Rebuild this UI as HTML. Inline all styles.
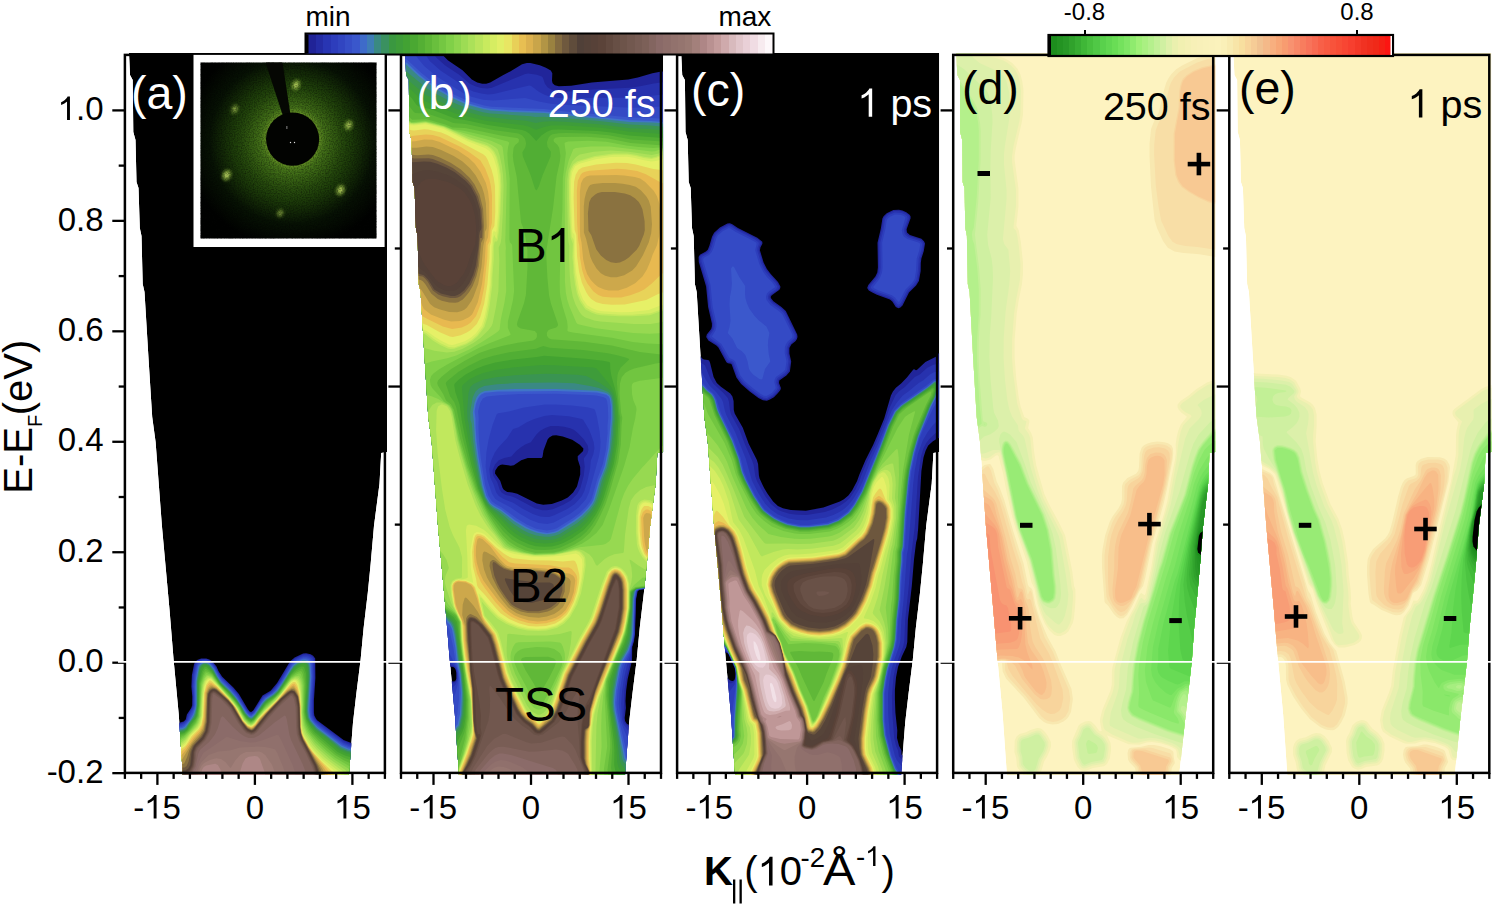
<!DOCTYPE html><html><head><meta charset='utf-8'><style>html,body{margin:0;padding:0;background:#fff;overflow:hidden}svg{display:block}text{font-family:'Liberation Sans',sans-serif}</style></head><body>
<svg width='1493' height='907' viewBox='0 0 1493 907'>
<rect width='1493' height='907' fill='#fff'/>
<clipPath id='clip0'><path d='M129.0,53.0 130.0,75.0 132.7,80.0 133.3,132.0 135.5,140.0 136.5,182.0 138.5,188.0 139.8,228.0 141.5,236.0 142.7,284.0 144.5,292.0 148.6,360.0 152.2,417.0 155.6,442.0 161.9,525.7 169.5,609.6 173.6,659.8 178.7,714.0 182.9,775.0 348.9,775.0 353.0,722.6 356.4,693.3 360.6,659.7 363.6,628.3 367.8,592.7 370.7,563.4 374.0,525.7 379.5,483.8 381.2,453.0 387.0,452.0 387.0,53.0Z'/></clipPath>
<g clip-path='url(#clip0)'><path d='M129.0,53.0 130.0,75.0 132.7,80.0 133.3,132.0 135.5,140.0 136.5,182.0 138.5,188.0 139.8,228.0 141.5,236.0 142.7,284.0 144.5,292.0 148.6,360.0 152.2,417.0 155.6,442.0 161.9,525.7 169.5,609.6 173.6,659.8 178.7,714.0 182.9,775.0 348.9,775.0 353.0,722.6 356.4,693.3 360.6,659.7 363.6,628.3 367.8,592.7 370.7,563.4 374.0,525.7 379.5,483.8 381.2,453.0 387.0,452.0 387.0,53.0Z' fill='#000'/>
<path fill='#21259a' fill-rule='evenodd' d='M303.1,653.6 306.1,653.2 310.6,654.2 313.1,655.7 315.2,658.6 315.4,678.1 313.9,700.6 313.9,712.6 314.4,715.7 315.9,718.6 317.1,720.2 323.5,725.1 343.6,739.9 350.6,742.8 356.6,743.1 363.1,744.3 367.6,746.7 371.2,751.6 380.2,767.1 383.3,773.1 383.9,775.1 122.7,775.1 122.7,762.8 123.7,762.0 127.6,750.6 136.5,732.1 139.2,727.1 143.7,722.2 145.7,721.1 153.7,719.6 174.7,722.4 180.2,722.5 183.7,721.4 185.7,719.6 186.9,714.6 191.2,708.1 192.2,705.2 192.3,696.6 191.4,686.6 191.9,675.1 194.1,664.1 195.1,662.1 197.2,660.1 201.2,658.5 206.2,658.4 209.2,659.4 212.2,661.3 216.5,666.6 218.7,671.4 222.2,676.7 233.4,687.6 238.9,694.1 247.7,709.1 249.6,711.4 251.1,712.1 253.2,710.6 262.5,695.6 270.6,690.8 277.1,683.1 290.0,661.6 294.6,657.6Z'/>
<path fill='#2732ae' fill-rule='evenodd' d='M303.1,654.6 306.6,654.3 310.6,655.4 313.1,657.2 314.3,659.6 314.7,677.6 313.1,700.1 313.1,710.6 313.3,714.6 314.9,718.6 316.6,720.8 322.7,725.6 343.1,740.7 350.1,743.7 356.6,744.1 362.6,745.3 367.1,747.7 370.6,752.3 379.5,767.1 382.8,773.1 383.3,775.1 122.7,775.1 122.7,764.1 123.7,763.4 128.0,751.1 134.7,737.2 139.7,728.0 143.7,723.6 146.2,722.2 153.2,720.8 174.7,723.5 180.7,723.4 184.2,722.0 186.6,719.6 187.6,715.1 191.7,708.6 192.8,705.6 192.9,696.1 192.1,686.6 192.7,675.1 195.0,664.1 195.8,662.6 197.9,660.6 201.6,659.1 206.2,659.1 210.1,660.6 212.2,662.2 216.1,667.1 218.1,671.6 221.7,677.1 232.9,688.1 238.4,694.6 247.2,709.5 249.4,712.1 251.2,712.8 253.9,710.6 263.1,696.2 270.6,691.7 274.1,688.2 280.1,680.1 287.9,666.1 290.6,662.2 295.1,658.3Z'/>
<path fill='#2d3ebc' fill-rule='evenodd' d='M304.1,655.6 307.6,655.8 310.6,656.9 312.5,658.6 313.2,660.6 313.8,677.2 312.3,700.1 312.2,710.7 312.5,715.1 314.2,719.1 316.1,721.6 322.1,726.6 343.6,742.4 350.1,745.0 362.1,746.5 366.3,748.6 372.6,757.0 381.1,771.1 382.8,775.1 122.7,775.1 122.7,764.9 123.8,764.2 128.6,751.2 135.5,737.1 140.5,728.6 144.2,725.0 146.6,723.6 153.2,722.3 174.7,724.7 180.7,724.5 184.2,723.0 187.2,720.1 188.5,715.6 192.3,709.1 193.5,705.6 193.6,696.1 192.9,686.6 193.5,675.6 195.7,665.1 196.7,663.2 198.9,661.1 202.2,659.9 206.2,659.8 209.7,661.2 212.1,663.1 215.6,667.6 217.7,672.1 221.3,677.6 232.4,688.6 237.7,695.0 246.7,709.9 249.2,712.8 251.2,713.6 252.7,713.0 254.3,711.1 260.1,701.5 263.6,696.8 271.1,692.3 274.8,688.6 280.6,680.7 288.5,666.6 291.1,663.0 294.2,660.1 298.1,657.7Z'/>
<path fill='#344ac5' fill-rule='evenodd' d='M303.1,657.0 306.6,656.9 310.1,658.1 311.6,660.0 312.4,662.6 312.9,677.1 311.3,700.1 311.2,710.2 311.6,715.6 313.4,719.6 315.6,722.4 321.6,727.5 343.1,743.6 349.6,746.2 362.1,748.0 365.6,749.8 369.1,753.4 371.9,757.1 381.6,773.0 382.3,775.1 122.7,775.1 122.7,765.5 123.7,765.2 124.2,764.3 129.0,751.6 134.2,741.1 139.2,732.5 142.5,728.1 146.7,725.2 153.2,723.9 174.7,726.1 181.2,725.7 184.7,723.8 188.0,720.2 189.5,716.1 193.3,709.1 194.1,706.1 194.3,696.1 193.7,686.7 194.4,675.6 196.5,665.6 197.6,663.6 199.7,661.8 202.6,660.6 206.2,660.6 209.7,662.0 211.6,663.6 215.1,668.1 220.8,678.1 231.7,689.1 236.8,695.1 246.3,710.6 248.7,713.4 251.1,714.5 252.7,713.9 254.7,711.7 260.6,702.1 264.1,697.6 271.6,692.9 275.4,689.1 281.1,681.3 289.1,667.3 291.8,663.6 296.1,660.0Z'/>
<path fill='#3b58cc' fill-rule='evenodd' d='M303.6,658.1 306.6,658.2 309.2,659.1 310.6,661.0 311.5,664.1 312.1,676.6 310.3,700.1 310.1,710.1 310.6,715.7 312.3,719.6 315.0,723.1 320.6,728.1 342.5,744.6 348.4,747.1 360.1,748.9 365.1,751.1 370.6,756.7 381.1,773.0 381.9,775.1 122.7,775.1 122.7,766.1 124.2,765.1 129.6,751.6 134.7,741.6 139.4,733.6 143.2,729.2 147.2,726.6 153.2,725.4 174.7,727.4 181.7,726.9 184.7,725.1 188.9,720.1 192.9,712.2 194.8,706.1 194.6,686.6 195.3,676.1 197.3,666.1 198.4,664.1 200.2,662.6 202.7,661.5 206.2,661.4 209.2,662.6 211.1,664.1 214.6,668.6 220.7,679.1 231.2,689.7 236.7,696.3 247.4,713.1 249.7,715.1 251.2,715.5 254.6,712.8 261.2,702.7 264.9,698.1 272.1,693.5 276.1,689.6 281.5,682.1 292.2,664.6 297.0,660.6Z'/>
<path fill='#4075c8' fill-rule='evenodd' d='M302.1,659.6 305.1,659.3 308.1,660.1 309.6,662.0 310.5,664.6 311.2,676.6 309.1,710.1 309.9,716.7 311.5,720.1 314.2,723.6 317.6,727.0 341.7,745.6 348.6,748.5 361.6,750.7 366.1,753.4 370.1,757.3 380.6,773.1 381.4,775.2 122.7,775.1 122.7,766.8 124.3,765.7 129.9,752.1 135.2,742.0 139.8,734.6 143.2,730.7 148.2,727.9 152.7,727.0 174.7,728.7 182.2,728.0 184.7,726.6 189.6,720.6 193.0,714.6 195.1,708.6 195.7,704.6 195.4,686.6 195.9,678.6 198.0,667.1 198.9,665.1 200.7,663.4 203.2,662.2 206.2,662.2 208.6,663.1 210.5,664.6 214.1,669.1 217.7,676.1 221.7,681.7 230.7,690.4 236.3,697.1 246.7,713.3 249.2,715.8 251.2,716.6 254.8,713.6 261.8,703.1 265.6,698.6 272.7,694.1 276.6,690.3 282.1,682.7 290.3,668.6 293.0,665.1 297.1,661.7Z'/>
<path fill='#3a8984' fill-rule='evenodd' d='M302.6,660.6 305.1,660.5 307.6,661.5 309.1,663.7 309.8,667.1 310.2,676.6 308.1,710.1 309.0,717.1 310.6,720.5 317.1,728.0 341.1,746.8 348.1,749.7 361.5,752.2 367.6,755.9 369.5,757.6 379.1,771.7 380.9,775.1 122.7,775.1 122.7,767.6 123.7,767.3 124.7,765.7 130.5,752.1 135.7,742.5 138.2,738.3 143.2,732.1 148.7,729.3 152.2,728.6 163.2,728.9 174.7,730.0 182.7,729.2 185.7,727.2 190.9,720.1 193.9,715.1 195.8,709.1 196.4,704.6 196.4,681.6 198.9,667.6 199.7,665.6 201.7,663.9 203.7,663.0 206.1,662.9 208.1,663.6 210.0,665.1 213.6,669.6 217.2,676.6 221.1,682.3 230.2,691.0 236.5,698.6 246.0,713.6 249.1,716.9 251.2,717.7 252.7,716.9 255.3,714.1 262.3,703.6 265.8,699.6 273.3,694.6 277.4,690.6 293.6,665.8 298.1,662.3Z'/>
<path fill='#3a9452' fill-rule='evenodd' d='M301.6,662.0 304.1,661.7 306.6,662.4 308.3,664.6 308.9,667.7 309.4,676.1 307.1,710.1 308.1,717.5 309.6,720.7 316.6,729.0 327.6,737.2 340.6,748.0 347.6,750.9 361.1,753.5 367.6,757.0 379.1,772.6 380.3,775.1 122.7,775.1 122.7,768.6 123.7,768.1 124.7,766.5 131.1,752.1 136.0,743.1 138.7,738.8 143.7,733.0 148.7,730.9 152.2,730.1 162.7,730.3 174.2,731.3 180.7,730.8 184.6,729.6 186.7,727.5 188.9,723.6 194.2,716.9 195.7,713.1 197.0,705.1 197.1,681.6 199.2,669.6 200.3,666.6 202.1,664.6 204.2,663.7 206.2,663.7 209.5,665.6 213.2,670.2 216.8,677.1 220.7,682.9 229.7,691.6 236.1,699.1 241.3,706.7 245.2,713.6 248.7,717.6 251.2,718.7 252.7,718.1 255.7,714.6 263.1,703.7 266.1,700.5 273.9,695.1 277.9,691.2 283.1,683.6 289.3,673.1 294.1,666.6 298.1,663.5Z'/>
<path fill='#3e9c3a' fill-rule='evenodd' d='M303.6,662.8 306.1,663.7 307.3,665.1 308.0,668.1 308.5,676.1 306.3,710.6 307.4,717.7 309.1,721.4 316.1,730.0 327.1,738.2 339.6,748.9 347.1,752.1 361.1,755.0 367.6,758.1 378.6,773.2 379.5,775.1 122.7,775.1 122.7,769.6 123.2,769.6 124.7,767.3 133.2,749.2 139.2,739.3 144.2,733.8 152.7,731.5 177.2,732.5 183.7,731.2 186.7,729.0 189.4,724.1 194.7,717.6 196.3,713.6 197.6,705.1 197.8,682.1 200.0,670.1 201.4,666.6 203.0,665.1 206.2,664.5 208.9,666.1 213.1,671.3 216.2,677.2 220.1,683.1 229.4,692.2 235.8,699.6 241.0,707.1 243.7,712.4 247.7,717.6 251.2,719.6 253.1,718.6 265.1,702.5 267.6,700.0 274.3,695.6 278.3,691.6 289.8,673.6 294.6,667.3 298.6,664.4Z'/>
<path fill='#43a331' fill-rule='evenodd' d='M301.1,664.6 303.6,664.3 305.6,665.2 307.4,672.6 307.4,686.7 306.1,699.1 305.7,711.2 306.9,718.6 309.7,723.6 315.6,731.1 329.1,741.6 339.1,750.3 346.1,753.5 360.1,756.9 366.0,759.7 376.3,773.7 376.7,775.2 122.7,775.1 122.7,770.6 123.7,770.1 133.7,749.3 139.7,739.9 144.2,735.1 152.7,732.7 177.7,733.6 183.7,732.2 187.1,729.6 190.2,724.4 195.3,718.1 196.6,715.1 198.1,705.2 198.4,682.6 200.9,670.6 202.2,667.5 203.7,666.1 205.1,665.4 207.2,665.9 211.5,670.1 219.7,683.3 229.1,692.6 235.2,699.7 240.5,707.1 243.7,713.3 247.3,718.1 251.1,720.3 253.7,718.8 265.1,703.4 268.1,700.5 274.6,696.1 279.0,691.6 290.3,674.1 293.6,669.9 297.1,666.7Z'/>
<path fill='#51ae34' fill-rule='evenodd' d='M301.1,666.6 303.1,666.4 304.1,667.0 306.1,673.6 306.5,686.6 305.5,698.6 305.1,712.1 306.5,719.6 311.3,728.1 315.1,732.6 338.1,752.2 345.6,755.8 357.1,759.1 363.4,762.1 368.7,769.6 371.4,775.1 122.7,775.1 122.7,771.3 124.1,770.1 127.7,762.1 134.2,749.6 140.3,740.6 144.7,736.4 146.6,735.5 153.1,734.2 161.7,734.3 173.2,735.3 177.2,735.1 184.2,732.9 187.7,730.1 190.7,725.2 195.8,718.6 197.2,715.6 198.6,705.6 199.1,682.6 201.9,671.6 204.2,667.6 205.6,667.0 206.7,667.3 211.7,671.7 219.4,683.6 228.7,692.9 236.5,702.1 240.3,707.6 243.2,713.4 247.0,718.6 251.2,721.0 253.7,719.6 265.3,704.1 268.4,701.1 274.6,696.7 279.1,692.1 290.6,674.9 294.1,671.0 297.6,668.2Z'/>
<path fill='#60b838' fill-rule='evenodd' d='M301.6,668.6 303.1,669.7 304.4,673.6 305.4,683.2 304.5,711.6 304.9,715.6 306.5,722.1 310.3,729.1 313.6,733.4 318.6,738.1 336.6,753.7 344.6,757.9 355.1,761.7 361.1,765.0 365.3,771.7 366.6,775.1 122.7,775.1 122.6,771.8 124.2,770.9 128.2,762.1 134.9,749.6 141.2,741.2 145.2,737.7 147.7,736.7 153.7,735.8 173.2,737.0 177.2,736.8 184.2,734.0 188.2,730.6 194.9,721.6 197.7,716.1 199.1,705.6 199.8,683.1 203.1,672.1 205.2,669.1 206.2,669.1 209.2,670.9 212.7,674.0 219.2,683.9 228.2,693.1 236.1,702.5 239.7,707.6 243.1,714.2 246.7,719.1 249.2,720.9 251.2,721.6 254.2,719.7 266.1,704.2 275.1,697.0 279.3,692.6 291.6,675.0 296.6,670.7Z'/>
<path fill='#71c540' fill-rule='evenodd' d='M300.1,671.1 301.6,671.6 302.8,674.1 304.4,683.6 303.8,712.1 304.6,718.6 305.9,723.1 309.3,730.2 312.7,734.6 318.6,740.7 335.1,755.1 344.1,760.4 354.1,764.8 358.5,767.6 360.5,770.6 362.2,775.2 122.7,775.1 122.7,772.4 123.7,772.1 124.4,771.1 128.4,762.6 135.7,749.7 141.7,742.2 145.7,739.1 148.2,738.1 154.2,737.3 173.1,738.6 177.7,738.4 184.7,734.9 189.2,730.6 195.7,722.2 198.4,716.1 199.7,705.1 200.5,683.6 202.9,676.1 204.7,672.2 205.7,671.2 208.7,672.1 212.2,674.6 218.8,684.1 234.5,701.1 239.2,707.6 241.9,713.1 246.0,719.1 248.2,721.1 250.6,722.3 253.7,720.9 266.2,705.1 275.1,697.7 279.1,693.5 291.6,676.3 296.1,672.8Z'/>
<path fill='#82d149' fill-rule='evenodd' d='M206.7,673.0 210.2,674.3 212.2,675.8 218.3,684.1 234.2,701.4 239.0,708.1 241.7,713.6 245.6,719.6 248.7,722.1 250.6,723.0 252.2,722.6 254.1,721.1 264.1,708.4 279.1,694.2 291.1,677.8 296.1,674.4 298.6,673.5 300.3,673.6 301.1,674.8 302.5,679.1 303.5,685.6 303.1,712.1 303.9,719.1 305.6,725.5 308.1,730.9 311.1,735.2 316.4,741.1 327.1,751.2 335.1,757.7 353.6,768.6 356.7,771.6 357.8,775.1 122.7,775.1 122.7,772.9 123.7,772.7 124.5,771.6 128.7,763.1 136.2,750.2 140.2,745.2 143.7,742.0 147.7,739.8 153.7,738.9 173.2,740.3 178.2,739.9 183.7,737.0 189.8,731.1 196.2,723.1 198.9,717.1 200.3,705.1 201.2,684.1 203.6,677.1 205.6,673.6Z'/>
<path fill='#97d951' fill-rule='evenodd' d='M206.7,674.9 210.2,675.4 212.1,676.8 217.8,684.1 233.7,701.7 238.4,708.1 244.9,719.6 248.2,722.6 250.7,723.7 252.1,723.3 254.2,721.8 264.1,709.3 279.4,694.6 291.1,678.8 295.1,676.2 299.1,675.8 301.3,679.6 302.5,685.6 302.9,705.1 302.4,712.6 303.2,719.7 304.6,726.1 307.1,731.9 315.1,742.5 325.6,752.6 334.2,759.6 348.3,768.6 352.2,772.6 353.3,775.1 122.7,775.1 122.7,773.6 123.7,773.3 124.7,772.1 129.2,763.3 136.7,750.6 140.7,746.0 143.7,743.4 148.7,741.0 153.7,740.4 173.2,741.9 179.2,741.3 184.7,737.7 192.9,728.6 197.1,723.3 199.7,716.6 201.9,685.1 204.0,678.6Z'/>
<path fill='#ace159' fill-rule='evenodd' d='M208.2,676.1 211.7,677.3 225.1,693.0 230.2,698.1 237.9,708.2 244.2,719.6 248.2,723.3 250.7,724.4 252.1,724.0 254.1,722.5 264.6,709.7 276.6,698.4 281.2,693.2 291.1,679.7 295.1,677.3 298.3,677.6 300.3,680.6 301.5,685.6 302.2,704.7 301.8,713.6 303.4,725.6 306.2,733.1 313.6,743.6 318.1,748.4 330.1,759.2 345.4,770.1 347.8,773.1 348.4,775.1 123.4,775.1 128.2,766.0 137.2,751.1 143.2,745.0 148.7,742.5 153.2,742.0 173.2,743.6 179.7,742.9 182.2,741.5 185.1,739.0 195.9,726.6 198.3,723.1 200.6,715.6 201.8,691.6 202.9,684.1 205.4,678.1 206.7,676.6Z'/>
<path fill='#c1e85d' fill-rule='evenodd' d='M207.7,677.5 211.2,677.7 214.2,680.9 233.4,702.6 237.7,708.7 244.0,720.1 247.7,723.7 250.7,725.1 252.2,724.7 254.2,723.1 264.6,710.5 275.7,700.1 281.7,693.2 288.6,683.3 291.5,680.1 295.1,678.4 297.6,679.1 299.4,681.6 300.5,686.1 301.2,693.1 301.6,705.6 301.3,713.1 302.2,724.6 303.3,729.6 305.1,734.2 312.1,744.6 316.5,749.6 324.6,757.5 342.4,771.1 344.0,773.2 344.5,775.1 124.2,775.2 127.7,767.7 137.7,751.6 139.7,749.2 143.7,745.9 149.1,743.9 153.7,743.5 172.7,745.2 178.7,744.8 182.5,743.1 186.1,739.6 189.6,734.6 197.2,726.6 199.8,721.6 201.2,715.6 202.4,692.1 203.3,685.6 204.8,681.1Z'/>
<path fill='#d5ed62' fill-rule='evenodd' d='M208.1,678.5 211.1,678.6 220.1,688.1 234.5,704.6 237.3,708.6 243.7,720.4 247.7,724.4 250.7,725.7 252.4,725.1 254.7,723.3 257.6,719.0 264.7,711.1 276.1,700.3 291.6,680.9 294.6,679.5 296.6,680.1 298.1,681.6 298.9,683.6 300.6,693.1 301.7,726.1 302.6,731.1 304.1,735.1 310.6,745.6 314.7,750.7 323.1,759.0 339.7,772.1 341.0,773.6 341.3,775.1 124.7,775.1 128.2,767.7 138.2,752.1 139.7,750.1 143.7,747.0 149.2,745.3 153.7,745.1 175.2,746.9 180.7,745.9 182.9,744.6 185.2,742.6 190.2,735.1 197.6,727.6 200.0,723.6 201.8,716.1 202.5,698.6 204.0,686.1 205.5,681.6Z'/>
<path fill='#e6f067' fill-rule='evenodd' d='M209.7,679.1 211.2,679.5 213.7,681.9 229.6,699.1 236.9,708.6 243.1,720.3 247.7,724.9 250.7,726.3 252.7,725.6 254.7,723.9 258.0,719.1 265.1,711.3 276.4,700.6 290.6,682.8 293.6,680.6 295.1,680.5 296.1,681.1 298.1,684.5 300.0,693.1 300.9,706.1 300.6,713.6 301.3,726.6 302.3,732.1 303.6,735.8 309.6,746.3 313.6,751.6 322.1,760.4 337.9,773.7 338.5,775.2 125.2,775.1 128.2,768.5 138.7,752.8 140.4,750.6 144.2,748.0 149.7,746.6 153.2,746.5 171.7,748.5 175.7,748.5 180.7,747.5 183.2,746.1 185.7,743.8 190.8,735.6 198.2,728.4 200.7,724.2 202.4,716.1 203.0,698.7 204.6,686.6 206.6,681.5 208.2,679.7Z'/>
<path fill='#e8d359' fill-rule='evenodd' d='M209.2,680.6 210.7,680.6 213.2,682.5 229.2,699.1 236.5,708.6 243.0,720.7 247.7,725.5 250.7,726.8 252.7,726.2 255.5,723.6 258.1,719.6 265.4,711.6 276.8,700.6 290.5,684.1 293.1,682.0 295.3,682.1 297.3,685.1 299.5,693.6 300.7,706.6 300.4,713.6 301.1,727.1 302.0,732.6 303.6,737.0 309.1,746.6 313.1,752.2 321.2,761.1 333.2,772.6 334.6,775.1 125.8,775.2 128.7,768.7 135.7,758.6 140.7,752.2 144.2,749.8 147.2,748.9 152.2,748.5 170.7,750.8 175.2,750.8 181.1,749.1 184.1,747.1 186.2,745.0 191.8,736.1 198.8,729.1 201.4,724.6 203.0,716.6 204.2,692.4 206.2,684.8Z'/>
<path fill='#e8b950' fill-rule='evenodd' d='M209.7,682.5 211.6,682.9 217.2,687.1 228.7,699.1 235.5,707.6 242.7,720.6 247.6,726.0 251.2,727.4 253.1,726.5 255.6,724.1 259.1,719.1 276.8,701.1 289.6,686.5 292.6,684.1 294.6,683.8 297.1,687.6 299.2,694.6 300.5,706.6 300.2,713.6 300.8,727.1 301.7,732.6 303.1,736.7 308.6,746.7 312.4,752.1 326.6,768.6 330.5,773.6 331.1,775.1 126.5,775.1 126.8,773.6 129.2,769.1 136.2,759.6 141.7,753.8 144.7,751.9 147.2,751.2 152.2,750.9 176.2,754.0 181.2,751.7 185.1,748.3 193.2,736.8 200.0,729.6 202.0,725.7 203.7,716.6 204.8,692.6 206.7,686.6 208.2,683.9Z'/>
<path fill='#cda84b' fill-rule='evenodd' d='M210.2,684.4 211.7,684.6 216.6,687.5 228.7,699.5 235.2,707.6 242.7,721.1 247.7,726.5 251.1,728.0 252.7,727.6 255.8,724.7 259.3,719.6 278.1,700.1 286.6,690.5 291.6,686.4 293.1,685.6 294.1,685.8 297.1,690.3 299.0,696.1 300.2,706.6 300.6,727.1 301.5,732.6 302.6,736.2 308.6,747.4 324.6,769.1 327.5,773.6 327.8,775.2 127.2,775.1 127.7,773.1 129.7,769.6 136.7,760.7 142.7,755.4 145.7,753.8 152.2,753.4 177.2,757.3 179.2,756.9 182.1,754.6 186.2,749.6 193.9,738.2 200.2,731.5 202.3,727.6 203.2,725.1 204.4,717.6 205.5,693.1 207.7,687.3Z'/>
<path fill='#ad9144' fill-rule='evenodd' d='M210.2,686.4 212.2,686.3 216.2,687.9 228.4,699.6 234.8,707.6 242.6,721.5 247.7,727.1 251.2,728.7 253.2,727.9 256.1,724.9 259.5,720.1 266.1,712.7 287.1,690.9 291.6,687.8 293.1,687.4 294.1,687.8 296.6,691.0 298.8,697.1 300.0,706.6 300.4,727.1 301.2,732.6 302.5,736.6 308.1,747.3 322.5,769.1 325.0,775.1 128.0,775.1 128.5,773.1 130.4,770.1 137.7,761.2 143.2,757.3 146.2,755.9 152.2,755.8 177.7,760.5 180.7,760.6 182.1,759.6 191.7,743.6 195.2,738.9 200.2,733.6 203.2,728.6 205.0,720.7 206.4,693.1 208.2,688.8Z'/>
<path fill='#8a7240' fill-rule='evenodd' d='M211.7,687.6 214.7,688.0 216.7,689.1 228.1,699.8 233.1,705.6 242.5,721.6 247.7,727.7 251.2,729.4 253.7,728.3 266.1,713.3 287.1,691.8 291.6,689.1 293.1,689.0 294.6,689.8 297.4,694.1 298.7,698.1 299.9,707.1 300.2,727.2 301.2,733.6 303.5,739.6 320.6,769.1 322.5,775.1 128.8,775.1 129.3,773.1 132.4,768.6 138.2,762.2 140.7,760.5 146.2,758.2 152.2,758.3 178.7,763.8 182.7,764.1 184.2,763.4 187.3,756.6 189.2,750.6 192.1,745.1 200.6,735.3 203.8,730.2 205.8,721.1 207.1,693.6 209.1,689.2Z'/>
<path fill='#6d573e' fill-rule='evenodd' d='M212.7,688.6 214.7,688.8 216.7,689.8 228.2,700.2 232.8,705.6 242.1,721.6 247.2,727.8 249.2,729.4 251.2,730.1 252.7,729.7 254.0,728.6 269.6,710.1 280.6,698.6 287.6,692.2 291.6,690.0 294.6,690.9 297.8,696.1 299.3,704.2 300.0,727.1 301.0,733.6 303.2,739.6 317.3,765.2 319.3,770.1 320.2,775.2 129.5,775.2 130.1,773.1 132.9,769.1 138.5,763.1 140.7,761.8 145.2,760.3 152.2,760.8 180.2,767.4 184.7,767.5 186.6,766.1 188.6,761.6 190.7,751.1 192.9,746.1 201.3,736.6 204.6,731.0 206.5,721.6 207.2,698.6 207.8,693.6 209.7,690.1Z'/>
<path fill='#564439' fill-rule='evenodd' d='M212.1,689.5 214.2,689.3 216.2,690.1 228.1,700.7 232.6,706.0 242.1,722.1 247.1,728.4 251.2,730.6 252.7,730.3 254.2,729.2 266.1,714.5 281.1,698.6 290.1,691.1 292.1,690.7 294.6,691.8 297.6,696.6 299.0,704.1 299.8,727.1 300.7,733.6 302.8,739.7 316.4,765.2 318.3,770.7 318.6,775.1 130.1,775.1 130.5,773.7 133.7,769.2 138.7,764.0 140.7,762.8 145.2,761.5 157.2,763.9 180.2,770.1 185.2,770.5 188.2,768.6 190.2,764.8 191.5,752.2 193.4,747.1 194.9,744.7 202.2,737.1 205.5,731.1 207.1,722.1 207.8,698.6 208.3,694.1 210.2,690.7Z'/>
<path fill='#544138' fill-rule='evenodd' d='M212.2,690.1 214.1,689.8 216.2,690.7 227.7,700.7 232.3,706.1 240.7,720.6 245.9,727.7 248.2,729.9 251.2,731.2 252.7,730.9 254.4,729.6 266.6,714.6 281.6,698.7 290.1,691.7 292.1,691.3 294.2,692.1 297.2,696.6 298.6,703.8 299.2,707.6 299.6,727.2 300.4,733.6 302.4,739.6 315.9,765.6 317.5,770.6 317.8,775.1 130.8,775.2 131.2,773.6 134.0,769.7 139.2,764.4 140.7,763.5 145.2,762.3 159.2,765.3 179.7,771.0 185.2,771.5 189.0,769.2 191.0,765.1 192.1,757.6 192.3,752.1 194.1,747.1 195.4,745.1 202.7,737.6 206.1,731.1 207.7,722.1 208.3,698.6 208.8,694.6 210.2,691.7Z'/>
<path fill='#594238' fill-rule='evenodd' d='M212.7,690.6 214.7,690.5 216.2,691.3 223.6,697.3 227.7,701.3 232.2,706.6 240.6,721.1 245.7,728.1 248.2,730.4 251.2,731.7 252.6,731.4 254.7,730.1 266.8,715.1 281.6,699.3 290.1,692.4 292.1,691.9 293.9,692.6 297.0,697.6 298.7,706.6 299.3,727.1 300.0,733.6 302.0,739.6 308.6,751.9 315.3,765.7 316.9,770.6 317.1,775.1 131.5,775.1 131.8,773.6 134.3,770.2 139.2,765.1 141.2,763.9 145.2,762.9 160.7,766.3 179.7,771.7 185.2,772.2 189.4,769.6 191.7,765.2 192.9,752.1 194.7,747.3 196.1,745.1 200.7,741.1 203.2,738.0 206.6,731.6 208.2,722.1 208.8,698.6 209.3,694.6 210.7,691.9Z'/>
<path fill='#61493f' fill-rule='evenodd' d='M212.7,691.1 214.2,691.0 215.7,691.6 223.3,697.6 227.3,701.6 231.7,706.7 240.0,721.1 245.4,728.6 247.7,730.7 251.2,732.2 253.2,731.8 255.2,730.4 267.1,715.5 282.0,699.7 290.1,693.0 291.6,692.5 293.6,693.1 296.5,697.6 298.3,706.7 298.9,727.1 299.7,734.1 301.5,739.6 308.1,752.0 314.7,765.6 316.3,770.6 316.5,775.1 132.1,775.1 132.5,773.6 134.7,770.6 139.7,765.5 141.2,764.5 145.2,763.5 160.7,766.9 178.7,772.0 184.2,772.9 186.7,772.3 189.7,770.1 192.1,765.6 193.2,758.1 193.5,752.1 195.1,747.6 196.4,745.6 201.2,741.4 203.7,738.3 207.2,731.6 208.8,722.1 209.4,698.1 210.2,693.6 211.2,692.1Z'/>
<path fill='#695147' fill-rule='evenodd' d='M213.2,691.6 215.2,692.0 219.4,695.1 227.0,702.2 231.3,707.1 239.7,721.6 245.1,729.1 247.6,731.4 251.2,732.8 253.1,732.4 255.7,730.7 267.6,715.8 282.3,700.1 290.1,693.6 291.6,693.1 293.3,693.6 296.1,698.1 297.8,707.1 298.4,727.1 299.2,734.1 300.9,739.6 314.1,765.6 315.8,771.2 315.9,775.1 132.8,775.1 133.2,773.6 135.2,770.9 140.2,765.8 145.2,764.1 152.7,765.5 171.2,770.8 184.2,773.7 187.2,772.6 190.2,770.5 192.7,765.6 193.8,758.1 194.0,752.6 195.7,747.8 204.1,738.6 207.7,731.6 209.4,722.1 210.0,698.1 210.8,693.6Z'/>
<path fill='#71574e' fill-rule='evenodd' d='M213.7,692.1 219.2,695.7 226.7,702.6 231.0,707.6 239.4,722.1 244.7,729.5 247.2,731.7 251.2,733.4 253.7,732.8 256.0,731.1 268.1,716.1 282.6,700.6 290.1,694.3 291.6,693.7 293.0,694.1 295.5,698.1 297.3,707.1 297.8,727.1 298.6,734.1 300.5,740.1 307.1,752.4 313.6,766.0 315.3,771.1 315.3,775.1 185.3,775.1 185.7,774.1 190.8,770.6 193.0,766.6 193.9,762.6 194.6,752.1 196.4,747.6 204.4,739.2 208.2,732.1 209.9,722.1 210.5,698.1 211.5,693.6ZM145.7,764.7 152.6,766.1 171.2,771.4 182.2,773.7 183.1,774.1 183.5,775.1 133.5,775.1 133.8,773.6 136.6,770.1 140.7,766.1Z'/>
<path fill='#795d55' fill-rule='evenodd' d='M213.2,692.9 214.7,693.1 218.7,696.1 226.2,703.0 230.2,707.6 238.9,722.6 244.2,729.9 246.7,732.2 251.2,734.0 253.7,733.4 256.4,731.7 268.5,716.6 283.1,701.0 290.1,695.1 291.6,694.4 292.6,694.8 295.0,698.6 296.6,707.1 297.2,727.2 297.9,734.1 299.8,740.1 306.6,752.8 313.0,766.1 314.6,771.1 314.7,775.1 186.5,775.1 186.9,774.1 191.2,771.1 193.6,766.6 195.0,758.1 195.2,752.6 196.8,748.1 204.8,739.6 208.9,732.1 210.6,722.6 211.1,698.6 211.8,694.6ZM144.2,765.6 147.7,765.7 160.1,768.6 170.7,771.9 181.7,774.3 182.2,775.1 134.2,775.1 134.6,773.6 136.1,771.6 140.5,767.1Z'/>
<path fill='#82645e' fill-rule='evenodd' d='M213.7,694.1 221.2,699.6 229.2,708.1 238.1,723.1 243.6,730.6 246.1,733.0 251.2,735.0 253.7,734.4 256.7,732.6 269.1,717.5 278.6,707.0 290.6,696.1 292.1,696.0 293.9,699.1 295.6,707.6 296.2,727.7 296.9,734.6 298.9,740.6 305.6,753.1 312.1,766.8 313.6,771.6 313.7,775.2 188.0,775.1 188.0,774.6 192.1,771.1 194.3,766.6 195.8,758.1 196.0,752.7 197.7,748.4 205.6,740.2 209.9,732.1 211.6,722.6 212.3,698.6 212.9,695.1ZM144.2,766.6 147.2,766.7 159.9,769.6 175.7,774.2 177.1,774.6 177.1,775.1 135.5,775.1 137.1,772.1 141.0,768.1Z'/>
<path fill='#8b6b69' fill-rule='evenodd' d='M284.6,715.6 285.6,716.1 286.7,719.1 289.5,735.1 291.1,740.1 302.6,764.1 304.7,769.6 305.7,775.1 190.8,775.1 195.5,766.7 198.1,754.2 199.1,751.6 200.9,749.1 209.2,742.1 214.9,734.6 217.7,728.6 220.8,718.1 222.2,716.2 223.7,717.0 232.4,726.6 240.2,733.6 244.2,736.2 248.7,737.9 251.2,738.1 254.2,737.8 258.9,735.6 275.2,722.1Z'/>
<path fill='#90706c' fill-rule='evenodd' d='M276.6,735.1 278.6,735.2 281.4,740.6 292.4,764.6 295.0,772.1 295.4,775.1 193.8,775.2 199.1,761.1 203.2,753.1 226.5,737.1 228.2,737.2 239.7,741.0 250.2,742.6 255.2,742.2 261.5,740.6Z'/>
<path fill='#967670' fill-rule='evenodd' d='M257.1,746.6 265.1,746.9 272.1,748.4 275.1,749.6 277.3,753.1 282.9,766.6 284.5,771.6 285.1,775.1 196.0,775.1 199.2,766.2 201.2,762.5 208.7,754.9 218.2,751.5 229.7,750.6 240.1,747.6Z'/>
<path fill='#9f7d77' fill-rule='evenodd' d='M259.1,751.6 261.9,752.6 265.4,755.2 271.9,764.6 274.5,771.6 275.0,775.2 197.9,775.1 199.7,769.4 201.7,765.6 204.2,763.1 209.7,760.1 216.2,758.2 221.1,759.1 225.6,762.2 229.7,767.3 230.7,767.9 235.4,760.2 240.1,755.1 243.2,753.2 246.0,752.1Z'/>
<path fill='#ae8786' fill-rule='evenodd' d='M254.7,756.1 257.6,756.6 260.0,759.1 264.6,772.1 265.2,775.1 239.1,775.1 242.6,763.5 245.5,758.6 248.7,756.7ZM215.2,763.8 217.8,765.1 220.2,768.9 222.6,775.1 200.5,775.1 202.2,769.6 203.8,767.1 206.2,765.6Z'/>
</g>
<clipPath id='clip1'><path d='M405.1,53.0 406.1,75.0 408.8,80.0 409.4,132.0 411.6,140.0 412.6,182.0 414.6,188.0 415.9,228.0 417.6,236.0 418.8,284.0 420.6,292.0 424.7,360.0 428.3,417.0 431.7,442.0 438.0,525.7 445.6,609.6 449.7,659.8 454.8,714.0 459.0,775.0 625.0,775.0 629.1,722.6 632.5,693.3 636.7,659.7 639.7,628.3 643.9,592.7 646.8,563.4 650.1,525.7 655.6,483.8 657.3,453.0 663.1,452.0 663.1,53.0Z'/></clipPath>
<g clip-path='url(#clip1)'><path d='M405.1,53.0 406.1,75.0 408.8,80.0 409.4,132.0 411.6,140.0 412.6,182.0 414.6,188.0 415.9,228.0 417.6,236.0 418.8,284.0 420.6,292.0 424.7,360.0 428.3,417.0 431.7,442.0 438.0,525.7 445.6,609.6 449.7,659.8 454.8,714.0 459.0,775.0 625.0,775.0 629.1,722.6 632.5,693.3 636.7,659.7 639.7,628.3 643.9,592.7 646.8,563.4 650.1,525.7 655.6,483.8 657.3,453.0 663.1,452.0 663.1,53.0Z' fill='#000'/>
<path fill='#21259a' fill-rule='evenodd' d='M441.2,52.6 441.7,54.1 447.8,60.2 462.5,70.2 471.8,79.4 477.2,82.4 482.2,83.7 486.2,83.7 490.2,82.5 502.9,75.2 510.2,71.5 522.1,64.2 526.8,63.1 530.4,63.1 539.8,65.3 545.9,67.7 550.8,70.4 552.3,73.2 552.0,80.7 552.6,83.2 554.8,85.3 558.8,86.3 571.2,85.8 591.8,82.5 628.2,79.4 637.8,77.4 652.4,73.2 660.2,71.7 663.2,71.6 663.2,604.9 661.8,604.1 655.8,593.9 653.5,592.1 645.8,589.0 639.8,589.8 637.7,591.1 636.1,599.1 635.0,634.1 634.0,641.1 632.2,647.1 632.0,660.6 627.7,679.1 626.1,691.1 625.5,701.1 625.9,708.1 624.7,718.1 625.1,721.1 626.8,723.7 638.2,731.4 644.2,734.4 647.2,735.3 652.2,736.1 657.2,734.3 659.2,732.7 662.2,727.3 663.2,726.8 663.2,775.1 398.8,775.1 398.8,52.6ZM552.6,435.6 549.2,437.5 547.6,439.6 543.5,450.6 542.6,456.6 541.8,457.9 527.8,457.9 521.2,460.3 513.8,465.2 510.8,465.7 502.2,464.6 500.2,464.9 498.0,466.6 495.3,470.6 495.0,473.6 500.2,480.7 502.6,488.1 503.8,489.7 507.2,492.0 512.2,492.4 517.2,493.8 536.8,503.5 543.2,504.8 551.8,504.1 561.8,500.5 567.8,497.4 573.1,492.6 577.0,486.6 580.2,474.6 580.2,467.1 577.8,459.5 577.7,456.2 583.1,451.1 583.4,448.6 579.8,444.7 572.2,439.8 562.8,436.4 556.2,435.3ZM449.6,667.1 448.2,668.4 447.5,671.1 448.4,678.6 449.2,680.3 450.8,681.3 454.2,681.5 455.8,680.3 456.3,678.6 456.3,673.1 455.7,670.1 454.8,668.3 453.2,667.1 451.2,666.7Z'/>
<path fill='#2732ae' fill-rule='evenodd' d='M434.2,52.7 434.7,55.2 436.2,57.6 445.2,65.6 459.2,74.8 469.7,83.7 475.8,86.6 481.2,88.1 487.2,88.4 491.9,87.7 525.2,74.1 528.2,73.4 536.8,74.8 541.8,76.4 542.9,77.7 544.9,83.7 547.5,87.2 551.8,90.1 557.2,91.5 572.8,91.5 593.2,89.4 630.2,87.8 640.2,86.3 653.8,83.4 663.2,82.3 663.2,604.5 662.2,604.1 655.8,593.6 654.0,592.1 645.8,588.8 639.3,589.7 637.3,591.1 635.8,599.1 634.7,634.1 633.6,641.1 631.8,647.2 630.9,659.6 626.3,678.2 624.5,690.6 623.5,717.2 623.9,721.1 625.8,724.6 636.2,734.4 644.2,740.3 646.8,741.1 652.8,741.0 663.2,737.4 663.2,775.1 398.8,775.1 398.8,52.6ZM550.7,426.1 545.2,428.0 540.2,430.8 536.4,434.6 530.8,442.3 525.2,444.6 521.2,447.0 516.2,451.1 511.3,456.4 504.2,458.0 498.7,460.3 495.0,464.6 492.6,470.6 493.1,475.6 497.2,482.1 499.6,489.6 501.8,492.7 505.8,495.1 511.2,496.2 515.2,497.8 534.8,508.2 542.2,510.2 546.8,510.3 552.8,509.2 563.2,504.8 570.8,500.5 577.2,494.1 580.4,488.1 583.8,475.6 584.7,466.6 583.8,458.6 587.4,453.6 588.4,450.1 587.8,445.6 584.0,439.6 577.8,433.0 573.8,429.8 570.2,428.3 564.2,426.8 557.8,426.0ZM447.5,665.6 445.4,667.1 444.4,670.1 445.2,680.3 446.3,682.1 447.8,683.1 450.8,683.6 453.7,683.0 455.8,681.7 456.9,679.1 456.8,672.6 456.0,669.1 454.8,667.3 452.8,665.8 450.2,665.3Z'/>
<path fill='#2d3ebc' fill-rule='evenodd' d='M425.1,52.6 426.1,55.6 429.7,61.1 440.8,70.8 454.8,79.9 465.8,87.9 473.2,91.5 481.3,93.6 487.8,94.4 493.8,94.0 529.2,85.4 531.2,86.0 538.8,91.7 544.5,94.7 551.8,97.2 559.2,98.1 574.2,98.5 592.8,97.7 632.8,97.7 663.2,94.5 663.2,604.1 662.2,603.6 655.8,593.1 653.5,591.6 645.8,588.6 638.8,589.6 636.9,591.1 635.4,599.1 634.4,620.7 634.4,633.1 633.8,638.1 631.5,646.6 630.8,653.8 626.8,666.1 624.2,677.6 622.1,691.1 621.2,703.6 622.0,719.1 623.4,724.1 633.8,739.3 640.2,747.2 642.8,748.9 645.8,749.7 660.2,744.7 663.2,744.1 663.2,775.1 398.8,775.1 398.8,52.6ZM552.0,415.1 544.2,416.1 534.2,419.0 526.8,422.3 518.2,427.4 513.0,429.1 506.8,438.6 498.8,447.1 494.8,452.5 491.0,461.1 489.2,469.6 490.3,477.6 493.6,484.6 496.2,492.6 498.8,496.0 504.2,499.2 513.2,502.8 522.2,508.4 532.9,514.1 540.2,516.5 545.8,517.1 549.2,516.9 554.2,515.3 566.8,509.3 574.8,504.0 581.6,496.6 584.4,491.1 587.6,480.1 590.1,468.6 590.8,460.6 593.3,454.6 594.4,448.6 593.8,442.6 591.2,435.0 589.0,429.6 583.0,419.6 580.8,418.7 568.8,416.3ZM443.4,659.1 441.8,661.6 440.6,665.6 440.1,671.1 440.5,679.1 442.6,687.6 444.8,691.2 446.2,692.1 451.2,688.9 455.8,684.3 457.6,679.6 457.4,674.1 456.4,668.6 453.8,664.9 447.2,660.2 444.8,659.0Z'/>
<path fill='#344ac5' fill-rule='evenodd' d='M414.3,52.6 414.7,54.1 418.3,59.1 424.4,66.2 437.1,76.7 462.8,92.8 471.4,96.7 483.2,99.7 493.3,100.6 525.2,97.9 538.8,101.4 550.8,103.7 561.8,104.8 632.8,107.8 663.2,106.6 663.2,603.7 662.2,603.3 656.0,593.1 652.8,591.1 647.2,588.6 645.2,588.4 638.8,589.3 636.5,591.1 635.1,599.1 634.1,620.1 634.0,633.1 633.4,638.1 630.1,652.6 624.9,664.6 623.2,670.6 619.7,691.1 618.7,703.6 621.0,722.2 628.8,741.4 634.3,752.7 645.8,759.7 648.8,760.8 650.2,759.9 653.1,755.6 655.8,753.1 659.2,751.2 663.2,750.3 663.2,775.1 398.8,775.1 398.8,52.6ZM545.1,404.6 523.8,407.6 506.2,412.1 498.2,413.3 496.8,414.0 492.7,424.6 488.6,439.6 486.4,452.6 485.6,466.6 487.3,479.6 492.1,494.1 495.2,498.8 498.4,501.1 510.8,507.5 519.8,513.8 530.2,519.8 538.8,522.9 547.2,524.0 553.8,522.6 570.2,513.7 578.6,507.6 586.1,499.1 589.0,492.6 598.8,457.1 600.2,449.1 600.5,441.6 599.6,431.6 597.0,417.1 595.2,410.6 594.2,408.9 587.2,407.3 571.8,405.4 554.8,404.4ZM442.3,643.1 439.1,650.6 436.9,660.1 436.1,669.1 436.2,679.6 437.2,688.6 439.0,696.6 442.7,707.1 444.8,711.7 445.8,712.7 447.2,711.1 455.2,693.7 457.6,685.1 458.3,678.1 457.7,671.6 456.6,667.6 447.2,648.9 443.8,643.6Z'/>
<path fill='#3b58cc' fill-rule='evenodd' d='M403.8,58.2 407.8,60.3 420.8,72.4 428.5,78.7 440.8,87.2 452.8,94.1 468.3,101.1 484.2,105.6 491.2,106.7 543.8,109.1 574.8,112.5 600.2,114.4 630.8,117.6 651.8,118.0 663.2,118.8 663.2,603.3 662.2,602.9 655.8,592.6 652.2,590.6 647.2,588.5 644.8,588.2 638.2,589.3 636.1,591.1 634.6,599.1 633.6,633.1 633.0,638.1 629.3,652.1 623.2,663.5 621.5,669.1 617.6,690.7 616.5,703.6 617.1,710.1 619.0,720.1 627.8,756.9 642.8,767.6 650.8,771.8 655.2,769.0 658.2,762.4 659.7,757.6 661.2,756.4 663.2,756.0 663.2,775.1 398.8,775.1 398.8,57.1ZM519.2,394.1 499.2,395.2 486.8,396.5 482.8,398.6 480.2,403.0 478.1,411.6 478.7,417.6 478.4,427.1 479.1,441.1 480.7,457.6 485.2,485.3 488.3,495.6 491.8,501.3 495.4,504.1 502.2,507.8 516.9,518.6 526.8,524.6 536.2,528.7 546.8,530.6 553.0,529.6 556.8,528.3 565.1,523.1 573.2,518.1 579.8,513.1 586.2,506.7 589.8,502.1 591.8,498.4 597.1,479.6 602.7,464.6 605.8,450.3 607.6,433.1 607.5,425.6 608.2,418.1 607.9,407.1 607.1,401.1 606.0,398.6 603.8,397.3 596.4,395.6 589.2,395.0 555.8,393.7ZM437.2,618.1 436.2,620.1 434.3,632.1 432.7,649.1 432.5,688.1 433.5,708.1 435.6,724.6 437.2,730.5 438.2,731.6 439.2,731.9 444.2,730.1 453.5,724.6 454.9,723.1 457.4,714.1 459.0,699.1 459.1,678.6 458.1,670.7 455.2,660.6 453.3,647.6 449.3,629.6 447.7,626.6 440.9,619.6 438.2,617.9Z'/>
<path fill='#4075c8' fill-rule='evenodd' d='M403.2,60.9 407.2,63.1 419.2,74.2 427.2,80.7 439.8,89.2 451.0,95.7 467.3,103.0 483.7,107.7 490.8,108.8 512.2,110.3 543.8,111.4 630.2,120.3 651.2,120.9 663.2,122.1 663.2,602.9 662.2,602.4 655.8,592.4 647.8,588.5 644.8,588.0 638.8,588.9 636.8,589.6 635.6,591.1 634.1,598.6 633.0,633.1 632.2,639.0 628.8,650.8 622.2,662.2 620.2,668.1 616.1,690.6 615.0,702.6 615.8,710.8 625.7,758.1 626.8,759.4 640.4,769.1 647.2,773.4 648.1,775.1 398.8,775.1 398.8,60.0ZM498.2,391.5 484.8,392.8 481.2,394.5 479.8,395.9 477.8,398.9 475.9,404.1 474.6,411.6 475.5,418.6 475.6,427.6 476.6,441.6 478.7,457.6 483.2,484.1 486.3,495.6 489.2,501.1 491.2,503.5 494.8,506.0 501.2,509.4 515.2,520.2 525.8,526.6 530.8,529.0 539.2,531.7 547.2,532.9 554.2,531.7 558.0,530.2 574.0,520.1 581.2,514.7 587.8,508.1 591.6,503.1 593.4,499.6 599.0,480.1 601.9,473.6 604.6,465.7 608.3,448.1 610.9,418.1 610.9,406.6 609.8,398.8 608.7,396.6 606.2,394.8 596.8,392.5 556.8,390.9ZM436.2,614.1 434.5,615.6 433.2,619.6 431.1,639.1 430.6,649.6 430.6,698.6 431.6,716.1 433.2,728.6 435.2,733.6 436.8,734.8 438.8,735.4 441.8,734.6 446.0,732.6 455.2,727.0 457.5,724.6 459.9,714.1 460.9,692.6 459.5,674.1 456.6,660.6 455.3,647.6 451.9,629.1 449.8,624.7 446.4,621.6 442.8,617.2 438.8,614.3ZM662.2,758.5 663.2,758.4 663.2,775.1 652.9,775.1 653.3,773.6 656.4,771.6 657.6,770.1 660.5,763.1 661.3,759.6Z'/>
<path fill='#3a8984' fill-rule='evenodd' d='M402.8,62.6 406.4,64.7 418.2,75.7 426.8,82.5 439.2,90.9 449.8,96.9 466.2,104.4 483.8,109.3 490.7,110.5 511.8,112.0 543.8,113.1 630.2,121.9 651.2,122.5 659.8,123.1 663.2,123.8 663.2,602.6 662.2,602.1 655.8,592.1 647.8,588.3 644.2,587.9 638.2,588.8 636.2,589.6 635.0,591.1 633.4,598.6 632.2,632.6 631.5,638.1 630.4,643.1 627.8,650.1 621.2,661.5 618.9,668.1 614.8,690.7 613.8,702.2 614.5,710.7 624.2,758.6 625.8,760.7 644.1,773.6 645.2,775.1 398.8,775.1 398.8,61.8ZM515.2,389.1 497.8,389.7 484.8,391.0 480.8,392.8 478.8,394.3 476.5,397.6 474.6,402.6 472.8,412.6 473.9,421.6 475.1,441.6 477.2,457.6 482.3,486.1 485.6,497.1 489.5,503.6 493.8,507.0 500.4,510.6 514.8,521.7 525.8,528.4 536.8,532.8 546.2,534.4 554.2,533.3 558.2,531.8 566.8,526.6 575.2,521.3 582.2,515.8 588.8,509.1 592.7,504.1 594.5,500.6 600.3,480.6 605.8,466.6 609.7,448.1 612.3,418.6 612.3,406.6 611.1,398.6 609.8,395.7 607.2,393.6 603.8,392.3 596.8,390.8 556.8,389.1ZM435.8,612.6 433.7,614.1 432.1,618.1 430.2,631.6 429.1,649.1 429.1,698.6 430.1,716.2 431.8,729.1 434.2,734.9 436.8,736.6 438.8,737.1 442.8,736.0 446.8,734.1 456.2,728.0 458.8,725.2 461.2,714.1 462.1,692.6 460.5,674.1 457.8,660.6 456.5,647.6 454.6,635.1 452.9,628.1 450.8,623.7 443.6,616.1 438.8,612.8ZM662.8,763.3 663.2,763.3 663.2,775.1 655.5,775.1 656.0,774.1 658.9,771.6Z'/>
<path fill='#3a9452' fill-rule='evenodd' d='M401.2,67.8 404.2,69.5 427.4,88.7 437.2,94.5 448.8,100.6 457.8,104.6 465.8,107.6 482.8,112.2 490.2,113.4 530.8,116.3 535.2,117.1 542.8,116.7 563.8,117.9 599.2,121.0 629.8,124.6 650.2,125.4 663.2,126.7 663.2,602.2 662.2,601.7 656.1,592.1 647.8,588.1 644.2,587.7 637.8,588.7 635.6,589.6 634.1,591.6 632.7,598.1 631.1,632.6 630.3,638.2 629.3,642.6 626.8,649.2 620.1,661.1 617.7,668.1 613.5,690.1 612.7,701.6 613.3,710.6 617.1,729.1 622.3,759.6 623.8,762.2 635.8,773.1 636.8,775.1 398.8,775.1 398.8,67.3ZM514.8,383.1 496.8,384.3 484.2,386.0 478.8,388.4 475.5,391.6 472.7,397.6 470.3,411.6 470.4,419.7 471.7,423.6 473.3,442.1 475.1,454.6 480.8,484.6 484.6,497.1 488.2,503.6 492.2,507.5 499.5,512.1 513.2,523.7 523.2,530.2 528.8,532.9 536.2,535.5 544.8,536.8 549.8,536.8 555.2,535.6 559.8,533.9 576.8,523.3 583.8,517.4 589.8,510.9 594.0,505.1 595.8,501.6 598.1,495.1 601.9,481.1 607.3,467.1 610.7,451.1 612.7,434.1 612.8,426.1 613.7,419.1 612.9,401.1 611.4,395.6 608.2,392.1 598.8,388.0 591.2,386.2 574.2,383.2 554.2,382.4ZM435.1,611.1 432.7,612.3 431.5,614.6 430.2,619.1 428.7,631.1 427.7,648.6 427.5,699.6 428.5,716.7 430.1,730.1 432.8,736.8 436.7,739.6 439.2,740.3 442.8,739.4 447.8,736.5 457.2,729.2 459.8,726.1 462.2,714.6 463.1,699.7 463.0,692.6 461.3,674.1 458.7,660.2 455.6,634.6 453.7,626.6 451.7,622.6 443.8,614.7 438.2,611.1Z'/>
<path fill='#3e9c3a' fill-rule='evenodd' d='M408.8,80.7 425.8,94.9 456.2,109.0 482.2,116.0 503.2,118.8 525.8,120.8 535.8,122.9 542.2,121.8 551.8,121.3 563.8,121.7 598.2,124.3 629.8,128.3 649.8,129.1 663.2,130.4 663.2,601.8 662.2,601.3 656.2,592.1 647.8,587.9 644.2,587.5 637.0,588.6 635.0,589.6 633.5,591.6 632.4,594.1 632.0,597.6 631.9,607.1 630.0,632.1 629.2,637.1 625.4,648.6 618.0,663.1 613.7,679.6 611.7,693.6 611.6,706.1 617.3,740.1 619.5,759.6 621.4,764.6 628.3,773.1 629.1,775.1 398.8,775.1 398.8,74.7ZM514.2,375.3 495.8,377.2 482.8,379.8 473.6,384.1 470.3,387.1 468.5,393.1 467.1,411.1 467.5,419.1 468.8,424.6 470.1,436.1 473.8,458.7 479.7,485.1 483.8,497.6 487.7,504.6 491.8,508.9 498.2,513.9 511.2,526.1 521.2,533.1 527.3,536.1 535.8,539.0 543.8,540.1 550.2,540.0 555.8,538.9 561.2,536.8 578.4,526.1 586.2,518.8 592.1,511.6 596.8,504.1 599.9,496.1 604.0,481.6 608.9,468.1 611.0,459.6 613.0,448.1 614.4,434.6 614.5,426.6 615.2,419.6 614.8,405.6 613.1,395.6 611.8,392.8 609.2,389.5 599.2,382.4 586.2,376.1 577.2,374.8 558.8,373.9 545.2,373.7ZM433.5,609.1 431.2,610.4 429.8,613.3 428.4,618.6 427.0,630.6 425.8,656.1 425.5,698.6 425.9,708.6 427.5,729.1 429.8,737.4 431.2,739.8 435.8,744.0 438.2,745.4 440.8,746.0 445.2,743.4 450.2,739.2 458.2,731.1 461.1,726.7 463.4,715.1 464.1,700.1 463.8,692.6 462.1,673.6 459.6,659.6 456.6,634.6 454.5,624.6 451.8,620.3 441.8,611.5 437.2,609.1Z'/>
<path fill='#43a331' fill-rule='evenodd' d='M404.8,85.2 410.8,89.4 421.8,100.1 455.2,113.6 484.2,120.4 502.8,123.0 523.2,125.2 529.2,126.8 535.8,129.7 543.3,127.2 550.8,125.6 565.2,125.6 597.8,127.5 611.8,129.1 629.2,131.8 663.2,134.1 663.2,601.4 662.2,600.9 656.2,591.8 647.2,587.5 643.2,587.4 636.0,588.6 633.6,590.6 631.7,593.6 631.2,607.6 628.0,636.1 624.2,647.6 616.5,663.7 611.6,681.1 610.3,693.6 610.5,706.6 615.5,740.6 616.6,750.1 617.1,762.1 618.8,768.0 622.3,773.7 622.6,775.1 398.8,775.1 398.8,82.7ZM541.8,365.1 512.2,367.6 496.2,369.8 483.2,372.9 476.2,375.7 469.2,379.6 463.2,384.6 462.2,386.1 461.9,387.6 464.7,420.1 471.1,455.1 478.6,485.6 484.0,500.1 487.1,505.6 490.8,509.9 500.9,519.6 509.2,528.6 515.2,533.4 521.8,537.4 530.2,541.1 536.2,542.7 544.2,543.4 551.8,543.1 559.8,540.9 569.8,535.8 577.2,530.9 581.1,528.1 587.2,522.0 593.5,513.6 597.5,507.1 601.8,496.6 606.0,482.1 610.9,468.1 612.6,461.1 615.3,443.6 616.9,419.1 615.7,400.1 613.8,392.3 612.2,388.6 609.2,384.1 596.8,368.7 593.1,367.6 576.2,366.4 554.8,365.2ZM431.5,606.6 430.1,607.6 428.7,609.8 426.7,617.1 424.7,637.1 423.5,688.2 424.3,717.6 425.2,730.1 427.7,740.1 433.8,749.1 438.2,753.2 440.2,754.3 442.8,752.9 451.2,744.0 459.8,732.8 462.2,728.1 464.5,715.6 465.1,699.6 462.9,673.6 460.5,659.2 457.0,629.6 455.6,623.1 452.6,618.6 439.2,608.1 435.8,606.7Z'/>
<path fill='#51ae34' fill-rule='evenodd' d='M403.8,91.5 408.4,94.7 411.8,98.2 416.2,104.6 418.2,106.3 431.8,109.6 454.8,118.4 466.2,120.2 487.8,125.0 522.2,129.9 525.8,131.3 529.2,133.6 536.2,141.0 541.7,135.2 546.9,131.7 551.8,129.8 558.8,129.4 597.8,130.9 611.2,132.4 629.2,135.5 663.2,137.9 663.2,601.0 662.2,600.4 656.2,591.5 647.2,587.3 642.8,587.2 635.8,588.4 632.4,591.1 631.1,593.1 630.6,608.1 627.3,633.6 624.3,643.6 615.4,663.1 610.0,680.1 609.2,687.1 608.8,694.7 609.3,706.1 613.7,740.6 614.4,749.7 614.2,764.5 615.0,769.6 616.9,775.2 398.8,775.1 398.8,89.8ZM536.7,357.1 511.3,359.8 495.2,362.6 483.8,365.7 476.2,368.8 465.6,374.6 458.3,380.1 454.8,383.6 454.2,385.1 455.3,392.1 459.6,404.6 461.8,420.6 465.0,437.1 471.4,465.1 478.3,488.7 482.8,499.6 485.8,505.4 490.2,511.7 503.2,526.7 508.2,532.1 513.8,536.6 519.8,540.3 528.8,544.3 535.8,546.2 544.2,546.7 551.8,546.4 557.8,545.0 563.8,542.7 572.2,538.2 583.8,530.1 589.6,523.6 595.8,514.5 600.3,506.1 603.3,498.6 613.8,464.1 617.1,444.1 618.6,418.6 617.0,399.1 615.2,389.6 611.3,375.6 610.3,369.1 610.1,363.1 609.4,362.1 603.2,360.7 585.8,358.8 544.2,355.8ZM430.1,603.6 427.1,607.6 425.7,612.1 424.1,622.1 422.9,636.6 421.4,688.1 421.5,701.2 422.6,727.6 424.4,739.6 427.2,747.6 432.2,757.1 437.2,763.9 439.2,765.6 441.8,764.0 448.3,756.6 455.2,745.6 462.2,732.6 464.1,727.1 465.6,717.1 466.1,699.6 463.6,673.6 457.0,622.1 453.8,617.3 439.2,606.1 433.2,603.6Z'/>
<path fill='#60b838' fill-rule='evenodd' d='M402.8,97.4 405.7,99.7 409.3,106.2 413.6,111.7 415.2,112.9 424.8,113.5 430.8,114.8 446.8,120.2 453.2,122.9 465.8,124.1 494.8,130.2 518.2,133.5 522.0,135.2 525.0,138.7 526.1,143.2 525.4,147.2 522.4,152.2 522.8,156.2 530.5,174.7 534.8,188.2 536.2,190.4 537.2,189.5 538.9,186.2 542.6,175.2 550.6,156.6 550.9,151.7 547.5,146.7 546.9,142.2 548.8,137.2 550.7,135.2 552.5,134.2 558.8,133.3 566.2,133.0 589.8,133.6 608.8,135.3 631.2,139.4 663.2,141.6 663.2,600.4 662.2,599.9 656.8,591.5 647.2,587.0 643.2,586.9 635.8,588.0 631.4,591.1 630.5,592.6 630.1,608.6 626.2,633.6 623.1,643.1 614.6,662.1 608.0,681.6 607.4,693.6 607.7,701.1 611.9,740.7 612.3,748.6 611.1,768.1 612.3,775.1 445.3,775.1 447.1,770.1 454.7,757.6 464.2,733.1 465.5,727.6 466.8,717.1 467.1,699.6 460.0,641.1 458.4,621.6 455.1,616.1 445.7,609.6 439.8,604.3 434.8,601.4 430.2,600.1 427.8,601.5 424.7,607.1 422.2,621.6 420.2,655.1 419.4,701.1 420.4,729.7 421.7,740.6 423.5,749.6 425.8,757.0 432.0,772.2 432.7,775.1 398.8,775.1 398.8,96.3ZM535.8,348.7 509.2,352.3 493.2,355.7 481.8,359.3 468.2,365.9 458.2,371.9 447.8,380.5 446.3,382.1 445.7,383.6 450.2,396.6 454.2,402.1 456.2,406.9 462.6,438.1 470.3,467.6 477.3,489.1 485.8,507.5 489.2,512.9 503.2,531.3 511.8,539.5 517.5,543.1 527.2,547.6 535.2,549.7 544.2,550.1 552.2,549.6 559.8,547.8 572.2,542.1 580.8,536.7 586.2,532.1 592.0,525.1 597.5,516.1 602.3,506.6 605.9,497.1 614.7,468.1 616.7,459.1 618.9,444.6 620.3,417.6 619.5,414.1 616.9,383.1 617.5,375.1 618.4,372.1 620.8,367.6 629.2,359.6 628.4,358.6 625.6,357.6 616.2,354.9 607.8,353.2 583.2,350.1 549.8,347.8 543.2,346.0Z'/>
<path fill='#71c540' fill-rule='evenodd' d='M401.7,103.7 403.8,109.0 409.8,117.7 412.2,119.7 426.8,119.3 445.2,124.4 452.2,127.4 465.2,128.1 500.8,135.6 516.8,137.9 518.2,138.5 519.0,139.7 518.6,142.2 515.2,144.9 513.6,147.7 512.8,155.2 513.4,161.2 516.7,176.7 521.0,222.2 523.0,227.2 524.8,233.7 527.4,249.7 527.5,267.1 525.9,295.1 523.9,303.6 517.5,321.6 516.9,324.6 517.8,326.7 520.8,328.4 534.8,330.9 536.9,333.6 536.9,337.1 535.7,339.1 533.2,340.5 517.8,342.7 502.8,345.7 490.8,348.9 479.2,353.1 464.8,360.7 451.2,369.0 441.8,376.5 438.0,380.6 437.2,383.1 437.9,385.6 443.4,394.6 446.1,400.6 451.0,404.6 454.0,410.1 460.2,438.7 467.8,465.2 476.2,489.6 481.2,500.6 487.8,513.4 497.3,528.0 502.9,535.6 509.0,541.6 516.6,546.6 525.4,550.6 529.1,551.6 535.8,552.9 553.2,552.4 561.0,550.7 574.6,544.6 582.5,539.6 589.7,533.1 595.4,525.1 599.9,516.6 605.4,504.6 609.8,491.6 618.2,462.1 620.8,444.6 621.5,425.6 622.3,417.6 621.2,413.6 619.5,393.6 620.0,383.6 621.6,377.6 625.2,372.9 629.2,370.4 634.2,368.5 655.7,363.5 663.2,362.4 663.2,599.6 662.2,599.1 656.8,590.9 647.2,586.5 643.8,586.4 635.8,587.6 631.2,590.5 630.2,591.7 629.8,608.2 627.8,622.1 625.6,633.1 622.6,642.1 613.8,662.4 606.7,681.6 606.1,696.1 610.2,741.1 610.3,747.6 607.5,769.6 608.2,775.1 453.6,775.1 454.5,771.1 459.8,759.1 465.2,738.2 468.0,717.1 468.0,699.6 460.5,641.1 459.5,622.2 456.2,615.6 454.8,614.0 446.2,608.4 440.8,602.9 436.8,599.8 430.2,596.9 427.8,597.6 425.6,599.1 422.0,607.6 419.7,626.6 418.2,654.6 417.3,687.1 418.0,730.6 420.7,757.6 424.4,775.1 398.8,775.1 398.8,102.2ZM525.8,657.1 522.2,658.1 521.1,659.6 521.5,661.6 525.5,670.2 533.4,683.1 537.8,691.4 539.2,692.8 540.2,692.1 544.4,686.1 549.3,677.6 554.3,667.6 556.0,662.6 555.5,660.1 553.8,658.5 548.2,656.8ZM559.8,137.1 586.2,136.8 596.8,137.4 608.2,138.6 630.8,143.1 663.3,145.6 663.2,354.8 639.8,351.9 611.8,345.6 598.8,343.7 584.2,341.7 551.2,339.2 548.8,338.2 547.1,336.1 546.8,333.1 548.1,330.6 549.8,329.5 556.2,327.4 557.7,326.1 558.1,324.6 551.1,304.1 549.1,295.6 547.4,277.6 546.1,252.2 553.1,207.7 556.6,176.2 559.9,161.2 560.4,155.7 559.2,147.7 557.4,144.7 553.9,141.7 553.5,139.7 555.2,137.8Z'/>
<path fill='#82d149' fill-rule='evenodd' d='M400.2,105.5 401.8,109.7 407.8,118.9 409.3,120.7 411.7,122.2 424.8,120.8 429.2,121.5 445.2,125.9 452.3,129.2 463.8,130.7 487.8,136.3 507.8,141.4 509.3,142.7 508.0,147.2 507.4,153.2 507.8,162.2 509.7,178.7 509.4,239.6 509.9,242.2 511.8,244.3 512.2,245.7 514.1,291.1 512.9,300.6 507.9,321.6 507.9,328.1 510.5,334.1 510.4,335.1 488.8,343.5 479.2,347.7 448.1,364.1 438.8,369.6 433.4,373.6 431.2,376.1 429.9,380.1 430.6,385.1 432.1,388.1 440.2,396.7 444.0,401.6 449.8,405.3 452.5,409.6 459.2,440.4 466.8,466.4 475.4,490.6 483.2,507.6 489.7,519.6 499.8,534.8 507.8,543.8 513.8,547.6 525.2,552.2 534.8,553.9 553.8,553.3 565.4,550.6 581.8,543.8 588.5,539.6 596.4,533.1 602.6,525.1 609.1,509.1 624.0,466.6 629.6,447.1 632.9,428.1 635.2,418.6 636.5,409.6 636.2,407.1 633.4,400.6 632.1,394.6 631.7,386.6 632.2,384.1 633.8,382.6 639.8,380.7 663.2,377.8 663.2,593.4 661.8,592.8 657.8,588.9 647.3,585.2 635.2,587.0 630.8,590.1 629.8,591.6 629.4,608.6 627.5,622.2 625.1,633.1 622.0,642.1 613.7,661.1 606.8,678.9 605.7,683.1 604.7,697.1 607.2,746.6 603.9,769.6 604.3,775.1 455.9,775.1 456.6,771.6 461.3,759.6 466.6,738.6 469.1,717.6 468.9,699.6 461.9,650.1 460.9,640.6 460.0,622.1 456.8,615.3 454.7,612.8 447.2,607.1 441.8,600.6 437.2,596.2 431.8,592.5 429.2,591.8 423.8,593.3 421.2,594.6 419.7,596.6 416.4,603.6 414.8,609.6 411.3,632.6 409.6,662.6 408.9,667.1 408.5,680.1 407.8,684.6 406.9,710.1 408.1,732.6 411.6,760.1 414.5,775.1 398.8,775.1 398.8,104.5ZM536.4,647.1 524.2,648.4 520.8,649.5 517.8,651.3 515.6,653.6 514.3,656.1 513.8,659.1 514.8,663.7 518.3,672.1 526.4,687.1 532.4,700.1 535.8,704.0 538.8,705.0 541.2,704.1 543.8,701.5 550.6,689.6 560.1,669.6 561.8,665.4 562.6,661.1 561.9,657.1 560.2,653.6 558.2,651.7 554.2,649.1 548.2,647.5ZM588.2,140.8 606.2,141.8 626.2,145.5 638.8,147.0 653.2,148.1 659.8,147.5 663.2,147.9 663.2,344.2 647.2,343.6 632.8,341.9 611.8,337.8 572.8,332.4 568.2,331.5 567.4,330.6 567.7,327.1 567.1,321.1 562.7,306.6 560.6,297.6 559.9,292.6 559.7,282.6 560.6,243.7 562.4,209.7 562.8,178.2 565.9,153.2 564.5,143.2 565.2,142.4 568.2,141.6Z'/>
<path fill='#97d951' fill-rule='evenodd' d='M399.2,105.8 401.2,110.1 407.2,119.3 411.2,122.7 413.8,122.8 425.2,121.5 432.8,122.9 444.8,126.4 453.2,130.1 491.1,140.7 501.2,145.2 502.6,147.2 506.1,174.2 506.7,183.7 505.3,241.2 505.9,248.2 505.6,251.2 506.2,291.1 504.5,302.6 500.8,319.6 499.6,329.6 498.5,331.1 495.2,333.6 482.7,341.6 469.2,349.4 456.2,355.4 447.2,358.3 431.8,361.6 422.2,364.4 418.0,368.1 413.2,373.6 408.8,380.1 407.5,383.6 409.9,386.6 415.2,390.4 421.2,393.3 432.2,396.4 438.2,398.9 448.5,405.1 450.9,408.1 452.9,413.1 458.1,439.6 462.8,456.7 466.6,469.6 474.2,491.5 485.1,515.1 493.1,528.1 500.2,537.7 506.4,545.1 510.3,547.6 520.8,551.7 534.2,554.4 554.2,553.8 562.2,552.3 579.2,547.2 602.8,544.8 605.8,543.8 609.5,541.1 610.9,539.1 621.3,501.1 624.2,493.2 628.2,485.6 633.2,478.3 641.8,468.0 661.2,446.7 663.2,445.7 663.2,580.2 642.8,577.5 634.3,584.7 629.6,591.1 629.1,608.6 627.1,622.1 624.8,632.6 621.6,642.1 606.2,679.1 603.3,694.1 601.6,713.6 601.2,728.1 601.6,746.6 599.6,769.1 599.8,775.2 456.5,775.1 457.1,772.1 463.3,755.1 467.2,741.2 470.2,724.6 470.0,701.1 462.8,654.7 461.2,640.6 460.3,621.6 456.8,614.5 448.5,604.6 439.8,590.1 434.2,583.0 430.8,579.5 425.2,575.4 419.2,572.6 407.2,568.7 398.8,567.5 398.8,105.8ZM518.8,642.2 516.5,642.7 515.2,643.5 513.0,647.1 511.1,652.1 510.5,656.6 510.7,660.1 512.0,665.1 515.2,674.0 529.5,702.6 533.8,707.7 536.8,709.2 539.2,709.7 542.8,707.8 546.4,703.1 556.0,683.1 564.3,663.1 565.0,658.1 564.7,653.1 562.8,646.5 561.2,643.6 559.8,642.4 550.2,641.4ZM590.8,146.6 610.2,146.5 651.8,151.5 655.2,151.2 659.8,149.4 663.2,149.1 663.2,333.1 649.8,333.8 633.2,332.9 595.8,328.3 579.2,324.6 577.2,323.8 576.3,322.6 569.4,306.6 567.2,299.6 565.8,292.6 564.9,281.1 564.8,194.2 565.1,178.7 565.7,173.2 568.6,160.7 573.3,149.2 575.8,148.1Z'/>
<path fill='#ace159' fill-rule='evenodd' d='M399.2,108.0 407.3,120.1 410.8,123.0 413.8,123.3 425.8,122.0 443.8,126.6 469.2,137.2 487.2,142.7 491.8,144.9 496.2,148.0 497.8,149.7 499.6,155.2 501.9,166.1 503.0,174.7 503.6,186.2 502.8,213.7 501.4,238.2 500.7,242.7 498.7,247.7 499.3,260.1 498.4,291.1 496.0,307.1 492.6,323.6 491.6,326.1 488.2,330.6 480.4,338.1 473.4,343.1 462.2,348.9 454.2,351.8 446.8,352.6 434.3,350.7 422.8,347.6 421.2,347.6 412.8,355.0 406.2,359.4 401.8,361.9 398.8,362.7 398.8,108.0ZM610.8,150.6 628.8,151.7 651.8,155.0 658.8,153.4 661.6,150.7 663.2,150.2 663.2,321.7 650.8,324.0 633.8,324.0 600.2,321.4 594.2,320.4 584.8,317.3 581.8,315.1 579.2,311.6 575.5,304.6 572.8,297.1 570.7,286.1 569.7,274.1 569.1,257.6 569.3,245.7 568.4,241.7 567.9,232.7 567.2,199.2 567.3,179.7 568.6,169.7 572.2,161.5 576.2,157.1 579.8,154.6 593.8,151.7ZM436.8,402.6 441.8,402.6 447.2,405.1 449.2,406.9 451.2,410.2 453.1,417.1 457.1,439.6 461.6,456.6 469.6,483.1 477.1,502.6 482.9,515.1 491.4,528.6 505.1,546.6 509.9,549.1 521.2,552.6 535.2,554.9 554.2,554.3 562.2,552.9 574.8,549.4 579.8,549.6 583.1,550.6 589.5,554.6 592.5,558.1 596.0,565.1 597.2,565.7 604.7,559.1 608.8,556.5 614.2,554.3 622.8,553.0 623.8,552.3 625.1,534.1 628.7,508.6 630.9,500.6 634.8,494.7 640.2,489.9 646.2,487.0 654.2,485.3 663.2,485.2 663.2,568.7 655.7,571.2 648.8,570.7 643.8,568.8 637.6,565.1 630.8,560.0 629.8,559.7 629.5,560.1 631.5,567.6 632.2,576.1 631.3,582.6 629.1,591.6 628.9,608.1 625.3,629.2 621.4,641.6 605.6,679.6 600.7,697.6 597.6,713.1 596.4,726.1 595.4,775.1 457.0,775.1 457.5,772.2 463.8,755.1 468.8,739.3 470.8,730.8 471.5,725.1 470.7,701.1 466.2,676.1 463.1,654.6 461.6,640.6 460.7,622.1 451.0,603.1 445.1,584.1 444.8,580.6 445.4,576.1 448.9,568.1 446.6,560.1 442.6,553.6 431.3,541.6 422.2,530.1 421.3,528.1 420.5,524.1 419.7,516.1 419.0,470.6 421.2,431.1 422.2,427.1 429.3,409.6 432.3,405.1ZM570.6,631.1 559.8,634.0 546.8,635.4 526.8,635.6 509.2,633.7 507.8,634.0 507.3,634.6 506.6,648.1 506.8,656.1 508.6,664.6 511.8,674.6 527.0,705.6 531.2,711.0 537.8,714.7 539.8,714.8 543.2,713.0 545.8,710.3 548.2,706.4 551.4,699.6 561.5,673.2 566.2,663.1 568.6,655.6 570.8,643.6 571.7,632.6 571.6,631.6Z'/>
<path fill='#c1e85d' fill-rule='evenodd' d='M399.2,109.1 407.1,120.7 410.8,123.5 413.8,123.8 425.8,122.5 443.8,127.0 468.3,138.7 476.2,141.7 484.2,144.0 488.2,145.8 491.2,148.0 494.6,151.7 497.2,157.2 499.5,166.2 500.9,175.2 501.4,186.2 500.4,213.2 499.0,231.2 497.8,240.1 496.8,241.6 494.8,241.6 493.8,245.7 493.8,259.1 492.4,276.6 492.3,285.1 489.7,305.6 487.5,317.6 484.5,327.1 477.9,336.1 472.2,341.0 466.2,344.5 454.2,348.7 450.8,348.9 447.8,348.4 440.2,345.0 432.8,340.4 424.8,334.1 421.2,332.9 417.5,334.6 405.8,345.0 401.2,347.4 398.8,348.0 398.8,109.1ZM662.8,151.6 663.2,151.6 663.2,311.1 660.2,311.6 649.8,315.2 632.2,316.3 619.2,316.2 601.2,315.2 596.8,314.5 591.8,312.8 585.2,309.2 580.0,301.6 577.0,294.1 575.0,284.6 573.4,273.1 573.3,266.1 572.4,257.6 572.8,243.7 570.6,237.6 569.2,215.2 568.8,179.2 569.4,173.2 570.5,169.2 573.2,164.2 577.2,161.3 594.8,155.9 612.8,153.5 627.2,153.6 635.8,154.7 643.8,156.8 651.8,157.8 656.1,156.7 660.7,154.7ZM441.2,404.6 442.8,404.6 447.1,406.6 450.2,411.2 451.8,417.6 455.4,440.6 459.5,456.6 467.5,484.1 475.5,505.1 480.5,515.6 486.1,524.6 490.1,530.1 494.3,534.6 503.5,547.2 506.2,549.0 511.2,550.7 520.8,553.1 534.2,555.3 554.2,554.7 576.2,550.2 578.8,550.8 581.0,552.1 584.2,555.6 585.3,558.1 585.7,565.6 584.0,578.1 581.0,593.6 577.1,604.6 570.2,617.1 564.2,623.4 557.2,627.8 546.8,630.5 538.8,631.1 527.2,630.5 517.8,628.5 506.2,624.0 497.2,618.4 490.4,611.6 481.7,601.6 484.8,615.8 491.1,623.1 497.5,631.6 498.5,633.6 501.1,642.1 508.2,671.9 512.2,682.2 526.2,709.6 529.7,713.6 538.2,720.0 539.8,720.0 545.8,715.3 550.2,707.4 562.4,673.1 579.4,638.1 588.8,621.6 591.2,616.0 601.5,584.7 606.7,571.6 609.8,568.2 611.8,566.8 614.8,566.0 617.2,566.2 620.2,567.4 622.2,568.9 625.1,572.1 627.5,576.1 629.3,584.1 628.7,592.6 628.6,607.6 624.8,630.2 621.0,641.6 605.4,679.1 603.2,687.1 599.2,697.6 595.8,708.9 594.2,715.4 592.8,725.1 591.8,742.1 592.2,775.1 457.4,775.1 457.9,772.1 465.4,752.1 471.5,731.6 472.1,726.1 471.2,702.1 465.8,671.7 463.5,654.6 461.9,640.6 460.9,621.6 453.5,606.6 451.8,599.6 450.5,590.1 450.5,584.6 452.2,581.1 455.8,578.8 461.2,577.9 461.9,577.1 462.1,557.6 459.4,547.6 452.7,534.6 449.7,527.1 445.3,510.1 441.9,488.6 437.6,453.1 436.1,429.7 436.7,410.6 438.2,406.2ZM644.2,499.5 650.2,500.3 653.7,502.1 656.1,505.1 657.1,509.6 658.9,533.1 658.1,553.6 656.0,562.1 654.2,564.3 652.2,565.1 650.2,564.8 647.8,563.3 642.5,557.6 639.6,552.6 637.6,547.6 636.9,544.1 635.9,532.1 636.0,516.1 636.6,510.1 637.4,505.6 638.6,503.1 640.8,501.0Z'/>
<path fill='#d5ed62' fill-rule='evenodd' d='M399.2,110.2 406.3,120.7 410.2,123.9 413.8,124.4 425.8,123.0 443.9,127.7 468.2,139.8 487.2,146.6 490.1,148.7 493.3,152.2 496.0,157.6 498.4,166.7 499.7,175.2 500.3,186.2 499.3,212.7 497.8,231.2 496.8,238.3 496.2,238.8 495.8,238.3 494.2,234.9 493.2,238.2 490.9,285.1 488.3,305.1 485.9,317.6 483.1,326.6 477.1,335.1 471.8,339.8 466.2,343.2 454.2,347.4 448.6,347.1 441.0,343.6 433.8,339.1 426.2,332.9 421.2,331.0 416.2,333.3 404.4,343.6 398.8,346.0 398.8,110.2ZM613.8,154.7 627.8,154.8 635.8,155.9 643.8,158.1 651.2,159.1 656.8,157.7 663.2,154.9 663.2,309.2 659.8,309.9 650.8,313.2 632.3,314.7 620.2,314.7 601.2,313.6 596.8,312.8 592.0,311.1 585.9,307.6 580.9,300.1 578.2,293.1 576.3,284.1 574.7,272.6 573.6,256.6 573.9,241.7 573.4,239.2 571.8,236.7 570.7,223.6 569.7,198.7 569.7,180.7 570.9,171.2 574.0,165.2 578.8,162.0 594.8,157.3ZM643.2,501.5 645.2,501.2 648.2,501.6 652.2,503.2 654.6,506.1 655.6,510.6 657.4,533.1 656.7,553.1 655.1,560.6 653.8,562.7 652.2,563.6 648.8,562.3 643.5,556.6 641.1,552.1 638.5,544.1 637.4,532.6 637.5,515.6 639.2,505.2 640.8,503.1ZM469.2,524.6 476.2,525.7 483.8,529.8 488.2,533.5 497.5,543.1 503.0,548.1 509.2,551.0 524.8,554.5 533.2,555.8 539.2,555.9 554.2,555.3 575.8,551.1 579.8,552.6 583.8,557.7 584.3,565.1 582.4,578.2 579.4,593.1 575.4,604.2 571.5,612.1 568.8,616.4 562.8,622.6 556.2,626.6 546.2,629.2 537.8,629.8 527.8,629.2 517.8,626.9 507.2,622.7 498.2,617.1 491.2,610.2 481.8,598.3 480.8,597.4 480.0,597.6 480.2,601.1 483.8,616.0 497.0,633.6 500.0,642.6 507.3,672.1 511.4,682.6 525.4,710.1 529.2,714.6 538.8,721.7 539.8,721.6 546.8,715.7 550.8,708.6 563.2,673.1 580.4,639.1 589.8,622.6 592.3,617.1 603.0,584.6 608.0,572.1 611.8,568.4 614.8,567.4 616.8,567.5 619.8,568.6 621.8,570.1 624.0,572.6 626.5,576.6 628.5,584.1 628.3,607.6 626.2,621.4 624.2,630.7 620.8,641.3 605.0,679.1 602.6,687.1 598.6,697.1 593.3,715.1 591.2,731.6 590.7,741.6 591.3,775.1 457.8,775.1 458.2,772.5 465.8,752.6 470.6,738.1 472.0,732.6 472.5,726.7 471.4,700.6 466.2,671.6 463.8,654.3 462.2,640.6 461.3,622.1 453.9,606.1 451.9,595.6 451.3,585.6 452.6,582.1 455.8,579.9 458.2,579.2 461.8,579.4 466.1,578.6 467.8,577.6 467.3,555.6 465.9,530.6 466.7,526.1 467.8,524.9Z'/>
<path fill='#e6f067' fill-rule='evenodd' d='M399.2,113.5 406.1,122.2 410.2,125.2 414.2,125.6 425.2,124.3 432.6,125.7 443.2,128.7 467.8,141.3 485.5,148.2 489.0,150.7 491.8,154.0 494.0,158.7 496.8,168.0 498.0,175.7 498.8,185.7 498.0,212.7 496.4,231.2 495.8,231.9 493.8,231.0 492.8,233.2 491.4,246.6 491.4,258.6 489.8,276.1 489.7,284.6 487.0,304.6 484.6,316.1 481.6,325.6 475.7,333.6 470.8,337.8 464.8,341.2 453.8,344.7 451.8,344.9 448.8,344.4 441.6,341.1 435.0,337.1 426.8,330.9 421.2,328.8 415.2,330.7 402.8,339.3 398.8,340.6 398.8,113.5ZM610.8,157.1 627.2,156.8 634.8,157.9 642.8,160.0 651.2,161.4 655.8,160.9 663.2,158.9 663.2,305.1 659.2,305.9 648.8,310.0 631.2,311.9 621.2,312.2 602.2,311.2 597.2,310.3 591.8,308.1 587.2,305.3 582.8,298.9 579.2,289.6 576.0,272.1 574.8,256.6 574.7,236.2 574.4,234.7 572.5,232.1 571.9,223.7 570.9,189.2 571.1,179.2 572.2,172.2 575.2,166.3 579.5,163.7 595.7,159.2ZM645.2,502.6 650.2,503.6 652.8,505.5 653.8,507.6 655.7,516.6 656.7,534.1 655.9,552.6 654.2,559.7 653.1,561.6 651.8,562.3 649.8,561.6 647.8,560.0 643.8,555.3 640.2,547.2 639.5,543.6 638.4,532.1 638.4,515.6 639.2,510.2 640.8,505.3 642.8,503.3ZM476.8,532.1 481.2,532.8 484.2,534.0 497.8,546.2 505.2,551.0 514.2,553.9 532.8,556.8 545.8,556.9 563.2,555.5 575.8,553.5 578.8,554.9 581.9,559.1 582.5,564.6 581.3,578.1 578.4,592.6 574.3,604.1 570.3,612.1 567.6,616.1 562.2,621.6 557.6,624.6 554.0,626.1 545.2,628.2 536.8,628.7 528.8,628.1 519.2,626.1 509.2,622.2 498.2,615.2 487.2,603.5 479.2,593.8 478.5,593.6 479.5,600.6 483.1,615.6 484.8,618.6 496.2,633.9 499.3,643.1 506.7,672.6 510.8,683.2 524.8,710.7 528.8,715.2 538.8,722.6 540.2,722.3 547.2,716.4 551.6,708.6 563.8,673.5 581.2,639.2 590.8,622.6 593.2,617.2 603.7,585.1 608.6,572.6 612.2,569.0 614.8,568.3 617.2,568.5 619.8,569.5 621.8,571.2 625.9,577.1 627.6,583.1 628.1,588.6 627.9,607.6 625.8,621.6 623.8,631.0 620.2,641.4 611.5,661.6 598.0,696.6 592.6,714.6 590.4,731.6 589.9,742.1 589.9,758.2 590.8,775.1 458.2,775.1 458.8,772.4 466.4,752.6 471.4,737.6 472.5,733.1 472.8,726.6 471.7,700.6 464.2,654.6 462.7,640.6 461.6,622.1 454.4,606.1 452.4,595.6 451.8,585.6 453.4,582.1 455.8,580.5 458.2,579.7 466.2,580.2 473.2,583.1 470.7,567.6 470.4,550.6 473.0,536.1 474.2,533.5Z'/>
<path fill='#e8d359' fill-rule='evenodd' d='M408.2,129.1 411.2,130.3 414.2,130.6 424.2,129.3 428.2,129.5 441.2,132.5 447.2,135.1 483.2,154.2 485.8,156.6 487.8,160.0 491.6,169.7 493.6,177.2 495.0,186.2 495.3,212.1 494.4,226.1 491.9,230.6 491.1,241.7 489.8,246.2 489.5,258.6 487.4,284.1 484.2,303.6 480.3,317.1 476.8,324.0 470.8,330.0 466.8,332.6 460.8,335.2 452.8,336.9 449.8,336.6 439.8,332.3 426.8,324.9 419.8,322.5 409.2,322.1 398.8,323.6 398.8,122.7ZM615.8,162.7 626.8,163.0 635.8,164.4 653.2,169.0 663.2,170.2 663.2,292.3 658.2,293.9 646.2,300.1 624.8,304.6 611.8,304.7 602.8,304.0 596.2,302.3 591.2,299.0 588.6,296.1 586.1,292.1 581.8,282.6 579.0,271.6 577.1,256.6 576.3,234.7 574.6,229.7 573.6,197.7 574.1,181.7 575.7,174.7 578.7,169.7 582.2,167.6 596.2,164.6ZM644.2,506.1 648.2,506.0 651.2,507.6 653.2,510.8 655.1,517.1 656.1,534.1 655.2,550.6 653.8,556.8 652.4,559.1 651.2,559.8 647.8,558.2 644.3,554.1 641.6,547.1 640.8,543.1 639.7,531.1 639.6,516.6 641.2,510.3 642.8,507.4ZM477.2,534.1 480.8,534.5 484.2,536.1 496.2,547.6 503.8,553.5 507.8,556.1 512.8,558.2 531.8,560.2 550.8,560.6 562.8,561.4 573.2,560.5 575.0,561.1 576.8,564.5 579.2,574.0 579.5,578.1 578.8,584.1 577.1,592.6 573.8,602.3 569.4,611.1 566.8,614.8 561.0,620.1 555.2,623.4 545.8,626.0 536.2,626.6 528.8,625.9 518.8,623.3 509.2,619.1 500.6,613.2 495.3,607.6 485.2,595.3 478.2,587.8 477.1,585.6 476.1,579.1 472.9,566.6 472.1,552.6 472.8,545.6 474.4,537.6 475.6,535.1ZM614.8,569.1 617.8,569.5 620.6,571.1 623.8,575.0 625.8,579.0 626.9,583.6 627.4,589.1 627.2,608.4 625.2,621.6 622.6,633.1 597.4,696.1 592.3,712.1 589.6,731.6 589.1,742.1 589.1,758.6 590.5,772.2 590.3,775.1 458.8,775.1 459.3,772.6 467.0,753.1 472.0,738.1 473.0,734.1 473.1,727.1 471.9,700.1 470.6,689.1 467.2,671.8 464.8,654.4 463.2,640.6 462.5,626.1 461.7,621.1 455.7,608.6 454.4,604.1 452.2,589.6 452.3,585.6 453.3,583.1 455.6,581.1 458.2,580.2 465.8,580.9 471.8,583.8 475.0,587.1 478.3,597.1 483.0,616.6 485.8,621.1 494.9,633.1 495.8,635.0 498.7,644.1 506.0,673.1 510.1,683.6 524.2,711.1 528.2,715.8 534.2,720.0 537.8,723.2 539.2,723.7 540.8,723.0 543.2,720.4 547.8,717.0 552.0,709.6 555.3,701.1 564.7,673.1 582.0,639.6 591.7,622.6 594.1,617.1 604.2,586.0 608.5,574.6 611.4,570.6Z'/>
<path fill='#e8b950' fill-rule='evenodd' d='M401.8,129.9 407.2,134.2 411.2,136.0 425.8,134.4 432.8,135.0 439.8,136.9 460.8,147.1 469.3,152.2 480.3,160.2 485.2,168.6 489.4,179.6 490.9,186.2 492.0,195.2 491.9,222.7 490.4,230.2 489.7,241.2 487.7,245.1 487.3,258.1 484.1,288.1 480.9,303.6 476.1,316.1 470.8,322.6 467.2,325.0 461.8,327.4 452.2,329.1 442.8,326.4 427.5,319.1 419.3,314.6 410.2,307.3 398.8,309.3 398.8,128.9ZM617.2,168.8 625.2,169.2 637.2,171.1 645.9,174.2 661.2,182.7 663.2,183.3 663.2,273.2 661.8,273.8 651.8,283.6 644.2,289.4 639.2,291.9 630.2,295.2 621.2,297.4 611.8,297.6 602.8,296.8 598.2,295.1 593.2,291.3 587.4,283.6 584.8,278.4 582.1,270.1 579.8,256.6 579.4,246.6 578.2,240.2 577.1,222.7 576.8,190.7 577.8,180.7 580.8,174.6 582.2,173.0 584.2,172.0 589.2,170.8ZM645.8,509.4 648.2,509.5 651.8,511.8 653.8,515.4 654.5,518.1 655.3,536.2 654.5,549.1 652.8,555.1 651.8,556.5 650.2,557.2 647.2,555.7 644.9,552.1 643.0,545.6 641.9,537.6 641.1,517.2 642.9,512.1ZM477.8,536.1 480.8,536.2 483.8,537.7 491.8,545.2 502.5,557.1 509.2,562.2 515.2,563.5 550.2,565.2 561.2,567.5 568.8,567.4 571.8,568.9 575.2,573.0 576.6,575.6 577.3,579.1 577.1,583.6 575.4,592.6 572.8,600.7 568.0,610.1 565.8,613.1 559.8,618.3 554.2,621.1 546.2,623.3 536.2,624.0 528.2,623.1 518.8,620.3 511.2,616.8 504.0,611.6 495.3,602.1 484.4,587.6 480.8,581.9 477.1,573.6 474.4,562.1 473.9,552.1 474.2,546.1 475.5,539.1 476.4,537.1ZM614.8,570.1 617.8,570.5 620.3,572.1 623.7,576.6 625.1,580.1 626.5,589.6 626.4,608.6 624.3,622.1 621.8,633.2 596.4,696.1 591.8,711.1 590.4,725.1 588.6,731.6 588.1,742.1 588.1,758.7 588.7,766.1 590.1,771.7 589.9,775.1 459.6,775.1 460.2,772.1 467.4,754.6 469.6,747.2 471.7,742.1 473.7,734.1 471.2,690.1 465.6,654.6 464.0,640.6 463.4,626.6 462.1,621.1 456.2,608.6 454.8,603.6 452.8,589.6 452.8,585.6 453.8,583.3 455.8,581.6 458.2,580.8 465.8,581.5 471.8,584.6 474.2,587.6 477.8,597.6 482.4,616.6 485.2,621.9 494.8,635.1 497.7,644.1 505.2,673.6 509.1,683.6 523.5,711.7 527.9,716.6 533.8,720.7 537.8,724.5 539.2,724.9 540.9,724.1 543.8,721.1 548.5,717.6 553.0,709.6 556.1,701.6 565.3,674.1 582.7,640.1 593.4,621.1 597.8,609.7 605.2,586.1 609.5,574.6 611.8,571.6Z'/>
<path fill='#cda84b' fill-rule='evenodd' d='M406.2,139.4 410.2,141.5 415.2,141.3 424.2,139.5 432.2,139.7 439.8,141.9 458.1,150.7 468.8,157.9 474.8,163.7 480.5,171.7 485.9,183.1 488.1,191.7 489.2,201.7 489.2,224.2 488.0,237.2 485.8,242.7 484.6,263.1 482.0,284.1 477.9,302.1 473.1,312.6 471.8,314.7 468.8,317.3 463.2,320.0 459.8,320.9 451.2,321.4 444.2,319.8 430.8,314.6 423.8,309.1 418.8,297.9 417.2,295.6 415.8,294.6 413.2,294.3 403.2,297.0 398.8,297.1 398.8,134.0ZM616.2,174.9 624.2,175.4 634.8,176.9 640.2,178.6 645.2,182.0 653.7,190.7 657.0,196.2 659.4,203.7 660.2,210.7 660.2,226.2 659.2,235.7 657.0,245.2 652.6,254.7 650.9,260.1 646.9,269.6 642.5,276.6 635.2,283.2 626.8,287.7 618.2,290.4 608.8,290.5 604.2,289.6 598.2,286.9 594.8,284.3 590.8,280.1 587.2,274.2 585.2,268.5 583.2,259.6 581.5,242.6 580.2,236.2 579.9,228.7 579.9,191.7 581.0,183.2 583.2,178.7 586.2,176.5 589.8,175.6ZM646.2,513.0 649.8,513.4 651.8,515.3 653.2,518.6 653.8,524.6 653.9,537.6 653.0,548.6 651.8,552.9 650.8,554.3 649.8,554.6 647.8,553.2 646.2,550.1 644.7,542.6 644.1,536.6 643.2,518.1 644.5,514.6ZM479.2,538.1 482.3,539.1 490.0,546.1 499.9,559.2 505.1,564.6 507.3,566.1 512.8,567.5 533.8,567.7 546.8,568.7 554.2,570.4 559.8,573.1 569.2,573.6 572.9,575.6 574.5,577.6 575.3,580.6 573.8,591.9 570.8,600.9 565.7,610.1 561.7,614.1 555.8,617.7 546.2,620.8 537.8,621.5 528.8,620.5 519.2,617.6 514.2,615.2 507.6,610.6 498.2,600.4 486.9,585.6 483.2,580.2 479.8,572.9 476.8,562.7 475.8,555.6 476.0,547.1 476.8,542.0 477.6,539.1ZM614.8,571.1 617.8,571.5 620.0,573.1 622.9,577.1 624.3,580.6 625.6,589.6 625.5,608.6 623.5,621.6 620.9,632.6 595.8,695.5 591.2,710.6 590.1,725.1 587.7,731.6 587.1,742.1 587.1,758.6 587.8,765.1 589.8,771.6 589.5,775.1 460.5,775.1 461.1,772.1 468.7,753.6 470.4,747.6 473.5,739.7 474.3,735.6 473.0,721.1 471.6,689.6 466.5,654.1 465.0,640.6 464.4,626.6 462.4,620.6 458.8,612.9 455.8,604.4 453.7,589.6 453.8,585.7 454.7,583.6 457.0,582.1 458.8,581.7 465.8,582.6 470.7,585.1 473.2,588.2 477.2,599.1 482.0,617.2 484.3,622.1 493.0,633.6 493.9,635.6 496.9,644.7 504.3,674.1 508.2,684.1 522.6,712.1 527.2,717.3 533.4,721.6 537.2,725.6 538.8,726.4 541.2,725.1 544.2,721.9 549.2,718.2 553.8,710.1 557.2,701.6 566.3,674.1 583.5,640.6 594.2,621.7 598.7,610.1 606.1,586.6 610.1,575.6 612.0,572.6Z'/>
<path fill='#ad9144' fill-rule='evenodd' d='M408.8,146.8 412.2,147.7 416.8,147.8 426.2,146.6 432.8,147.1 441.2,150.0 453.8,155.9 462.2,161.3 469.8,167.9 475.6,175.2 481.8,186.7 484.1,193.7 485.9,203.2 486.7,225.7 486.5,228.7 485.0,231.7 484.7,238.7 483.2,246.2 481.5,267.1 478.2,284.0 473.4,297.1 471.4,301.1 466.9,307.6 464.7,309.6 461.8,311.1 457.2,312.2 449.2,312.0 439.2,309.2 434.2,307.2 430.1,304.1 421.8,290.4 419.8,288.3 417.8,287.1 412.2,286.5 403.2,287.9 398.8,288.0 398.8,142.2ZM602.8,183.1 614.8,183.0 622.8,183.7 629.8,185.0 635.8,186.8 640.8,190.3 646.2,196.2 648.8,200.6 650.7,206.7 652.0,224.2 651.2,233.2 648.8,242.2 642.8,255.6 636.2,266.2 632.2,270.4 624.2,275.2 616.8,277.3 610.8,277.3 605.2,275.8 600.8,273.2 596.5,268.6 592.6,262.1 590.4,257.1 586.1,238.7 583.9,232.6 583.8,206.2 584.6,198.7 586.2,192.2 588.7,186.7 590.2,184.9 593.2,184.1ZM484.2,551.4 486.2,552.0 493.8,556.3 502.8,565.1 506.8,567.7 512.8,569.1 533.8,569.2 546.8,570.4 553.8,572.0 559.8,575.2 564.2,576.3 568.5,578.1 569.9,579.6 570.7,581.6 569.7,591.6 567.1,599.6 562.8,607.2 559.4,610.6 554.2,613.9 546.8,616.5 538.8,617.8 529.2,617.1 521.2,615.0 516.2,612.9 510.2,609.1 508.2,607.5 500.4,598.1 490.7,584.1 487.0,577.6 484.0,569.6 482.3,560.6 482.6,554.6 483.2,552.4ZM614.8,572.0 617.2,572.3 619.7,574.1 622.4,578.1 623.6,581.6 624.6,589.6 624.5,608.6 622.5,621.6 620.0,632.6 600.2,681.2 594.8,696.2 591.2,708.6 590.2,714.0 589.9,724.6 589.0,727.6 586.8,731.1 586.1,742.1 586.2,759.1 587.0,764.6 589.4,771.2 589.1,775.1 461.3,775.1 461.9,771.6 469.6,754.1 475.0,737.1 473.2,721.1 471.9,689.1 465.9,640.6 465.3,626.1 462.2,615.1 462.7,604.6 464.7,597.9 465.8,597.5 467.2,598.5 473.2,605.2 477.8,611.8 483.5,622.6 492.8,635.1 495.9,644.6 504.3,677.1 507.5,684.7 511.4,691.6 519.8,709.2 523.0,714.1 526.2,717.6 533.2,722.6 537.2,727.0 538.8,727.8 542.1,725.6 544.8,722.6 549.8,719.0 554.8,710.3 558.0,702.1 567.1,674.6 584.3,641.1 595.1,622.1 599.5,610.6 607.0,586.6 610.9,576.1 612.8,573.2Z'/>
<path fill='#8a7240' fill-rule='evenodd' d='M401.8,149.6 409.8,153.7 413.8,154.9 417.2,155.2 428.2,154.4 432.8,155.1 439.8,157.5 450.6,162.7 460.6,169.2 469.6,177.7 474.5,184.2 479.6,194.7 483.1,208.7 484.0,225.6 483.4,238.2 481.1,242.7 478.9,266.1 476.4,276.6 472.7,286.1 469.2,292.0 466.2,295.8 462.8,299.4 458.2,302.3 455.3,302.8 449.2,302.5 441.8,300.7 437.8,299.0 431.2,293.5 425.2,284.0 422.8,281.2 420.8,280.0 413.8,278.8 404.8,279.1 398.8,278.6 398.8,149.0ZM601.8,192.1 614.8,192.0 624.8,193.4 630.2,195.3 634.9,198.2 638.8,202.0 640.7,205.2 642.5,209.6 644.6,221.1 644.8,230.2 643.9,234.2 639.3,245.7 636.7,249.7 628.8,257.4 624.8,260.3 619.8,262.6 615.8,263.0 610.8,262.2 606.2,259.9 600.8,255.5 596.2,249.3 591.3,235.2 588.5,230.7 587.9,213.2 589.2,202.2 591.2,198.1 595.2,194.4 597.8,192.9ZM492.2,560.1 493.7,560.0 495.8,560.9 500.2,565.1 504.2,567.8 511.2,570.0 540.8,570.8 549.2,571.9 555.2,573.8 561.7,578.1 563.4,580.1 564.9,583.2 564.7,591.6 561.6,600.1 557.6,605.6 552.2,609.5 547.8,611.4 539.2,613.3 527.8,613.1 520.8,611.4 514.2,608.3 510.2,605.5 503.5,597.1 498.0,588.7 492.4,577.6 489.5,566.1 490.0,562.1ZM614.8,573.0 616.8,573.1 619.0,574.6 621.7,578.6 622.8,582.1 623.8,590.1 623.7,608.6 621.7,621.6 619.4,631.6 616.4,640.1 599.7,680.6 595.2,693.1 590.1,712.1 589.4,725.6 588.6,727.6 586.6,729.6 585.9,731.1 585.3,742.2 585.3,758.6 586.2,764.1 589.1,771.2 588.8,775.1 461.9,775.1 462.3,772.1 470.3,754.6 475.6,738.1 474.2,730.1 473.4,721.1 472.2,689.1 469.8,671.1 469.4,663.6 466.8,640.6 465.9,622.1 466.1,618.6 467.2,616.3 469.2,614.4 470.7,614.0 476.8,617.0 481.2,621.4 491.8,635.1 495.1,644.6 503.8,678.0 506.8,685.1 514.0,698.7 518.2,708.2 521.2,713.3 525.8,718.3 532.8,723.4 537.2,728.3 539.2,728.8 550.8,719.2 555.8,710.2 567.8,675.1 585.0,641.6 595.8,622.6 600.2,611.0 607.7,587.1 611.6,576.6 613.0,574.1Z'/>
<path fill='#6d573e' fill-rule='evenodd' d='M401.8,152.7 410.2,157.4 414.2,158.6 428.8,158.3 432.8,159.1 442.8,162.9 452.8,168.1 461.2,174.2 467.8,180.2 472.0,185.2 478.0,196.6 481.5,209.7 482.6,226.2 482.1,237.2 481.8,238.1 480.2,238.1 479.9,239.7 477.4,266.1 474.8,275.6 470.9,284.6 465.2,292.1 460.8,295.9 457.8,297.4 455.2,298.1 450.2,298.0 442.8,296.3 438.2,294.5 432.8,290.6 427.8,281.8 424.8,278.3 422.6,276.6 414.8,275.1 405.8,275.0 398.8,273.6 398.8,151.9ZM493.2,562.1 495.2,562.4 499.4,566.1 503.8,568.8 511.2,571.1 533.2,571.3 540.8,571.8 547.6,572.6 554.6,574.6 560.2,578.6 561.5,580.6 562.3,583.1 562.4,590.6 559.8,598.4 556.0,603.6 550.8,607.5 546.8,609.2 538.2,611.2 528.2,611.2 521.3,609.6 515.7,607.1 511.7,604.6 506.8,598.6 500.2,588.7 497.2,582.9 494.3,575.6 493.1,569.7 492.5,564.1ZM614.2,574.1 616.2,573.7 618.2,575.0 620.8,578.6 622.1,582.1 623.0,590.1 622.9,608.6 620.9,621.6 618.6,631.6 595.2,691.6 590.3,709.1 589.6,713.6 589.2,725.1 588.2,727.6 585.8,729.5 585.1,731.1 584.5,742.1 584.6,758.6 585.7,764.1 588.8,770.7 589.0,772.6 588.5,775.1 462.3,775.1 462.7,772.2 466.2,765.6 471.1,754.6 476.3,738.6 474.7,731.6 473.6,721.1 472.5,689.1 470.1,670.6 469.9,663.1 467.5,640.1 466.9,623.1 467.4,619.6 468.2,618.1 469.8,617.0 471.2,616.8 474.8,617.7 477.2,619.3 482.8,624.4 490.9,635.1 494.3,644.6 503.0,678.1 506.2,685.6 513.2,698.9 517.9,709.1 521.7,715.1 525.6,719.1 532.5,724.1 537.2,729.3 539.2,729.7 551.2,719.8 556.4,710.6 568.6,675.1 585.8,641.9 595.4,625.1 598.1,619.1 608.7,586.6 612.4,576.6Z'/>
<path fill='#564439' fill-rule='evenodd' d='M408.8,161.3 413.2,162.2 423.8,161.4 430.2,161.7 437.4,163.7 446.8,167.7 454.9,172.2 465.8,180.9 470.8,186.6 476.2,196.8 480.1,210.1 481.4,226.7 481.2,229.1 479.7,231.7 479.0,235.7 478.6,245.7 475.8,265.6 473.2,274.7 469.2,283.6 464.2,290.2 460.2,293.6 457.5,295.1 454.8,296.0 451.2,296.1 440.8,293.6 434.2,289.4 428.1,279.6 423.8,275.3 419.8,273.9 406.8,271.8 398.8,269.6 398.8,157.9ZM615.3,574.6 616.8,574.9 618.5,576.6 620.4,579.6 621.5,583.1 622.2,590.1 622.1,608.6 620.1,621.6 617.8,631.6 595.1,690.6 590.0,708.6 589.3,713.1 588.8,725.6 587.8,727.6 585.2,728.9 584.4,730.6 583.7,742.1 583.8,758.1 585.2,764.1 588.4,770.6 588.7,772.6 588.1,775.1 462.8,775.1 463.1,772.1 466.9,765.6 471.5,755.6 477.0,738.6 475.0,731.6 473.8,720.6 472.9,689.6 470.5,670.7 467.8,631.6 467.8,623.1 468.8,619.1 470.2,618.0 471.8,617.9 474.8,618.8 477.2,620.4 482.2,625.0 490.3,635.6 493.5,644.6 502.4,678.6 505.5,686.1 512.2,698.6 517.5,710.1 521.1,715.6 525.2,719.9 531.9,724.6 536.8,730.0 538.2,730.6 539.8,730.4 551.8,720.4 557.0,711.1 560.1,703.1 569.0,676.1 586.2,642.6 597.2,623.1 601.8,611.1 609.2,587.4 612.8,577.6 613.9,575.6ZM505.2,578.3 536.2,582.4 549.8,582.6 552.2,583.6 553.4,584.6 553.9,586.6 553.8,589.6 551.8,594.7 549.2,597.5 545.7,599.6 532.2,602.8 523.2,602.2 516.8,599.5 512.8,594.8 509.8,590.4 506.3,583.6 504.8,579.6Z'/>
<path fill='#544138' fill-rule='evenodd' d='M427.8,170.1 437.8,171.8 448.8,175.6 454.2,178.5 462.8,184.4 467.2,188.8 472.6,197.2 475.3,203.7 478.0,214.2 479.1,226.2 478.0,231.2 477.2,244.2 471.1,268.1 468.0,275.6 463.4,283.1 458.8,288.1 455.8,290.1 453.2,291.0 449.8,291.1 444.8,290.4 437.8,286.9 434.8,284.0 425.8,272.8 409.2,260.1 400.8,251.8 398.8,250.9 398.8,179.1 416.8,172.4 423.2,170.6ZM615.2,576.1 617.2,576.6 619.7,580.1 620.6,583.6 621.2,589.1 621.2,607.6 619.0,622.1 616.9,631.6 598.2,680.6 593.0,696.1 589.0,712.1 588.2,725.9 587.2,727.5 584.2,728.4 583.4,731.1 582.8,742.1 582.8,757.6 584.7,764.1 588.1,770.6 588.3,772.6 587.8,775.2 463.2,775.1 463.8,771.8 471.8,757.5 477.9,739.1 475.4,731.6 474.2,721.1 473.2,689.1 470.9,670.1 468.8,631.6 468.8,623.1 469.8,619.8 471.2,619.1 473.8,619.5 478.8,622.8 481.6,625.6 489.8,636.6 492.5,644.6 501.6,679.1 504.8,686.6 508.0,692.1 518.6,713.6 524.8,720.6 531.7,725.6 536.2,730.8 537.8,731.5 539.8,731.4 552.7,720.6 557.7,711.6 561.1,703.2 570.0,676.1 587.3,642.6 596.8,626.1 599.7,619.6 610.1,587.6 613.9,577.6Z'/>
<path fill='#594238' fill-rule='evenodd' d='M427.8,179.1 435.8,179.1 447.3,181.7 452.0,183.7 460.8,189.0 464.7,192.7 469.2,199.2 471.8,204.6 474.9,215.1 476.2,226.7 475.8,240.7 474.8,245.5 471.3,253.7 467.1,266.6 463.8,273.7 456.8,282.7 453.2,285.1 450.8,286.0 447.8,286.3 444.9,285.6 438.2,281.8 435.2,279.1 424.8,265.1 421.8,259.6 419.9,254.7 416.7,244.2 413.6,231.2 413.2,224.7 411.9,216.2 413.4,204.2 416.1,190.7 418.2,185.6 421.2,181.9 424.8,179.8ZM615.2,577.5 616.9,577.6 619.0,580.6 620.3,589.6 620.3,607.6 618.1,622.1 616.0,631.6 597.6,680.6 592.4,696.1 588.5,712.1 587.8,725.6 587.2,726.7 586.2,727.1 583.8,725.7 582.5,731.1 581.9,742.1 582.0,757.6 584.1,764.1 587.8,771.1 587.3,775.1 463.7,775.1 464.2,771.9 469.9,763.1 472.4,758.1 479.0,738.1 476.2,733.1 474.6,720.6 473.7,689.2 471.5,670.6 470.6,658.1 469.7,630.1 469.7,623.1 470.6,620.6 471.8,620.1 473.8,620.4 478.8,623.9 489.1,637.1 491.7,644.6 500.8,679.3 503.8,686.6 507.5,693.1 517.8,714.0 524.1,721.1 531.2,726.4 535.8,731.6 537.8,732.4 539.8,732.3 541.8,731.2 553.2,721.2 558.2,712.6 561.8,703.6 571.0,676.1 588.0,643.1 597.8,626.1 600.4,620.1 611.0,587.6Z'/>
<path fill='#61493f' fill-rule='evenodd' d='M615.8,578.4 617.2,579.2 618.5,581.6 619.6,591.1 619.5,608.1 615.9,629.1 597.1,680.1 589.8,702.3 588.8,704.5 587.2,704.9 586.2,707.0 584.2,714.1 582.3,724.6 581.2,741.6 581.3,757.6 583.0,763.1 586.9,770.7 587.1,772.1 586.5,775.1 464.4,775.1 465.2,771.6 470.7,763.1 473.9,756.1 479.4,740.1 480.3,735.6 479.8,734.2 478.2,734.3 477.8,733.9 476.6,728.6 474.6,689.1 472.2,670.6 471.3,658.6 470.4,631.1 470.4,623.6 470.9,621.6 471.8,620.9 473.5,621.1 478.6,624.6 488.3,637.1 490.9,644.6 498.2,673.6 500.1,679.6 503.3,687.1 506.8,693.2 517.0,714.1 523.6,721.6 530.8,726.9 535.2,732.1 537.8,733.1 540.2,732.9 544.8,729.7 553.8,721.6 559.0,712.6 562.6,703.6 571.5,676.6 588.8,643.2 598.3,626.6 601.0,620.6 611.6,588.1Z'/>
<path fill='#695147' fill-rule='evenodd' d='M616.2,579.7 617.2,580.7 618.2,584.1 618.8,590.1 618.8,607.1 615.2,628.6 589.9,697.2 585.6,705.1 583.6,712.1 581.5,724.1 580.4,741.6 580.6,757.1 582.2,763.1 585.6,770.6 584.9,775.1 465.8,775.1 467.1,770.6 471.5,763.1 474.9,755.6 480.1,740.1 481.6,733.6 480.5,727.6 480.9,715.6 479.6,703.6 474.1,672.6 472.5,658.6 471.2,631.1 471.2,623.6 471.7,622.1 473.8,622.2 478.5,625.6 487.8,637.9 490.2,645.3 497.5,674.1 499.4,680.1 502.6,687.6 505.8,693.0 516.4,714.6 523.2,722.3 530.2,727.5 534.8,732.7 537.2,733.8 540.2,733.7 542.2,732.7 554.4,722.1 559.9,712.6 563.4,703.6 572.2,677.0 589.2,644.0 598.9,627.1 601.9,620.6 612.3,588.6Z'/>
<path fill='#71574e' fill-rule='evenodd' d='M489.8,685.3 491.2,686.5 499.2,697.1 510.5,714.1 514.7,719.1 522.2,725.7 528.2,729.5 533.8,734.4 538.2,735.6 542.8,734.5 558.2,722.7 565.1,713.2 573.8,697.2 580.2,686.8 579.6,695.6 577.8,709.1 577.7,723.1 578.9,737.1 579.9,757.6 584.5,770.6 583.7,775.1 467.9,775.2 469.2,770.1 476.0,756.2 488.3,721.1 489.7,712.1 490.1,700.6 489.2,689.1Z'/>
<path fill='#795d55' fill-rule='evenodd' d='M502.8,734.1 504.8,733.8 506.8,734.3 525.8,741.9 531.2,743.4 541.2,742.7 557.2,737.6 562.2,736.6 564.8,737.1 572.2,744.4 575.4,749.7 583.2,769.6 583.6,771.6 582.7,775.1 471.3,775.1 471.4,772.1 473.1,768.1 487.2,745.9 494.2,738.7Z'/>
<path fill='#82645e' fill-rule='evenodd' d='M498.2,747.1 503.2,746.8 507.8,747.4 529.2,751.8 536.8,751.6 556.2,749.5 562.2,750.6 565.8,752.2 568.2,754.1 575.2,765.2 577.6,770.1 577.2,775.1 474.9,775.1 474.8,772.1 475.8,769.6 488.1,754.1 491.8,750.4 495.2,748.1Z'/>
<path fill='#8b6b69' fill-rule='evenodd' d='M499.2,753.6 502.8,753.4 511.2,755.0 552.8,768.1 556.1,770.1 558.0,775.1 479.0,775.1 479.1,772.6 480.4,770.2 489.8,759.6 494.8,755.4Z'/>
<path fill='#90706c' fill-rule='evenodd' d='M500.8,760.1 504.7,760.5 510.2,761.9 521.8,766.9 526.6,770.6 528.5,773.1 529.1,775.1 483.0,775.1 483.3,773.1 484.2,771.6 491.2,764.4 495.2,761.7Z'/>
<path fill='#967670' fill-rule='evenodd' d='M498.2,766.6 503.7,767.1 508.8,768.7 516.2,772.8 517.2,773.8 517.6,775.1 487.4,775.1 487.9,773.6 490.9,770.1 494.8,767.5Z'/>
</g>
<clipPath id='clip2'><path d='M681.2,53.0 682.2,75.0 684.9,80.0 685.5,132.0 687.7,140.0 688.7,182.0 690.7,188.0 692.0,228.0 693.7,236.0 694.9,284.0 696.7,292.0 700.8,360.0 704.4,417.0 707.8,442.0 714.1,525.7 721.7,609.6 725.8,659.8 730.9,714.0 735.1,775.0 901.1,775.0 905.2,722.6 908.6,693.3 912.8,659.7 915.8,628.3 920.0,592.7 922.9,563.4 926.2,525.7 931.7,483.8 933.4,453.0 939.2,452.0 939.2,53.0Z'/></clipPath>
<g clip-path='url(#clip2)'><path d='M681.2,53.0 682.2,75.0 684.9,80.0 685.5,132.0 687.7,140.0 688.7,182.0 690.7,188.0 692.0,228.0 693.7,236.0 694.9,284.0 696.7,292.0 700.8,360.0 704.4,417.0 707.8,442.0 714.1,525.7 721.7,609.6 725.8,659.8 730.9,714.0 735.1,775.0 901.1,775.0 905.2,722.6 908.6,693.3 912.8,659.7 915.8,628.3 920.0,592.7 922.9,563.4 926.2,525.7 931.7,483.8 933.4,453.0 939.2,452.0 939.2,53.0Z' fill='#000'/>
<path fill='#21259a' fill-rule='evenodd' d='M893.4,210.0 898.9,209.8 902.4,210.4 906.3,212.2 909.6,214.7 910.5,216.2 910.6,218.2 906.6,229.2 907.0,232.6 909.9,235.0 921.4,238.7 924.0,241.2 925.0,243.6 923.8,251.1 921.4,258.6 920.8,263.1 920.7,271.1 918.9,281.1 916.1,285.6 909.0,292.6 902.5,305.6 900.4,307.5 898.4,308.3 895.8,307.1 892.3,301.6 889.9,299.5 876.9,294.8 872.3,292.6 868.8,290.6 867.2,288.1 868.3,285.1 875.4,276.6 877.3,272.6 877.9,267.6 877.5,242.7 880.8,228.7 882.4,218.5 883.6,216.2 886.7,213.2ZM727.4,223.6 729.9,223.3 732.3,224.2 737.9,227.9 757.3,237.7 762.3,241.7 762.4,243.7 760.5,247.2 759.9,250.2 763.6,262.6 766.9,269.1 770.7,274.1 778.0,282.1 780.4,286.6 780.3,288.1 779.4,289.8 771.8,295.2 770.8,296.6 770.8,298.1 773.4,301.3 781.4,307.0 785.8,311.1 797.2,334.6 797.5,337.1 796.8,339.3 795.4,341.3 791.3,344.6 789.4,348.1 789.4,353.6 791.2,361.6 789.9,371.4 786.4,375.4 779.3,380.6 779.0,383.1 780.9,388.1 780.4,389.9 778.0,393.1 773.9,397.2 769.9,399.6 766.9,400.8 762.9,400.2 758.4,398.1 749.7,391.6 741.1,384.1 736.4,377.6 731.7,364.6 730.9,363.8 727.9,363.2 726.4,362.2 718.4,347.6 716.4,345.6 708.4,340.4 706.2,337.1 706.8,334.6 711.2,329.1 711.9,326.6 711.9,323.6 708.1,307.1 706.1,286.6 698.8,262.1 698.6,257.1 699.9,254.8 705.9,251.6 707.8,249.7 709.4,245.7 712.0,236.7 714.1,232.7 719.9,227.6ZM677.4,326.5 679.2,327.1 684.4,331.1 698.1,353.6 702.2,358.6 703.9,359.6 707.9,359.9 709.1,360.6 710.0,362.6 713.6,377.1 716.8,383.1 720.9,386.8 730.3,393.6 732.4,396.5 733.6,401.1 733.8,410.1 734.7,413.6 742.8,427.8 748.6,443.6 756.9,459.9 758.1,464.1 758.9,475.6 759.6,478.6 764.1,488.1 767.4,493.6 773.1,501.6 777.9,505.9 782.9,508.3 790.8,510.1 805.9,510.7 823.4,507.6 839.9,501.4 843.9,499.2 848.4,495.6 852.1,490.6 857.1,481.1 859.4,474.4 865.4,460.2 873.1,445.1 877.2,435.6 884.2,418.6 890.9,395.6 892.9,391.6 895.9,387.8 901.1,383.6 906.9,377.6 913.3,369.5 914.3,369.3 915.9,370.2 916.9,369.9 925.4,362.1 935.9,356.8 938.3,353.5 939.4,352.9 939.4,437.9 937.9,438.3 932.9,441.2 928.2,445.6 925.6,450.7 923.5,457.6 921.4,471.1 918.2,528.1 917.2,538.6 916.1,542.6 914.0,559.6 911.8,586.1 907.9,620.1 907.3,642.1 906.3,647.1 901.8,656.6 898.0,667.1 896.0,677.6 894.9,690.1 894.9,699.2 895.4,712.6 897.3,730.6 897.0,738.1 899.0,745.7 901.4,750.4 901.4,754.6 903.4,756.0 912.9,757.8 932.8,760.5 939.4,760.6 939.4,775.1 674.9,775.1 674.9,327.5ZM726.2,652.6 724.9,653.6 724.0,657.6 724.5,666.6 725.6,674.1 727.0,677.1 729.0,679.6 730.9,680.8 732.9,681.0 734.4,680.0 735.4,677.1 735.5,672.6 734.9,668.6 728.9,654.8 727.4,652.9Z'/>
<path fill='#2732ae' fill-rule='evenodd' d='M893.9,211.1 898.9,211.0 901.9,211.5 905.7,213.1 908.4,215.1 909.4,216.7 909.4,218.1 905.4,229.2 905.9,233.2 908.9,235.9 920.6,239.7 922.9,241.7 923.8,244.2 922.8,250.7 920.2,258.6 919.5,271.1 917.8,280.6 915.4,284.7 908.0,292.1 901.4,305.1 898.4,306.7 896.8,306.1 893.0,300.6 890.4,298.4 876.0,293.1 870.2,290.1 868.7,288.1 869.5,285.6 876.2,277.6 878.4,273.1 879.1,267.6 878.7,242.6 882.2,227.7 883.4,219.2 884.4,217.2 887.4,214.1ZM728.4,224.6 731.4,225.0 737.4,228.9 755.9,238.2 758.9,240.2 760.8,242.2 760.9,243.6 759.2,247.1 758.8,250.2 762.6,263.1 766.1,270.1 776.9,282.6 779.0,286.6 778.9,288.1 777.9,289.7 770.2,295.1 769.5,296.6 769.7,298.6 772.9,302.4 780.9,308.1 784.9,311.8 788.3,318.1 789.9,322.6 794.9,331.8 796.1,335.1 796.3,337.1 795.6,339.1 790.4,343.9 788.3,347.6 788.2,353.6 790.0,361.6 788.6,371.1 785.9,374.2 779.4,378.7 778.2,380.1 777.8,383.1 779.6,388.1 777.3,392.1 773.2,396.1 766.9,399.6 763.4,399.1 758.9,397.0 750.4,390.7 742.2,383.6 737.4,377.1 732.5,363.6 731.4,362.6 727.4,361.4 719.1,346.6 716.9,344.5 709.3,339.6 707.6,337.1 708.0,335.1 711.0,331.6 712.5,329.1 713.0,323.6 709.2,307.1 707.1,285.6 699.9,261.6 699.7,257.6 700.8,255.6 706.9,252.3 708.8,250.2 710.5,246.2 713.0,237.2 715.3,233.2 721.2,228.2ZM677.9,337.6 682.9,342.1 687.4,346.9 699.7,362.1 704.9,365.2 710.3,378.6 713.2,383.6 723.4,393.1 727.8,398.1 728.9,401.6 730.0,410.6 731.1,414.6 739.1,429.1 745.0,444.6 752.4,461.2 753.6,465.1 755.4,476.6 756.9,481.1 765.4,496.6 770.9,504.1 777.9,509.7 781.9,511.5 789.4,513.7 796.9,514.7 806.9,514.9 824.8,512.0 832.4,509.4 840.3,505.5 845.4,502.1 849.9,497.9 855.4,489.8 859.3,481.6 861.3,475.5 867.6,460.6 874.9,445.6 882.1,428.1 886.0,418.6 889.5,408.1 895.4,395.6 898.8,391.5 904.9,386.9 914.8,377.1 919.8,374.6 927.3,367.8 932.9,364.9 939.4,363.2 939.3,431.4 937.3,431.9 935.4,433.3 929.4,438.9 926.4,442.8 923.3,448.7 921.0,456.6 918.0,477.1 914.8,526.6 911.2,555.1 908.9,585.1 905.2,619.6 904.3,641.1 903.2,646.6 897.4,661.2 895.2,668.6 893.5,677.1 891.9,695.7 892.3,713.6 894.2,738.1 896.1,746.1 898.0,750.6 898.9,756.3 900.4,758.1 902.4,759.5 922.5,768.6 931.5,773.6 932.7,775.2 674.9,775.1 674.9,337.0ZM724.4,651.6 722.8,652.6 721.5,654.6 719.7,659.6 718.4,667.6 718.8,675.6 721.6,679.6 724.8,682.1 727.4,683.2 731.4,683.2 733.9,682.0 735.4,679.3 735.8,674.6 734.9,668.1 728.4,653.5 726.4,651.7Z'/>
<path fill='#2d3ebc' fill-rule='evenodd' d='M894.9,212.6 901.4,213.0 904.4,214.2 907.1,216.2 907.7,218.7 903.8,229.7 904.7,234.2 906.4,236.1 908.4,237.4 919.9,241.0 921.6,242.7 922.2,244.7 921.2,250.7 918.7,258.6 917.9,271.1 916.4,280.0 913.8,284.0 907.1,290.6 900.9,303.0 898.9,304.7 897.3,304.0 893.9,299.2 891.4,297.2 887.8,295.6 877.4,292.1 871.9,289.3 870.7,287.6 871.5,285.6 877.9,278.0 880.0,273.1 880.7,267.6 880.3,242.7 883.7,228.2 884.9,219.7 886.0,217.7 888.6,215.1ZM728.9,226.1 730.9,226.5 736.3,230.1 755.3,239.7 758.5,242.2 758.9,243.7 757.5,247.7 757.3,250.7 761.1,263.6 764.6,270.6 768.4,275.6 775.7,283.6 777.3,286.6 776.4,288.9 769.0,294.1 767.9,296.6 768.2,299.1 771.9,303.6 779.6,309.1 783.9,313.1 794.5,335.1 794.6,337.1 794.0,338.6 789.0,343.1 786.8,347.6 786.6,353.1 788.4,361.1 787.2,370.1 784.9,373.0 778.1,377.6 776.9,379.1 776.2,382.6 777.8,387.6 776.8,390.1 772.9,394.5 766.9,398.0 763.9,397.7 759.6,395.6 751.4,389.5 743.4,382.6 738.9,376.5 733.7,362.6 732.1,361.1 728.9,360.3 727.9,359.4 719.9,345.1 710.7,338.6 709.5,337.1 709.7,335.6 713.9,329.8 714.6,326.6 714.6,323.6 710.9,307.6 708.7,285.6 701.5,261.6 701.3,258.1 702.4,256.6 707.9,253.5 710.1,251.1 711.8,247.1 714.5,237.7 716.4,234.3 722.4,229.3ZM681.4,351.6 690.9,359.7 700.9,370.6 706.2,380.6 709.9,386.1 715.9,391.7 721.3,398.6 723.0,402.1 724.8,410.6 726.3,415.1 735.1,432.1 745.7,458.6 752.0,480.7 758.0,492.6 765.4,504.1 770.8,509.6 777.9,514.4 788.4,518.4 797.4,519.9 807.4,520.2 825.9,517.6 833.4,515.0 839.4,511.9 844.4,508.7 848.4,505.1 853.2,499.1 858.6,490.1 862.3,482.2 870.9,460.1 877.1,446.6 891.7,410.6 896.9,402.5 902.8,395.6 908.4,391.6 918.7,383.1 923.4,380.2 929.9,374.4 933.9,372.2 939.4,371.4 939.4,419.8 937.3,420.7 932.6,425.6 927.4,432.6 922.9,440.2 918.0,453.6 914.9,469.6 913.2,483.6 909.6,532.1 908.1,548.6 906.9,554.6 903.6,600.1 901.3,621.1 900.4,640.6 899.3,646.1 893.9,661.1 891.6,669.1 889.5,680.6 888.0,694.1 888.2,714.6 889.8,734.1 892.8,748.1 895.1,756.6 896.9,760.2 901.1,765.6 908.4,772.1 909.8,775.1 674.9,775.1 674.9,349.3ZM712.2,648.1 711.2,650.1 710.3,656.6 710.2,678.1 711.6,686.6 713.5,694.1 716.4,701.8 717.9,703.6 719.4,702.7 728.4,693.0 734.4,684.8 735.8,679.6 735.9,671.9 734.9,667.2 731.4,658.9 728.4,653.2 725.4,649.6 723.9,648.7 718.9,648.0 714.3,647.7Z'/>
<path fill='#344ac5' fill-rule='evenodd' d='M894.9,214.6 900.4,214.7 903.9,216.1 905.5,217.6 901.8,230.2 902.6,234.2 903.8,236.4 907.4,239.0 918.4,242.4 919.9,243.6 920.2,244.6 919.3,250.2 916.7,258.6 916.0,271.1 914.7,279.1 912.3,282.8 905.5,289.6 899.8,300.8 898.9,301.9 897.9,301.3 894.9,297.4 891.9,295.3 878.7,290.6 873.9,288.2 873.2,287.1 879.7,278.6 882.0,272.6 882.6,267.6 882.2,242.6 885.5,228.6 886.6,220.7 887.4,219.0 889.9,216.7ZM728.9,228.1 730.4,228.5 735.4,231.8 754.0,241.2 756.4,242.8 756.6,244.2 755.2,250.2 759.5,264.6 763.3,272.1 766.9,276.9 772.4,282.6 775.1,286.6 774.7,287.6 768.9,291.6 767.0,293.6 765.9,297.1 766.5,300.1 770.4,304.9 778.4,310.7 782.2,314.1 792.5,335.1 792.3,337.6 787.7,341.6 785.8,344.6 784.9,347.2 784.7,353.1 786.5,361.2 785.3,369.6 783.3,371.8 775.9,377.1 774.7,379.6 774.3,382.1 775.6,387.1 775.5,388.6 771.9,392.9 766.4,396.1 763.9,395.7 760.7,394.1 752.7,388.1 744.5,381.1 740.4,375.4 735.3,361.6 733.4,359.7 729.4,358.1 721.4,344.0 711.8,336.6 715.5,330.6 716.4,327.1 716.5,323.6 712.7,307.1 710.5,285.1 703.4,261.3 703.2,259.1 704.2,257.6 709.4,254.8 711.7,252.1 713.6,247.7 716.3,238.2 717.7,235.6 723.0,231.1ZM677.4,358.6 680.4,358.8 687.9,363.2 696.1,373.1 704.4,384.8 708.1,389.1 712.9,393.1 714.7,395.6 716.7,399.6 720.9,413.1 733.6,439.1 740.7,458.1 743.8,471.0 747.4,479.7 755.4,495.2 762.9,506.7 764.9,509.2 769.7,513.1 774.7,516.6 780.7,519.6 787.9,522.6 800.9,524.9 808.4,524.9 827.3,522.6 837.5,518.6 847.4,511.6 853.3,503.9 860.9,490.8 878.3,448.1 887.0,425.1 894.1,410.6 901.8,402.8 926.4,385.6 932.9,380.0 935.9,378.8 939.4,379.8 939.4,399.6 937.9,400.7 933.4,407.8 922.4,431.2 919.3,439.2 915.4,452.8 911.4,471.6 907.0,513.1 904.8,547.6 903.4,553.1 903.3,561.6 901.9,576.4 900.7,599.6 899.7,611.6 898.3,620.2 897.2,639.6 895.7,647.6 888.9,669.6 886.9,679.4 884.8,693.5 884.9,719.1 886.4,734.7 891.9,755.9 896.4,767.3 900.1,773.1 900.6,775.1 674.9,775.1 674.9,359.6ZM709.6,639.7 706.9,641.3 705.4,643.8 704.5,647.1 702.1,671.6 702.4,690.3 703.6,712.1 705.8,727.1 708.4,737.1 710.3,739.9 712.9,740.8 721.9,738.6 727.9,735.7 729.0,734.6 734.7,693.6 735.9,684.1 736.2,674.6 734.8,666.6 729.9,655.5 725.4,648.0 716.9,642.1 712.6,640.1Z'/>
<path fill='#3b58cc' fill-rule='evenodd' d='M732.4,266.5 733.4,266.5 734.0,267.1 739.4,277.2 745.2,286.1 745.0,293.6 745.4,298.1 747.0,303.6 749.2,308.6 754.4,315.8 758.9,320.4 766.4,326.6 769.4,333.1 768.2,340.1 767.9,345.6 768.8,354.6 770.3,361.6 765.0,369.1 762.4,378.7 761.4,379.6 759.4,378.9 753.1,374.6 750.1,371.1 748.9,368.6 747.6,361.6 745.3,355.1 741.9,351.2 737.1,348.1 732.4,338.6 727.7,333.1 729.4,327.6 730.5,321.1 729.5,304.6 730.0,296.6 731.4,289.6 731.9,283.6 731.0,268.6ZM677.9,360.1 680.4,360.3 687.4,364.3 694.6,373.1 703.4,385.2 707.8,390.1 712.1,393.6 714.1,396.6 715.6,399.6 718.1,409.1 719.9,413.5 732.6,439.6 739.7,458.6 742.9,471.7 746.4,480.0 754.4,495.5 762.3,507.6 764.3,510.1 769.5,514.1 774.5,517.6 780.4,520.6 787.6,523.6 800.4,526.0 808.4,526.0 827.9,523.7 838.1,519.7 848.3,512.1 854.4,504.0 861.4,491.7 879.4,447.6 887.8,425.1 894.7,411.1 900.9,404.9 927.3,386.6 933.9,381.0 936.4,380.4 937.5,381.1 938.9,383.5 939.3,383.5 939.4,388.7 938.9,388.7 936.2,397.6 931.4,407.0 918.9,437.5 914.4,453.1 910.5,471.1 909.0,482.1 906.0,512.6 903.8,547.6 902.5,552.6 902.4,561.1 900.9,576.1 899.8,599.6 897.5,620.2 896.3,639.2 894.6,648.1 888.4,668.1 886.0,679.2 884.0,693.1 883.9,719.6 885.5,735.1 891.2,756.6 895.7,768.6 898.6,773.1 899.1,775.1 674.9,775.1 674.8,361.8ZM709.3,638.1 706.2,639.6 703.9,643.5 702.1,654.6 700.5,671.6 700.6,713.1 701.6,728.1 703.3,738.3 706.8,744.1 711.9,746.2 717.5,745.1 723.4,743.1 731.9,738.6 733.4,737.0 733.7,718.1 736.4,685.1 736.4,675.1 736.0,671.1 734.9,666.3 731.4,658.2 725.9,647.9 718.9,642.1 715.6,640.1 712.3,638.6Z'/>
<path fill='#4075c8' fill-rule='evenodd' d='M678.4,360.6 680.4,361.0 686.9,364.6 693.9,373.1 702.9,385.4 707.4,390.5 711.8,394.1 713.5,396.6 715.2,400.1 717.5,409.1 719.3,413.6 732.2,440.1 739.1,458.6 742.4,471.9 745.8,480.1 753.9,495.7 761.9,508.0 763.9,510.4 769.2,514.6 774.3,518.1 780.2,521.1 787.3,524.1 800.4,526.6 808.9,526.6 827.9,524.3 838.4,520.2 848.6,512.6 854.4,505.0 861.9,491.8 879.7,448.1 888.3,425.1 895.0,411.6 901.4,405.3 927.4,387.3 933.9,381.7 935.9,381.0 937.4,382.2 938.5,386.1 937.1,392.6 935.5,397.6 930.9,406.7 918.4,437.3 913.9,453.0 910.0,471.1 908.4,482.1 905.4,512.6 903.3,547.1 901.9,552.6 901.8,561.1 900.4,576.1 899.3,599.6 896.9,620.1 895.8,639.1 894.2,647.6 887.6,669.1 885.5,679.1 883.4,693.1 883.4,720.1 884.9,735.1 890.6,756.6 895.1,768.6 898.2,773.6 898.5,775.1 674.9,775.1 674.9,362.5ZM708.9,637.6 705.8,639.1 703.4,643.2 701.5,654.6 699.9,671.6 699.9,713.1 701.0,728.1 702.9,738.8 706.4,744.7 711.9,746.9 717.4,745.8 723.8,743.6 732.3,739.1 734.0,737.1 734.3,718.2 736.3,694.1 736.7,680.6 736.3,672.1 735.3,667.4 731.4,657.9 725.9,647.4 719.1,641.6 715.9,639.6 711.1,637.6Z'/>
<path fill='#3a8984' fill-rule='evenodd' d='M678.9,361.1 684.3,363.5 686.8,365.1 702.4,385.6 706.9,390.7 711.4,394.3 713.0,396.6 714.7,400.1 717.1,409.6 718.8,413.6 731.7,440.1 738.6,458.6 741.9,472.1 745.3,480.1 753.4,495.8 761.4,508.1 763.4,510.6 768.9,514.9 773.8,518.4 780.4,521.7 787.3,524.6 800.4,527.0 808.8,527.0 827.8,524.8 838.4,520.7 848.8,513.1 854.9,505.1 862.2,492.1 880.1,448.1 888.5,425.6 895.6,411.6 901.3,405.8 927.7,387.6 934.2,382.1 935.9,381.6 937.0,382.6 937.7,384.6 937.8,387.1 935.4,396.6 930.3,406.6 917.9,437.2 913.3,453.1 909.6,470.6 908.0,482.1 905.0,512.6 902.9,547.1 901.5,552.1 901.4,561.1 900.0,575.6 898.9,599.6 896.5,620.1 895.4,638.6 893.8,647.1 887.1,669.1 885.0,679.1 883.0,693.1 882.9,720.1 884.5,735.6 890.1,756.6 894.6,768.6 897.6,773.6 898.0,775.1 674.9,775.1 674.9,363.0ZM708.9,637.1 705.6,638.6 703.1,642.6 702.0,646.1 701.0,654.1 699.4,671.6 699.5,713.1 700.6,728.6 702.5,739.1 706.2,745.1 711.9,747.4 717.4,746.4 723.9,744.2 732.4,739.6 734.4,737.5 734.8,718.1 737.1,684.6 736.5,672.1 735.6,667.6 731.8,658.6 726.3,647.6 718.4,640.6 712.9,637.7 710.4,637.0Z'/>
<path fill='#3a9452' fill-rule='evenodd' d='M678.9,361.6 683.7,363.6 686.4,365.4 702.3,386.1 706.7,391.1 711.0,394.7 712.7,397.1 714.4,400.6 716.7,409.6 718.3,413.6 731.4,440.5 738.1,458.6 741.4,472.1 745.0,480.6 753.0,496.1 760.9,508.1 763.3,511.1 768.4,515.1 773.9,519.0 779.9,522.0 786.8,525.0 800.4,527.5 808.9,527.5 827.9,525.3 838.8,521.0 849.4,513.2 855.0,505.6 862.7,492.1 880.6,448.1 889.0,425.6 895.8,412.1 901.7,406.1 927.9,388.1 934.4,382.8 935.9,382.4 936.5,383.1 937.2,387.1 934.9,396.6 930.0,406.1 917.6,436.6 913.0,452.6 909.1,470.6 907.6,481.6 904.5,512.6 902.4,547.1 901.0,552.1 900.9,561.1 899.5,575.6 898.4,599.1 896.0,620.1 894.9,638.6 893.4,647.2 886.6,669.1 884.6,678.6 882.5,693.1 882.5,720.1 884.1,735.6 889.6,756.6 894.1,768.6 897.1,773.6 897.4,775.1 674.9,775.1 674.9,363.6ZM708.9,636.6 704.9,638.8 702.5,642.6 701.6,646.2 699.0,671.1 699.0,713.1 700.1,728.6 702.1,739.6 705.9,745.5 709.9,747.5 711.9,747.9 717.4,746.8 724.4,744.5 732.9,739.9 734.8,737.6 735.3,718.1 737.5,685.1 736.5,671.6 735.7,667.6 731.9,658.4 726.3,647.3 718.9,640.3 713.4,637.4 710.3,636.5Z'/>
<path fill='#3e9c3a' fill-rule='evenodd' d='M678.4,362.4 680.4,362.6 685.9,365.6 692.9,374.2 701.6,386.1 706.4,391.5 710.8,395.1 712.4,397.5 713.8,400.6 716.1,409.6 718.0,414.1 730.9,440.6 737.7,459.1 741.1,472.6 744.5,480.7 752.7,496.6 760.6,508.6 762.8,511.5 768.4,515.8 773.4,519.3 780.4,522.8 786.9,525.5 800.4,528.0 808.9,528.0 827.9,525.9 838.9,521.6 849.7,513.6 855.7,505.6 863.0,492.6 881.0,448.6 889.4,426.1 896.4,412.2 903.9,405.2 921.3,393.4 933.9,384.1 935.4,383.6 936.0,384.1 936.6,386.1 936.3,389.2 934.3,396.6 929.5,406.1 919.8,429.1 916.9,437.1 912.6,452.1 908.6,470.6 907.0,481.6 904.0,512.6 901.9,547.1 900.5,552.1 900.4,561.1 899.0,575.6 897.9,599.2 895.5,620.1 894.4,638.6 892.9,647.1 886.1,669.1 882.0,692.6 882.0,720.1 883.5,735.6 889.3,757.1 893.8,769.1 896.4,773.6 896.8,775.1 674.9,775.1 674.8,364.2 676.4,363.8ZM705.8,637.3 704.4,638.6 702.0,642.6 701.1,646.2 698.5,671.1 698.5,713.2 699.6,728.6 701.6,739.6 705.4,745.8 708.4,747.4 711.9,748.4 717.4,747.4 724.4,745.0 733.4,740.2 735.2,738.1 735.7,735.6 735.3,730.1 735.8,718.1 737.7,694.6 737.9,686.1 736.7,671.6 735.8,667.6 731.9,658.1 726.5,647.1 719.4,640.0 713.4,636.9 710.4,636.0Z'/>
<path fill='#43a331' fill-rule='evenodd' d='M678.9,363.2 680.4,363.4 685.4,366.1 692.4,374.6 701.1,386.6 705.9,392.0 710.3,395.6 711.9,398.0 713.3,401.1 715.6,410.1 717.2,414.1 730.3,441.1 737.0,459.1 740.5,473.1 743.7,480.6 752.0,496.7 755.8,503.1 760.1,509.1 762.4,511.9 767.8,516.3 772.9,519.7 779.9,523.3 787.3,526.3 800.4,528.7 808.9,528.7 828.3,526.4 839.3,522.0 850.1,514.1 856.1,506.1 863.7,492.7 881.7,448.6 890.1,426.1 896.9,412.7 902.4,407.1 930.9,387.2 933.9,385.7 934.8,385.9 935.4,386.6 935.4,390.6 933.6,396.6 928.7,406.1 919.2,428.6 916.2,437.1 911.7,453.1 908.0,470.2 906.4,481.6 903.3,512.6 901.2,546.6 899.8,552.1 899.7,561.1 898.3,576.1 897.2,599.1 894.8,620.1 893.7,638.6 892.3,646.6 885.6,668.7 883.5,678.6 881.4,692.6 881.3,719.6 882.9,735.6 887.1,752.6 893.0,769.2 895.9,775.1 674.9,775.1 674.9,364.9ZM708.1,635.6 705.4,636.8 703.8,638.1 701.5,642.2 700.4,646.1 697.8,671.6 697.8,713.1 698.9,728.6 701.0,740.2 704.9,746.3 707.9,748.0 711.9,749.0 717.9,747.9 724.8,745.5 733.9,740.7 735.9,738.1 736.4,735.1 736.0,730.1 736.4,718.6 738.4,694.1 738.4,686.6 736.0,667.6 732.0,658.1 726.4,646.6 721.9,641.3 717.9,638.4 711.4,635.5Z'/>
<path fill='#51ae34' fill-rule='evenodd' d='M678.4,364.5 680.9,364.6 684.9,366.9 700.4,387.1 704.9,392.2 709.5,396.1 710.9,398.2 712.4,401.1 714.7,410.1 716.5,414.6 729.4,441.1 736.3,459.6 739.6,473.1 743.0,481.1 751.5,497.6 759.4,509.6 761.9,512.7 767.4,517.0 772.3,520.5 779.4,524.0 786.4,526.9 800.4,529.5 808.9,529.5 828.9,527.1 840.0,522.6 850.9,514.7 856.8,506.7 864.4,493.1 882.4,449.1 890.9,426.5 897.4,413.5 903.1,407.6 930.9,388.4 932.9,387.5 934.4,388.4 934.5,390.6 932.9,396.2 928.0,405.6 915.6,436.1 911.1,452.1 907.2,470.1 905.5,482.1 902.5,512.6 900.3,546.6 898.9,552.1 898.8,561.1 897.4,576.1 896.3,599.1 894.0,620.1 892.7,639.1 891.4,646.6 884.7,668.6 882.6,678.6 880.5,693.1 880.4,719.6 881.9,735.2 886.4,753.1 894.8,775.1 674.9,775.1 674.9,365.8ZM708.5,634.6 704.9,636.1 703.4,637.3 700.8,641.7 699.5,646.1 696.9,671.6 696.9,713.1 698.0,728.6 700.3,740.6 704.5,747.1 709.4,749.5 711.8,749.9 717.9,748.8 725.4,746.3 734.4,741.4 736.6,738.6 737.3,735.6 736.9,730.1 737.3,718.7 739.3,690.2 736.1,667.6 726.9,647.1 722.4,640.7 720.4,638.9 713.9,635.4 710.9,634.5Z'/>
<path fill='#60b838' fill-rule='evenodd' d='M678.9,365.5 680.9,365.7 684.2,367.6 699.9,388.0 704.4,393.1 708.9,396.9 710.4,399.1 715.7,415.1 728.6,441.6 735.4,460.0 738.8,473.6 742.2,481.6 750.7,498.1 758.5,510.1 761.4,513.5 766.4,517.5 771.9,521.3 778.9,524.9 785.9,527.8 800.4,530.5 808.4,530.6 828.9,528.1 840.4,523.6 851.4,515.6 857.7,507.1 865.2,493.6 883.2,449.6 891.8,426.6 898.1,414.1 902.9,409.1 910.4,403.8 931.4,389.4 932.3,389.0 933.3,389.6 933.3,391.1 931.8,396.1 927.2,405.1 917.5,428.1 914.6,436.1 909.9,452.6 906.1,470.6 904.5,482.1 901.5,512.6 899.3,546.2 897.9,552.1 897.8,561.1 896.4,576.1 895.3,599.1 893.0,620.1 891.8,639.1 890.6,646.1 883.8,668.9 879.5,693.1 879.4,719.6 880.9,735.2 885.5,753.6 893.7,775.1 674.9,775.1 674.9,366.8ZM708.5,633.6 704.4,635.2 702.6,636.6 699.7,641.6 698.5,646.1 695.9,671.6 695.9,713.1 697.0,728.6 699.5,741.1 703.9,747.9 708.9,750.3 711.9,750.9 718.4,749.7 725.4,747.3 734.9,742.3 737.4,739.4 738.3,735.6 737.8,730.1 738.3,718.1 740.1,691.6 736.1,667.1 726.8,646.8 722.9,640.2 720.9,638.2 714.4,634.6 710.9,633.6Z'/>
<path fill='#71c540' fill-rule='evenodd' d='M680.4,366.8 683.4,368.6 698.8,388.6 703.7,394.1 707.9,397.6 709.4,399.8 714.6,415.6 727.4,441.7 734.4,460.5 737.6,473.6 741.2,482.1 749.7,498.6 757.5,510.6 760.4,514.2 765.8,518.5 771.4,522.4 778.4,525.9 785.4,528.8 800.4,531.7 808.9,531.7 829.4,529.2 836.9,526.5 841.4,524.3 852.3,516.1 858.6,507.6 865.9,494.4 871.4,480.1 884.2,450.1 892.9,427.3 899.2,414.6 906.2,408.1 928.7,392.6 930.9,391.5 931.5,391.6 930.7,395.6 926.1,404.6 916.6,427.1 913.5,435.6 908.6,453.1 905.0,470.6 903.4,482.1 900.5,512.6 898.3,546.1 896.9,551.6 896.8,561.1 895.3,576.1 894.2,599.1 891.9,620.1 890.8,639.1 889.7,646.1 883.4,668.2 878.6,693.2 878.4,720.1 879.9,735.6 884.5,754.1 892.4,775.1 674.9,775.1 674.9,368.0ZM708.1,632.6 703.8,634.3 701.9,635.8 698.7,641.1 697.4,645.6 694.7,671.1 694.7,713.1 695.8,728.6 697.5,738.6 698.6,742.1 701.5,747.2 703.4,749.1 708.4,751.4 711.8,752.1 718.4,750.9 725.9,748.4 735.9,743.0 738.2,740.1 739.4,735.6 738.9,729.6 740.9,693.1 740.4,688.6 738.6,682.6 736.2,667.2 727.0,646.6 723.4,640.0 720.9,637.3 713.9,633.4 710.4,632.4ZM790.8,651.7 790.2,652.1 790.2,653.1 798.6,668.6 801.9,676.6 812.9,700.0 813.7,701.1 814.4,701.1 823.5,682.6 826.6,673.6 832.7,658.7 833.3,655.6 833.1,653.6 831.9,652.4 828.9,651.9 819.4,651.4 813.9,651.8 799.4,650.9Z'/>
<path fill='#82d149' fill-rule='evenodd' d='M678.4,377.9 679.8,379.0 692.6,393.1 704.0,403.6 708.0,414.1 724.6,443.1 731.9,460.6 735.7,474.1 739.7,483.6 751.2,506.1 756.7,514.1 763.9,520.8 771.8,526.5 783.4,531.1 794.8,533.5 800.4,534.0 809.3,533.9 829.9,531.4 837.9,528.4 842.4,526.0 847.9,522.3 852.9,518.0 858.0,511.1 863.1,502.1 866.7,494.6 871.9,480.6 879.9,463.4 897.6,428.1 904.9,417.1 907.9,414.8 912.9,411.9 914.4,411.3 915.2,411.6 909.0,434.6 903.0,470.6 900.9,492.1 897.0,545.6 895.5,551.6 895.2,561.1 893.6,575.6 892.1,598.6 891.0,605.6 889.3,642.6 882.9,668.2 877.6,693.6 877.2,720.1 878.5,736.2 882.8,754.1 890.4,775.1 674.9,775.1 674.9,377.7ZM774.8,622.6 777.9,634.4 781.7,643.1 784.4,652.2 793.6,670.6 800.9,689.7 808.1,706.1 812.4,719.8 812.9,720.7 813.9,721.0 816.8,716.0 823.5,697.6 829.4,685.0 837.9,661.7 839.4,654.7 838.9,650.3 836.9,647.1 834.9,645.8 821.3,643.7 804.9,643.0 788.3,644.3 776.9,625.0ZM707.5,631.1 702.4,632.7 699.8,634.6 696.1,640.1 694.4,645.1 690.5,670.6 689.1,714.6 689.9,730.1 691.5,740.1 693.1,745.1 696.9,750.5 699.9,753.2 704.9,755.2 710.9,756.4 717.3,754.9 726.9,751.2 736.9,744.9 739.8,741.1 741.0,736.1 740.5,730.1 740.5,718.6 741.5,694.2 741.0,689.1 738.8,682.6 736.2,666.6 723.9,640.1 721.4,636.9 716.4,633.4 710.4,631.0Z'/>
<path fill='#97d951' fill-rule='evenodd' d='M688.4,412.8 693.5,419.1 711.3,437.6 717.8,445.6 723.6,455.1 727.1,462.1 732.4,476.6 746.5,508.6 752.4,518.1 758.4,524.7 768.4,534.0 780.9,536.9 794.4,538.7 801.9,539.0 810.4,538.8 828.9,536.6 832.9,535.6 839.4,532.7 849.8,525.6 855.8,519.4 860.8,511.1 866.5,497.6 872.4,481.2 877.9,470.6 882.4,464.0 895.4,450.1 896.9,449.0 897.7,449.6 898.7,457.6 899.0,475.1 897.9,497.2 898.4,506.1 897.8,518.1 894.8,544.6 893.1,551.1 889.4,582.6 885.7,607.6 888.2,630.1 888.2,642.1 886.2,653.1 876.7,692.6 875.5,718.1 876.0,736.6 878.6,751.1 885.1,768.6 886.9,775.1 674.9,775.1 674.8,763.4 686.9,768.8 690.9,769.6 696.8,770.0 702.9,769.8 708.4,768.9 713.4,767.2 718.4,764.6 729.8,757.5 734.9,753.7 739.4,749.3 742.8,743.6 744.2,736.1 742.2,719.1 741.8,692.1 741.2,688.6 738.9,681.6 737.0,669.1 732.7,658.1 724.0,639.6 722.4,637.2 716.4,631.9 709.9,628.1 702.4,627.2 696.4,627.9 691.6,630.1 684.6,636.1 680.6,642.1 675.9,652.8 674.9,653.3 674.9,405.7ZM772.6,619.1 772.6,620.6 776.9,633.3 781.2,643.1 783.9,652.3 794.6,674.6 800.3,690.1 807.1,705.6 811.9,720.7 812.9,722.0 813.9,722.0 815.4,720.5 817.8,715.6 824.7,697.7 830.4,685.2 838.9,662.2 840.6,654.1 839.9,648.5 837.9,644.6 835.4,643.3 813.9,641.5 790.4,640.9 785.1,634.6 775.0,620.1 773.3,618.8Z'/>
<path fill='#ace159' fill-rule='evenodd' d='M689.4,438.6 702.4,444.1 709.9,448.9 717.8,457.1 722.6,464.6 726.9,474.1 734.0,490.6 744.3,517.1 760.9,538.8 764.4,542.9 765.9,543.7 785.4,543.4 797.9,544.1 810.9,543.7 832.9,540.8 836.2,539.6 841.4,536.8 853.9,527.4 859.3,520.1 863.6,511.1 872.4,482.8 877.9,472.6 880.9,469.2 885.9,465.5 891.3,463.4 892.4,463.4 893.2,464.1 895.4,477.6 895.8,485.1 894.9,497.6 896.4,505.6 896.1,518.1 892.4,544.1 890.5,551.1 884.4,587.6 879.6,610.1 884.2,622.6 885.7,629.1 886.7,643.1 885.3,653.6 880.9,673.6 875.5,693.1 873.4,721.7 873.3,738.6 875.2,751.6 881.9,768.6 883.5,775.1 724.5,775.1 724.9,773.6 727.4,770.6 743.1,754.1 744.4,751.6 746.9,744.1 747.5,734.6 746.8,728.6 744.3,719.1 742.1,691.6 741.4,688.1 739.3,682.6 736.5,666.6 724.4,639.6 722.4,636.5 712.3,625.8 705.9,620.9 690.4,613.1 678.4,608.3 674.9,607.5 674.9,434.8ZM771.9,618.3 771.9,620.1 776.9,634.4 781.1,643.6 783.9,653.1 794.1,674.6 799.8,690.1 807.0,706.6 811.6,721.6 812.4,722.8 813.4,722.9 815.4,721.3 818.2,716.2 831.8,683.6 839.4,663.6 840.6,659.6 841.7,652.6 841.6,648.6 840.0,642.6 838.9,641.3 837.4,640.9 817.8,640.5 800.9,639.3 791.9,638.1 786.0,632.6 774.9,617.8 773.4,616.8Z'/>
<path fill='#c1e85d' fill-rule='evenodd' d='M696.4,456.6 702.9,456.5 708.9,458.2 714.1,462.1 718.8,468.1 723.7,477.1 729.7,491.1 738.7,519.6 748.3,533.1 760.3,555.0 761.9,556.4 773.4,552.0 782.9,549.6 788.3,549.0 797.4,549.4 811.4,548.7 833.4,545.7 839.9,543.5 845.3,539.6 856.1,530.6 859.9,525.8 862.6,520.6 865.8,512.1 868.2,502.2 869.7,493.1 871.9,485.6 873.8,481.1 878.0,474.1 880.9,471.3 884.9,469.8 887.9,470.2 890.4,472.4 891.8,477.1 892.6,484.1 892.0,498.6 894.4,506.6 894.4,519.1 891.9,535.2 882.3,575.6 879.9,588.1 877.6,597.6 872.7,612.6 873.1,614.1 879.3,621.0 882.4,626.7 884.0,632.1 885.4,642.7 884.6,653.6 882.7,663.6 878.9,680.5 874.2,694.1 871.9,713.2 870.5,734.1 870.5,740.2 872.0,752.6 878.0,766.6 880.3,775.1 736.9,775.1 737.3,773.1 739.4,769.1 749.1,754.6 750.8,744.1 751.0,736.6 749.9,727.6 747.3,722.6 746.4,719.2 742.5,691.1 739.4,681.5 737.0,667.6 724.0,638.1 681.0,569.1 676.9,563.2 674.9,561.9 674.9,485.7 675.9,484.8 679.5,470.6 682.2,465.6 685.0,462.6 689.4,459.4 692.7,457.6ZM771.6,612.6 771.3,619.6 775.8,632.6 780.7,643.1 784.4,655.2 792.0,670.6 799.2,689.6 806.4,706.1 811.4,722.6 812.4,723.9 813.4,723.8 815.6,721.6 818.7,716.1 832.6,683.6 840.1,664.1 842.3,655.6 843.1,649.6 842.4,638.6 840.9,637.9 827.9,638.9 818.4,639.0 801.4,637.4 793.4,635.7 786.9,630.9 778.9,621.4 773.4,613.2 772.3,612.3Z'/>
<path fill='#d5ed62' fill-rule='evenodd' d='M705.9,465.1 707.9,465.3 710.4,466.5 714.9,471.1 719.9,478.8 723.4,486.0 728.7,501.6 733.0,522.1 739.0,529.6 743.3,538.1 754.9,570.6 758.7,586.1 763.1,595.6 767.7,608.1 770.2,615.6 771.0,620.1 775.4,632.6 780.5,643.1 784.4,655.8 791.8,671.1 799.0,690.1 805.9,706.1 810.9,723.1 812.4,725.1 815.4,722.6 819.0,716.6 833.4,683.6 839.1,669.1 842.0,660.6 845.6,640.7 848.1,632.1 846.9,632.1 839.9,634.8 833.9,636.3 826.8,637.3 818.9,637.7 807.9,636.7 800.4,635.3 793.9,633.2 788.9,630.4 779.1,620.1 773.4,608.9 765.3,595.2 761.7,585.6 761.6,579.1 762.4,574.6 764.5,570.1 769.9,564.4 777.9,558.5 784.4,555.5 789.3,554.5 797.9,554.5 811.8,553.6 826.9,551.6 836.9,550.0 842.6,547.6 859.1,533.1 862.9,527.8 865.5,521.6 868.0,513.1 870.6,493.6 872.9,485.2 874.9,481.0 879.0,474.6 881.9,472.6 883.3,472.3 884.9,472.8 887.6,476.6 888.6,479.1 889.6,485.6 888.9,499.6 891.7,504.1 893.0,509.2 893.0,518.1 891.5,527.6 887.2,545.1 885.4,550.1 880.2,570.1 878.4,575.1 875.5,588.1 870.5,602.6 863.8,617.6 864.4,618.5 867.9,619.0 873.4,621.1 876.4,623.4 878.9,626.2 882.1,632.6 884.2,643.1 883.6,656.1 880.2,673.1 878.3,680.6 874.8,688.6 872.9,694.6 870.2,712.6 867.7,738.1 867.9,747.7 868.7,753.6 875.0,767.1 877.2,775.1 745.6,775.1 746.9,770.1 753.4,758.2 754.4,754.6 754.2,734.6 753.1,727.1 752.4,725.1 749.1,721.1 748.1,718.1 742.7,690.1 739.9,682.3 737.1,667.1 724.9,639.1 719.5,628.6 716.6,620.6 713.2,608.6 712.2,602.1 701.4,556.6 700.2,542.6 700.3,531.6 699.3,525.1 698.8,515.6 699.9,497.6 699.4,487.6 700.0,472.1 700.5,469.6 702.0,467.1 703.9,465.7Z'/>
<path fill='#e6f067' fill-rule='evenodd' d='M881.4,477.0 882.5,477.1 883.9,478.9 886.2,486.1 886.9,491.6 886.9,499.6 890.3,504.6 891.6,508.6 891.7,518.6 888.7,534.1 878.1,569.6 876.4,574.2 873.2,587.1 867.7,601.6 861.9,613.1 857.6,619.1 849.9,626.8 840.9,632.4 833.4,634.9 819.9,636.5 811.4,636.0 800.4,633.8 793.9,631.5 789.4,629.2 781.1,621.1 778.4,617.1 768.7,594.6 766.2,584.6 767.3,578.6 769.7,573.1 773.6,567.6 776.9,564.4 780.9,561.3 786.9,558.3 790.4,557.5 812.9,556.4 827.9,554.3 838.1,552.6 844.0,550.1 860.9,534.7 864.4,529.6 867.4,522.2 869.5,513.6 871.7,494.6 873.9,487.1 876.4,482.5ZM710.9,481.5 712.4,482.1 714.4,484.6 720.2,495.1 723.9,504.1 729.7,524.1 735.5,530.6 738.7,536.6 743.6,552.6 746.9,566.7 751.4,580.7 754.9,588.8 760.7,598.1 769.4,615.9 775.0,632.6 780.5,643.6 784.4,656.5 792.9,674.8 798.5,690.1 805.4,706.1 811.4,726.2 812.9,726.2 814.4,724.9 819.1,717.6 836.2,679.1 841.7,664.6 847.0,642.1 849.4,635.6 859.4,625.4 862.9,623.3 865.8,622.3 869.4,622.5 873.4,623.9 876.9,626.5 879.5,630.1 881.2,634.1 883.1,643.1 882.9,656.1 878.4,678.5 872.0,694.2 869.0,712.1 866.0,738.6 866.0,748.1 866.8,754.6 873.1,767.1 875.3,775.1 749.8,775.1 750.6,771.1 756.2,759.1 757.0,756.1 756.1,733.1 754.5,724.6 750.5,720.6 749.0,716.6 743.1,689.6 739.8,680.7 737.2,666.7 721.3,630.1 718.6,621.1 716.8,611.6 712.5,565.1 708.1,535.6 708.4,531.6 707.5,523.1 707.5,513.1 709.5,494.6 709.8,485.1Z'/>
<path fill='#e8d359' fill-rule='evenodd' d='M879.8,488.5 880.9,488.9 881.9,490.4 885.9,500.6 888.7,504.1 890.1,507.1 890.7,510.1 890.6,518.6 887.8,533.1 877.0,569.1 875.3,573.6 872.0,586.6 866.3,601.6 860.4,613.1 856.4,618.6 848.9,626.0 840.4,631.3 832.8,633.9 819.9,635.5 811.4,634.9 800.8,632.8 789.6,628.1 781.8,620.6 779.2,616.6 769.7,593.6 767.6,584.6 768.7,578.6 771.3,573.1 774.9,568.1 777.9,565.2 783.4,561.3 787.9,559.3 790.9,558.8 812.9,557.7 827.9,555.6 838.4,553.9 844.3,551.5 857.4,539.1 861.4,535.9 864.9,531.2 868.4,523.0 870.6,514.1 871.6,505.1 873.1,497.6 875.4,493.4 878.4,489.5ZM715.9,511.0 716.9,510.7 717.9,511.4 722.9,516.8 728.6,525.1 734.4,531.1 737.3,536.6 740.8,547.6 745.8,567.6 749.9,580.6 753.6,589.1 759.5,598.7 767.9,614.8 771.9,624.6 774.2,632.1 780.2,643.1 785.4,660.1 792.4,675.1 798.0,690.6 804.9,706.6 807.8,716.4 809.9,725.8 810.9,727.3 811.9,727.6 813.3,727.0 816.5,723.1 820.1,717.1 827.2,702.1 837.2,679.1 842.3,665.7 847.9,643.1 850.5,636.1 859.9,626.7 862.9,624.7 865.9,623.6 869.4,623.8 872.9,625.0 875.9,627.1 878.2,630.1 880.2,634.6 882.1,643.1 882.1,656.1 880.9,664.4 877.9,677.7 876.3,681.8 873.0,688.1 870.9,694.1 867.9,712.1 864.8,738.6 864.8,748.2 865.6,754.6 872.0,767.7 874.1,775.2 751.1,775.1 752.0,771.1 757.3,759.6 758.3,756.1 757.3,733.1 755.5,723.6 751.9,720.6 750.0,716.1 744.1,691.1 740.4,680.6 737.6,666.6 730.4,650.6 723.1,632.1 719.6,620.1 717.5,607.6 717.3,601.1 713.8,565.2 709.5,535.6 710.8,522.6 712.8,517.1Z'/>
<path fill='#e8b950' fill-rule='evenodd' d='M878.4,496.1 879.9,496.3 882.9,498.8 888.4,505.6 889.7,509.6 889.6,518.6 886.9,532.6 876.1,568.6 874.3,573.1 871.1,586.1 865.2,601.6 858.6,614.2 855.1,618.6 846.4,626.6 838.9,630.9 830.4,633.3 819.4,634.5 807.9,633.4 797.9,630.8 789.9,627.1 782.7,620.1 780.0,616.1 770.6,593.1 768.8,586.6 768.7,584.2 770.1,577.6 773.1,572.1 776.4,568.0 780.9,564.0 784.9,561.6 788.4,560.2 813.4,558.6 835.3,555.6 840.4,554.4 844.4,552.6 857.8,540.0 862.1,536.6 865.4,532.1 869.6,522.1 871.8,513.1 872.6,505.1 873.5,501.1 875.4,498.3ZM718.4,521.1 723.4,522.8 730.0,527.6 733.8,532.1 736.2,536.6 739.8,547.6 744.8,568.1 748.9,580.8 752.7,589.6 758.7,599.1 767.9,617.1 773.5,632.1 776.4,635.9 780.1,643.1 785.9,662.8 791.3,674.6 797.0,690.1 804.2,707.1 807.3,717.6 808.9,726.1 809.9,728.1 811.4,728.7 812.9,728.5 815.9,725.8 820.5,718.1 828.0,702.6 838.2,679.1 843.2,666.1 848.8,643.7 851.4,636.6 860.4,627.5 865.9,624.6 868.9,624.8 872.4,625.9 875.3,628.0 877.4,630.6 879.3,635.1 881.1,643.2 881.1,656.6 877.2,676.6 875.7,681.1 872.0,688.1 869.9,694.1 866.9,712.1 863.7,738.6 863.8,748.1 864.6,754.6 870.9,767.7 873.0,775.1 752.2,775.1 753.1,771.1 758.4,759.8 759.3,756.1 758.4,733.2 756.5,723.1 755.8,722.1 752.8,720.1 751.1,716.1 744.9,690.6 741.4,681.6 738.2,666.6 730.4,649.0 723.6,630.6 720.7,620.6 718.5,607.6 718.4,601.1 714.9,565.1 710.5,535.6 711.5,529.6 712.8,526.1 715.9,522.4Z'/>
<path fill='#cda84b' fill-rule='evenodd' d='M877.9,499.1 880.4,499.4 883.4,501.1 886.9,504.8 888.3,507.6 888.8,510.1 888.8,517.6 887.1,527.6 883.0,543.1 873.4,573.1 870.0,586.6 864.4,601.1 857.5,614.1 853.9,618.6 845.9,625.9 838.9,630.0 830.4,632.4 819.3,633.6 807.9,632.5 797.8,629.8 790.4,626.4 783.4,619.6 780.8,615.6 771.2,592.1 769.5,585.6 770.0,581.1 771.5,576.6 774.2,572.2 777.3,568.1 781.4,564.7 785.4,562.3 788.9,561.0 813.4,559.5 836.9,556.1 844.9,553.4 858.4,540.7 862.8,537.1 866.2,532.6 870.4,522.6 872.6,513.6 874.1,502.6 875.4,500.5ZM718.9,525.1 723.4,525.0 728.9,527.8 732.8,532.1 735.4,537.1 739.1,548.6 743.9,568.1 748.1,581.1 751.9,589.9 757.9,599.6 767.0,617.1 772.5,631.6 775.9,635.4 779.9,643.1 785.9,664.5 790.6,675.1 796.3,690.6 803.5,707.6 806.5,718.1 808.1,726.6 809.4,729.1 812.9,729.6 816.6,726.1 821.2,718.6 828.7,703.2 838.9,679.6 844.1,666.1 849.6,644.1 852.1,637.1 860.9,628.2 865.9,625.5 868.4,625.6 871.9,626.6 874.8,628.6 876.7,631.1 878.5,635.6 880.2,643.1 880.2,656.6 876.5,676.1 874.9,680.6 871.1,688.2 869.0,694.1 866.0,712.1 862.8,738.6 862.9,748.1 863.8,755.1 870.2,768.1 872.1,775.1 753.1,775.1 754.0,771.1 759.2,760.1 760.2,756.1 759.2,733.1 757.3,722.7 756.4,721.2 753.4,719.4 751.7,715.1 745.8,690.6 741.9,680.6 739.2,667.1 731.1,648.6 724.5,630.6 721.6,620.6 719.4,607.6 719.3,601.1 715.8,565.1 711.4,535.6 712.1,531.6 713.6,528.1 715.9,526.2Z'/>
<path fill='#ad9144' fill-rule='evenodd' d='M877.4,500.4 879.9,500.4 882.9,501.8 886.1,505.1 887.6,508.1 888.0,517.6 886.3,527.6 882.2,543.1 872.6,573.1 869.4,586.1 863.6,601.1 856.9,613.7 853.3,618.1 845.4,625.3 838.3,629.3 829.8,631.7 819.4,632.8 807.8,631.7 798.3,629.1 790.6,625.7 784.0,619.1 781.4,615.1 772.0,592.1 770.3,585.6 770.7,581.6 772.1,577.1 774.8,572.6 777.9,568.7 781.9,565.4 785.9,562.9 788.9,561.8 812.9,560.4 827.9,558.4 838.9,556.5 845.4,554.0 858.9,541.3 863.4,537.7 866.8,533.0 871.1,523.1 873.5,513.6 874.7,503.6 875.6,501.6ZM720.4,526.1 724.4,526.4 728.9,528.8 732.4,532.9 734.8,537.6 739.8,554.1 743.2,568.6 747.4,581.6 751.4,590.6 757.3,600.1 766.3,617.6 771.5,631.1 775.9,635.7 779.8,643.1 785.4,664.7 790.0,675.6 795.6,691.1 802.7,707.6 805.8,718.1 807.4,727.1 808.9,729.8 812.9,730.6 816.9,727.1 821.9,719.1 829.4,703.6 839.8,679.6 844.8,666.6 850.4,644.1 852.8,637.6 861.0,629.1 865.9,626.4 868.9,626.5 871.9,627.5 874.2,629.1 876.0,631.6 877.7,635.6 879.4,643.1 879.4,656.6 875.7,676.1 874.1,680.6 870.4,687.6 868.2,694.1 865.1,712.1 862.0,738.6 862.1,748.1 863.0,755.1 869.3,768.1 871.3,775.1 753.9,775.1 754.7,771.6 759.9,760.4 761.0,756.1 760.0,733.1 757.9,721.9 756.9,720.4 753.9,718.7 752.5,715.1 746.5,690.1 742.7,680.6 740.2,667.6 731.7,648.2 725.2,630.1 722.3,620.1 720.2,607.6 720.1,601.1 716.6,565.1 712.2,535.6 712.8,532.1 714.5,528.6 716.9,527.1Z'/>
<path fill='#8a7240' fill-rule='evenodd' d='M878.9,501.1 881.4,501.9 883.1,503.1 885.8,506.1 886.9,508.6 887.1,518.1 885.1,529.6 873.9,567.6 871.9,572.6 868.5,586.1 862.9,600.6 855.9,613.6 849.1,621.1 844.9,624.6 837.9,628.6 829.9,630.9 819.4,631.9 807.9,630.9 799.3,628.6 791.4,625.1 784.6,618.7 782.3,615.1 772.9,592.1 771.2,585.6 771.6,581.1 773.0,577.1 775.8,572.6 778.6,569.1 782.4,566.0 788.9,562.6 812.9,561.2 827.9,559.2 838.9,557.4 845.9,554.7 859.4,541.9 863.9,538.4 867.4,533.6 872.0,523.1 874.3,513.6 875.6,503.6 876.9,501.7ZM719.9,527.1 723.9,527.1 728.4,529.4 731.8,533.5 734.2,538.1 737.5,548.6 744.1,574.1 749.4,588.3 756.7,600.6 762.9,612.4 766.2,619.1 770.8,631.1 775.6,635.6 779.6,643.1 785.9,667.8 794.8,691.1 802.1,708.1 805.2,718.6 807.1,728.1 808.6,730.6 812.4,731.5 814.4,730.8 817.9,727.1 823.5,717.6 830.4,703.2 840.4,680.2 845.4,667.1 851.2,644.1 853.4,638.4 861.4,629.9 865.9,627.2 867.9,627.1 871.3,628.1 873.5,629.6 875.3,632.1 876.9,635.7 878.6,643.1 878.6,656.7 874.9,676.1 873.4,680.1 868.7,689.6 867.4,694.1 864.3,712.1 861.2,738.6 861.2,748.2 862.2,755.1 868.6,768.6 870.5,775.1 754.6,775.1 755.3,772.1 760.4,760.6 761.9,755.6 760.8,733.1 758.3,721.7 757.4,719.8 754.5,718.1 753.3,715.1 747.2,689.6 743.4,680.1 741.1,668.1 732.3,647.6 725.9,630.1 723.2,620.6 721.0,607.6 717.4,565.1 713.0,535.6 713.5,532.6 714.9,529.6 716.9,528.0Z'/>
<path fill='#6d573e' fill-rule='evenodd' d='M877.9,502.4 879.9,502.4 881.8,503.5 884.5,506.2 885.9,508.6 886.1,517.6 884.4,528.1 880.4,542.9 871.0,572.2 867.9,585.2 862.3,599.6 855.3,612.8 852.3,616.6 844.6,623.6 837.7,627.6 829.9,629.9 819.4,631.0 807.9,629.9 799.4,627.6 791.7,624.1 785.4,618.0 782.9,614.2 773.9,592.1 772.3,586.6 772.2,584.2 773.4,578.8 776.4,573.6 779.0,570.1 782.5,567.1 788.9,563.6 812.9,562.2 827.9,560.1 838.8,558.3 846.3,555.5 860.1,542.6 864.5,539.1 868.6,533.6 872.7,524.1 875.4,513.1 876.3,504.6ZM721.9,527.6 724.9,528.3 727.9,530.0 730.8,533.5 732.4,536.1 736.7,548.6 743.5,574.6 748.9,589.1 755.9,600.7 761.9,612.1 765.6,619.6 769.8,630.6 775.4,635.5 779.5,643.1 782.7,654.6 785.9,669.4 794.2,691.6 801.4,708.4 804.7,718.6 806.9,729.3 808.3,731.6 812.8,732.6 814.4,732.1 818.7,727.6 824.1,718.6 831.0,704.1 846.5,666.6 853.9,639.6 861.5,631.1 865.9,628.3 867.9,628.2 870.9,629.1 872.9,630.5 874.4,632.5 875.9,635.9 877.5,643.1 877.5,656.6 873.9,676.1 867.7,689.6 866.6,693.6 863.4,712.1 860.3,738.1 860.4,748.1 861.2,754.6 862.6,758.6 867.9,769.1 869.6,775.1 755.4,775.1 756.0,772.1 762.6,755.6 762.7,750.6 761.6,733.1 759.8,724.1 757.4,718.9 754.9,716.5 753.1,711.1 748.0,688.6 744.4,680.1 742.2,668.6 733.0,647.6 726.5,629.6 723.8,620.1 721.7,607.6 718.1,564.6 713.8,535.6 714.4,532.4 715.9,529.6 718.4,528.3Z'/>
<path fill='#564439' fill-rule='evenodd' d='M720.9,528.6 723.9,528.8 726.6,530.1 728.8,532.1 731.2,535.6 733.1,539.6 735.8,548.1 742.5,574.1 748.2,589.6 755.2,601.1 760.7,611.6 764.7,619.6 769.0,630.6 775.4,635.8 779.4,643.1 782.6,654.7 785.9,671.1 793.4,691.8 800.4,708.1 802.5,715.1 804.2,718.1 806.7,730.6 808.4,732.9 812.9,734.5 814.4,734.5 815.9,733.6 820.5,728.6 825.1,720.6 832.1,705.1 843.6,675.2 849.2,663.1 856.5,644.6 865.5,634.6 867.4,633.8 869.2,635.1 872.5,645.6 873.4,654.6 872.9,663.1 870.9,676.9 866.1,688.6 865.0,693.1 862.4,708.1 858.5,738.6 859.2,748.6 860.2,754.6 866.9,769.8 868.3,775.1 756.1,775.1 757.6,769.6 763.4,754.6 763.6,750.6 762.3,732.6 760.5,724.6 756.7,716.6 753.4,707.0 750.7,697.1 749.4,686.8 745.9,674.5 734.4,649.6 727.4,630.1 724.6,620.1 722.3,607.6 720.4,589.6 719.0,565.1 714.6,535.6 715.0,533.1 716.4,530.5 717.9,529.4ZM873.3,538.9 874.1,539.1 874.3,541.1 870.0,566.1 866.3,583.6 863.6,592.1 860.3,600.3 855.9,609.2 851.9,614.7 846.9,619.5 840.8,623.6 834.5,626.6 826.4,628.3 819.4,628.7 808.4,627.6 799.7,625.1 793.2,622.2 787.4,616.6 784.5,612.1 777.9,596.5 775.9,591.4 774.5,585.6 774.8,581.6 775.8,578.7 778.4,574.5 781.4,570.9 786.5,567.1 790.4,565.5 813.4,563.8 835.4,560.7 845.3,558.3 848.4,556.8Z'/>
<path fill='#544138' fill-rule='evenodd' d='M722.9,529.3 725.4,530.3 727.9,532.2 730.6,536.1 732.6,540.6 735.1,548.6 741.9,574.7 747.9,590.6 754.6,601.6 760.1,612.1 764.1,620.1 768.2,630.6 775.0,635.6 779.2,643.1 782.4,654.6 786.4,674.9 792.9,692.5 799.8,708.6 801.8,715.2 804.0,718.6 806.9,733.7 810.9,740.2 813.4,740.3 816.9,738.7 822.8,734.6 825.0,731.6 828.4,724.1 832.8,712.1 843.9,676.6 846.8,670.3 849.3,667.9 853.9,665.9 860.4,664.7 861.9,665.6 863.1,672.1 863.0,678.1 857.8,717.6 854.2,739.6 858.9,754.6 864.0,767.7 865.7,775.1 756.7,775.1 758.1,769.6 764.4,753.2 762.9,732.1 761.2,725.1 757.6,717.6 752.1,699.6 749.9,686.9 746.4,674.4 734.8,649.1 728.0,629.6 724.7,617.1 723.0,607.6 720.8,589.6 719.9,565.1 715.5,536.1 715.6,533.6 716.5,531.6 717.9,530.3ZM857.9,563.1 858.8,563.5 859.6,564.6 861.3,575.6 861.1,584.1 858.6,594.6 854.8,604.1 851.2,609.6 845.4,615.0 839.9,618.4 834.4,620.8 825.4,622.5 819.9,622.6 809.9,621.5 804.2,619.6 796.9,616.2 791.4,610.9 783.4,595.6 781.6,590.6 780.9,586.1 781.0,582.6 782.1,579.6 784.3,576.4 787.4,573.6 791.9,571.2 803.4,569.2 838.4,564.0Z'/>
<path fill='#594238' fill-rule='evenodd' d='M723.4,530.1 725.9,531.3 727.4,532.6 730.2,536.6 732.0,540.6 734.5,548.6 740.9,573.3 747.4,590.8 754.2,602.1 759.5,612.1 763.7,620.6 767.6,630.6 774.9,635.7 779.3,643.6 782.3,655.0 785.9,675.1 792.4,692.7 799.2,708.7 801.2,715.1 803.3,717.7 804.0,719.6 805.9,730.6 805.7,739.1 805.0,743.6 805.4,744.8 811.8,746.1 814.5,745.1 822.4,740.4 827.9,738.6 831.4,730.2 835.4,716.6 840.7,693.1 845.4,675.5 847.4,671.6 849.4,670.4 851.4,671.1 854.3,675.1 856.7,681.1 857.3,687.1 857.2,693.6 854.5,716.6 849.4,740.6 854.0,746.7 859.7,758.6 862.6,767.1 864.0,775.1 757.2,775.1 758.6,769.1 764.9,753.1 764.4,741.1 763.4,731.6 761.6,725.2 757.7,717.1 752.6,699.6 749.9,685.5 746.9,674.9 735.2,648.7 728.2,628.6 725.3,617.1 723.5,607.6 721.3,589.6 720.5,565.1 716.1,536.1 716.9,532.1 718.4,530.8ZM837.9,568.1 844.9,568.5 849.9,570.3 853.1,573.1 855.1,577.6 856.2,584.6 855.5,590.6 852.9,600.2 848.9,606.7 842.9,611.3 837.4,614.0 831.4,615.7 822.9,616.9 809.9,614.8 801.3,610.7 796.8,607.2 791.9,600.1 788.9,594.6 787.6,590.6 787.2,583.6 788.2,581.1 789.9,579.3 793.9,576.7 803.4,574.1 828.4,569.1Z'/>
<path fill='#61493f' fill-rule='evenodd' d='M722.9,530.4 725.4,531.5 727.3,533.1 729.7,536.6 731.6,540.6 734.0,548.6 740.8,574.6 746.9,590.7 753.8,602.1 759.6,613.1 763.5,621.1 767.4,631.1 774.8,636.0 778.9,643.1 782.1,654.6 785.6,675.6 791.9,692.5 799.0,709.1 800.8,715.1 803.2,718.1 804.0,720.6 805.6,730.6 805.0,738.6 803.7,744.6 804.2,745.7 809.6,747.1 812.5,747.1 822.4,741.5 828.6,740.1 830.7,738.6 838.1,714.1 845.9,678.1 847.4,674.8 848.9,673.2 850.4,673.7 852.5,676.1 854.9,683.6 855.5,688.1 855.5,693.6 852.9,716.1 847.1,740.1 847.9,741.6 853.1,746.6 859.2,758.6 862.1,767.6 863.3,775.1 757.6,775.1 759.2,768.6 765.4,753.1 764.9,741.1 763.8,732.1 762.0,725.1 759.8,721.6 757.7,716.1 752.6,698.1 750.4,686.4 746.9,674.1 735.6,648.6 728.6,628.7 726.5,620.6 724.0,608.1 721.9,589.6 720.9,565.1 716.5,536.1 717.4,532.3 718.4,531.3ZM834.4,572.1 840.4,572.2 845.1,573.6 848.3,575.9 850.5,579.6 851.8,585.1 851.4,592.1 849.7,599.1 846.4,604.4 841.4,608.3 835.9,610.9 830.3,612.2 822.9,613.1 815.4,612.2 811.2,611.1 805.0,607.6 800.3,603.6 796.8,598.1 793.9,591.1 793.4,585.6 793.9,584.1 795.5,582.1 801.5,578.6 807.9,576.5 820.4,573.9Z'/>
<path fill='#695147' fill-rule='evenodd' d='M719.9,531.1 722.3,530.8 724.4,531.4 726.8,533.1 729.2,536.6 731.1,540.6 733.5,548.1 740.3,574.1 746.5,590.6 753.7,602.6 759.2,613.1 763.1,621.1 767.0,631.1 774.8,636.1 778.9,643.4 781.9,654.6 785.3,675.7 791.8,693.1 798.6,709.1 800.4,715.1 802.9,718.1 803.9,721.2 805.3,730.1 804.6,738.6 803.1,744.6 803.9,746.1 809.9,747.7 812.4,747.7 815.1,746.6 822.3,742.1 828.9,740.7 832.0,739.1 839.6,714.6 847.3,680.1 849.4,676.6 850.9,676.6 851.7,677.6 853.0,681.1 854.1,687.6 853.9,696.1 851.5,715.6 849.5,725.6 845.4,740.1 852.1,746.1 855.1,751.1 859.5,760.6 861.6,767.6 862.9,775.1 758.0,775.1 759.9,767.7 765.8,753.1 765.2,741.1 764.1,731.6 762.4,725.2 760.1,721.6 758.1,716.6 753.1,698.6 750.4,685.4 747.1,674.1 735.1,646.1 729.2,629.2 726.7,620.1 724.4,608.1 722.5,589.6 721.3,565.1 716.9,536.1 717.6,532.6ZM823.9,576.6 835.8,576.3 841.4,577.6 844.4,579.3 846.7,583.1 847.6,588.6 847.6,591.6 846.3,597.6 844.4,601.1 841.5,604.2 834.3,608.0 823.4,609.7 819.4,609.6 813.4,608.4 808.9,605.9 803.5,599.6 800.5,591.6 800.2,588.6 800.7,586.1 802.8,582.6 807.4,580.0 817.4,577.5Z'/>
<path fill='#71574e' fill-rule='evenodd' d='M721.9,531.1 723.9,531.5 726.4,533.3 728.5,536.1 730.7,540.6 734.9,554.5 738.4,569.1 743.3,583.9 746.9,592.1 753.1,602.1 759.1,613.6 762.8,621.1 766.9,631.5 774.5,636.1 778.9,643.9 781.8,655.1 785.0,675.6 791.4,692.9 798.3,709.1 800.3,715.6 802.9,718.5 803.9,721.8 805.1,730.1 804.2,738.6 802.8,745.6 805.4,747.2 811.9,748.3 815.4,747.0 822.9,742.4 832.4,740.1 833.6,738.6 843.4,719.3 845.4,717.1 846.1,723.6 844.0,740.1 844.7,741.1 850.9,745.5 854.4,750.6 859.1,760.6 861.3,768.1 862.4,775.1 758.4,775.1 761.4,764.5 766.1,753.6 765.5,741.1 764.4,731.6 762.7,725.1 760.3,721.6 758.4,716.6 747.4,674.1 735.5,646.1 729.2,628.1 727.0,620.1 724.7,607.7 722.5,584.1 721.6,564.6 717.3,536.1 717.4,534.1 718.4,532.3ZM817.4,591.6 824.8,591.3 828.3,591.9 829.5,592.7 827.9,594.1 823.9,595.6 819.4,596.0 817.9,595.5 816.5,593.6 816.4,592.5Z'/>
<path fill='#795d55' fill-rule='evenodd' d='M721.4,531.6 723.4,531.8 725.9,533.4 729.9,539.7 732.9,548.8 738.0,569.1 743.3,584.6 747.1,593.1 753.0,602.6 762.1,620.1 766.4,631.2 767.4,632.4 774.4,636.4 778.4,643.2 781.5,654.6 784.7,675.6 791.1,693.1 798.0,709.1 800.0,715.6 802.6,718.6 803.7,722.1 804.8,730.1 803.9,738.6 802.3,744.7 802.6,746.2 803.9,747.0 807.4,748.1 810.9,748.8 812.9,748.5 815.9,747.2 823.3,742.6 833.0,740.6 838.4,736.5 839.9,736.1 840.9,736.9 843.5,741.2 848.7,744.1 850.9,746.2 853.9,750.7 858.8,761.1 860.9,768.3 862.0,775.1 758.8,775.1 761.9,764.1 766.5,753.6 765.9,741.1 764.6,731.6 763.0,725.1 760.4,721.3 758.5,716.1 747.6,674.1 743.2,662.6 735.7,645.6 729.6,628.6 727.3,620.1 725.1,607.6 724.8,601.2 722.9,584.1 722.0,564.6 717.8,536.1 718.4,533.0Z'/>
<path fill='#82645e' fill-rule='evenodd' d='M719.9,532.6 721.9,532.2 723.8,532.6 725.8,534.1 727.9,537.0 729.9,541.1 732.3,549.0 737.5,569.1 745.8,591.1 752.8,602.9 758.4,613.4 762.4,621.4 766.4,631.8 774.2,636.6 778.4,643.9 781.4,655.5 784.4,675.6 790.8,693.1 797.9,709.6 799.7,715.6 802.4,718.6 803.4,721.7 804.5,730.1 803.6,738.7 801.9,744.7 802.0,746.1 804.9,747.9 811.9,749.2 815.9,747.8 823.6,743.2 832.9,741.5 837.9,740.0 840.9,740.5 848.4,744.7 850.9,747.1 852.9,750.1 857.9,760.2 859.9,766.8 861.3,775.1 759.3,775.1 762.4,764.2 767.0,753.6 766.2,741.1 764.9,731.6 763.3,725.1 760.8,721.6 758.8,716.6 747.7,673.6 743.4,662.1 736.0,645.6 729.9,628.3 727.7,620.6 725.4,607.6 725.2,601.1 723.3,584.1 722.5,564.6 718.3,536.1 718.7,533.6Z'/>
<path fill='#8b6b69' fill-rule='evenodd' d='M721.9,535.6 723.4,535.9 724.8,537.1 727.9,541.9 732.9,555.4 736.7,568.6 743.7,587.1 746.7,593.6 752.4,602.6 760.8,619.0 765.9,631.6 766.9,632.9 773.9,637.0 777.9,643.9 780.9,655.3 784.1,675.6 790.5,693.1 797.6,709.6 799.6,716.1 802.3,719.1 803.4,722.8 804.3,730.1 803.3,738.6 801.4,745.1 801.6,746.6 804.4,748.5 811.4,750.1 815.9,749.0 823.3,744.7 826.9,744.0 831.9,743.6 838.8,744.1 845.4,746.3 847.3,747.6 848.8,749.6 853.8,760.6 855.9,768.6 856.6,775.1 761.5,775.1 763.9,763.9 767.9,753.6 765.1,731.1 763.6,725.2 760.9,721.2 758.9,715.8 750.6,682.6 747.0,670.6 743.8,662.2 736.4,645.5 729.9,627.3 727.9,620.1 725.7,607.6 725.6,601.1 723.7,584.1 723.4,564.6 721.2,540.1 721.3,536.6Z'/>
<path fill='#90706c' fill-rule='evenodd' d='M728.9,560.6 731.4,563.4 739.4,576.2 745.1,591.1 752.4,603.3 757.9,613.7 761.8,621.6 765.9,632.3 773.1,637.6 776.6,644.1 781.4,661.8 783.9,676.1 790.2,693.1 797.4,709.9 799.2,716.1 801.9,719.1 802.9,721.9 804.0,730.1 802.8,739.2 800.5,745.6 800.9,747.8 802.4,749.6 805.9,751.9 809.4,753.9 812.9,755.0 817.4,754.9 827.4,752.3 832.8,753.6 838.4,755.9 840.2,758.1 841.7,764.1 842.3,775.1 771.6,775.2 771.1,765.6 771.9,755.6 768.4,745.9 766.4,738.5 764.8,727.7 763.5,724.1 761.2,721.1 759.3,716.1 751.1,683.1 747.0,669.6 744.2,662.1 736.8,645.6 730.4,627.8 728.3,620.6 726.1,607.6 725.9,601.1 724.0,583.1 724.4,578.1 726.5,566.6 727.8,561.4Z'/>
<path fill='#967670' fill-rule='evenodd' d='M730.4,570.1 734.4,572.4 738.9,576.3 745.1,592.1 751.9,603.1 757.9,614.5 761.4,621.6 765.6,632.6 770.6,637.6 772.9,641.1 780.1,662.1 783.4,675.6 785.6,682.1 796.9,709.6 799.0,716.7 802.0,720.1 803.6,729.1 802.5,739.1 801.4,742.5 798.2,746.1 796.7,748.6 794.6,757.1 794.8,765.6 796.7,775.1 788.0,775.1 780.7,758.1 770.4,744.3 766.9,738.6 765.1,727.1 763.7,723.7 761.4,720.6 759.4,715.3 751.1,682.1 747.2,669.1 744.6,662.1 737.4,645.9 730.4,626.5 728.7,620.7 726.6,608.1 726.4,601.1 724.5,583.6 725.9,577.7 728.9,571.5Z'/>
<path fill='#9f7d77' fill-rule='evenodd' d='M731.4,574.5 736.9,575.9 738.9,577.4 744.6,592.1 751.4,603.2 757.4,614.6 760.9,621.6 765.3,633.3 770.5,641.1 789.5,693.7 796.4,709.6 798.5,716.6 801.2,719.6 801.9,721.2 803.2,729.6 801.4,741.3 799.9,742.8 785.4,750.0 783.9,749.9 777.9,746.6 768.9,740.0 767.4,738.2 765.5,727.1 764.2,723.6 762.0,720.6 761.6,718.6 759.8,715.1 751.6,682.1 747.6,668.6 737.9,645.9 730.4,624.9 727.0,607.6 726.9,601.2 725.0,583.6 725.4,581.6 726.4,579.8 729.4,576.0Z'/>
<path fill='#ae8786' fill-rule='evenodd' d='M732.8,577.1 736.8,577.2 738.3,578.1 744.6,593.6 750.9,603.7 759.9,621.0 773.5,655.1 781.7,674.1 789.1,694.1 795.8,710.1 798.0,717.1 801.0,720.6 802.5,729.6 801.4,738.9 800.8,740.6 799.7,741.6 784.4,743.8 779.3,742.8 773.4,740.5 769.0,738.6 767.9,737.3 766.1,726.6 765.0,723.6 763.0,720.6 762.8,718.6 760.3,714.6 752.2,682.1 748.2,668.6 738.4,645.4 729.8,620.6 727.7,607.6 727.6,601.1 725.8,583.6 726.1,582.1 727.3,580.6 730.9,577.7Z'/>
<path fill='#bf9797' fill-rule='evenodd' d='M734.4,580.5 735.9,580.4 736.9,581.0 743.5,595.6 749.9,605.1 758.9,621.6 762.4,629.4 771.7,655.6 782.7,679.1 788.1,694.2 794.9,710.8 796.7,717.6 799.9,722.1 800.9,729.6 799.6,738.1 798.4,739.6 780.4,739.0 771.2,737.1 769.4,736.0 767.6,727.1 765.4,721.1 766.7,719.1 763.4,716.9 761.4,714.4 753.0,681.1 749.2,668.6 739.4,645.2 731.4,620.8 729.4,607.1 729.5,601.1 728.3,584.6 728.6,583.6 729.7,582.6ZM780.2,716.1 776.6,717.6 779.9,717.3 781.6,716.2Z'/>
<path fill='#ceaaab' fill-rule='evenodd' d='M740.4,610.1 742.9,611.2 752.4,620.1 755.9,624.0 760.6,631.1 763.9,638.7 773.6,667.6 778.8,675.1 781.4,680.1 789.2,704.1 790.1,708.1 789.9,710.4 785.8,710.7 775.9,714.2 769.9,715.0 766.1,714.1 764.1,712.1 762.0,706.6 759.3,696.6 754.9,675.6 749.2,664.1 743.4,649.6 741.3,643.6 739.2,635.1 738.1,626.6 738.1,620.6 739.6,611.6ZM789.4,721.1 790.9,721.9 792.0,725.2 791.7,728.2 790.8,729.6 788.4,730.3 781.4,730.4 777.4,729.8 775.9,728.6 775.5,727.2 776.4,726.3 782.4,724.3Z'/>
<path fill='#dcc0c4' fill-rule='evenodd' d='M746.3,625.6 749.4,626.1 754.9,629.4 757.9,632.5 760.9,637.2 763.5,643.1 768.3,658.6 769.2,663.6 769.1,669.1 776.3,676.1 779.6,681.6 784.2,696.1 785.8,705.1 785.4,706.6 784.3,707.6 779.4,710.6 773.9,711.6 769.3,711.1 767.4,709.7 765.4,706.0 763.5,700.1 760.6,687.6 759.4,679.6 759.4,673.1 754.9,668.8 751.1,663.1 746.4,650.6 744.2,643.1 743.1,633.1 744.4,628.6Z'/>
<path fill='#e8ced5' fill-rule='evenodd' d='M749.9,632.6 752.9,632.9 755.9,634.8 759.9,639.6 761.9,643.8 764.1,651.1 766.3,661.6 765.3,665.3 762.9,667.8 758.4,667.2 755.4,665.1 752.9,661.7 750.9,656.7 748.5,649.1 747.0,642.1 746.7,637.7 747.4,634.5ZM765.9,674.6 769.4,674.8 772.4,676.3 775.9,679.6 777.9,683.2 781.6,696.1 782.3,703.1 781.3,706.1 778.4,708.3 774.9,708.7 771.4,707.7 769.4,706.0 767.9,703.2 766.5,699.1 763.9,687.1 763.1,680.6 763.9,676.7Z'/>
<path fill='#f2e1e7' fill-rule='evenodd' d='M753.4,641.5 753.9,641.3 755.4,642.3 757.4,646.1 759.3,652.1 760.5,658.6 760.5,660.1 759.8,660.8 757.9,659.6 755.9,654.9 753.9,648.0ZM770.3,682.9 771.3,683.1 772.4,684.1 773.9,687.8 776.4,698.1 776.4,701.1 775.9,702.3 774.1,701.6 772.4,697.6 769.9,685.1Z'/>
</g>
<clipPath id='clip3'><path d='M956.3,53.0 957.3,75.0 960.0,80.0 960.1,132.0 962.2,140.0 962.6,182.0 964.5,188.0 965.3,228.0 966.9,236.0 967.8,284.0 969.6,292.0 973.3,360.0 976.7,417.0 980.0,442.0 985.9,525.7 993.3,609.6 997.5,659.8 1002.6,714.0 1006.9,775.0 1179.2,775.0 1184.8,722.6 1188.2,693.3 1191.9,659.7 1194.1,628.3 1197.5,592.7 1200.1,563.4 1203.1,525.7 1208.1,483.8 1209.5,453.0 1215.3,452.0 1215.3,53.0Z'/></clipPath>
<g clip-path='url(#clip3)'><path d='M956.3,53.0 957.3,75.0 960.0,80.0 960.1,132.0 962.2,140.0 962.6,182.0 964.5,188.0 965.3,228.0 966.9,236.0 967.8,284.0 969.6,292.0 973.3,360.0 976.7,417.0 980.0,442.0 985.9,525.7 993.3,609.6 997.5,659.8 1002.6,714.0 1006.9,775.0 1179.2,775.0 1184.8,722.6 1188.2,693.3 1191.9,659.7 1194.1,628.3 1197.5,592.7 1200.1,563.4 1203.1,525.7 1208.1,483.8 1209.5,453.0 1215.3,452.0 1215.3,53.0Z' fill='#fdf3c0'/>
<path fill='#f8e8b0' fill-rule='evenodd' d='M1215.5,54.0 1215.5,257.1 1199.5,254.3 1183.5,253.1 1174.5,251.4 1167.8,247.7 1163.0,241.0 1157.0,228.1 1154.6,220.2 1151.0,186.7 1149.5,155.7 1149.5,143.7 1151.1,128.7 1154.1,121.2 1158.7,112.6 1164.2,89.2 1166.2,82.7 1168.2,78.7 1171.0,74.5 1176.2,69.2 1182.5,65.3 1197.0,58.2 1206.5,55.4ZM1157.5,441.6 1164.5,442.3 1168.0,443.3 1171.5,445.6 1172.9,448.6 1173.2,453.1 1172.6,459.6 1167.0,489.1 1163.7,503.6 1152.1,544.6 1145.1,578.6 1143.1,586.1 1139.0,591.9 1132.0,606.6 1127.0,614.9 1123.5,618.3 1119.5,618.5 1116.9,617.1 1113.8,614.1 1108.0,605.6 1105.1,603.1 1104.5,601.6 1102.0,567.6 1101.9,555.6 1102.6,549.1 1105.1,535.6 1109.6,522.1 1112.5,516.6 1118.7,508.1 1121.0,503.6 1121.9,499.6 1122.0,486.1 1123.2,482.6 1127.4,478.1 1136.0,473.8 1138.2,471.1 1138.9,468.1 1139.6,453.6 1141.7,447.6 1144.0,445.2 1147.5,443.4 1151.5,442.3ZM989.5,464.1 990.7,464.6 993.3,469.1 996.7,481.6 1000.0,488.6 1004.3,500.1 1013.2,531.1 1023.5,563.2 1028.0,585.1 1028.9,586.6 1031.5,588.6 1032.5,590.4 1035.3,604.6 1039.5,618.1 1047.6,637.1 1055.5,651.2 1060.3,663.6 1071.5,689.1 1072.9,699.1 1071.0,712.1 1068.7,716.6 1067.0,718.8 1063.5,721.4 1058.0,724.0 1052.5,724.6 1047.0,723.5 1043.5,721.8 1039.3,718.2 1023.6,697.6 1006.0,678.6 1002.7,671.6 1002.0,663.0 1000.0,662.9 979.5,667.6 972.0,668.6 959.0,669.6 951.0,668.1 951.0,475.6 959.0,475.5 973.5,473.0 978.0,470.5 984.5,464.9ZM1148.5,745.1 1154.0,744.9 1160.5,746.2 1170.0,749.3 1173.0,751.2 1173.5,752.7 1173.7,757.1 1174.9,763.1 1171.8,768.1 1171.0,775.1 1136.5,775.1 1135.0,768.1 1129.5,762.3 1128.0,759.6 1127.5,753.6 1128.2,750.1 1129.1,748.6 1130.9,747.7 1141.5,746.7Z'/>
<path fill='#f8dea6' fill-rule='evenodd' d='M1215.5,58.0 1215.5,249.8 1197.5,247.0 1185.5,246.0 1177.0,244.2 1172.5,241.7 1168.5,236.2 1161.2,220.7 1158.5,206.4 1155.8,185.7 1154.1,154.2 1154.2,144.7 1155.7,130.2 1158.5,123.0 1162.8,114.7 1169.5,86.3 1171.0,82.4 1174.0,77.4 1179.5,71.7 1196.6,62.7 1207.7,59.1ZM1158.0,444.1 1164.0,444.8 1167.0,445.7 1170.4,448.1 1171.6,450.6 1171.9,453.6 1171.5,459.6 1166.7,484.6 1163.3,499.1 1150.7,545.1 1143.3,578.6 1141.2,586.1 1127.0,612.5 1123.5,615.5 1120.5,616.0 1118.0,614.7 1115.0,611.6 1107.6,600.1 1106.5,597.1 1104.5,566.6 1104.5,556.1 1105.1,550.1 1107.6,536.1 1112.3,522.6 1115.2,517.1 1121.2,509.1 1123.5,504.3 1124.4,500.1 1124.5,487.1 1125.3,484.1 1129.5,479.9 1138.5,475.2 1140.5,472.3 1141.2,469.1 1142.0,454.6 1143.8,449.1 1145.5,447.3 1149.0,445.6ZM986.5,466.5 987.5,466.2 988.7,466.6 991.0,470.6 994.2,482.6 997.8,490.1 1004.7,508.6 1016.2,549.1 1021.3,564.6 1027.5,593.9 1028.0,594.6 1029.6,591.1 1030.5,590.6 1031.0,590.9 1032.0,593.6 1034.1,605.6 1044.6,637.2 1053.0,651.9 1057.9,664.6 1068.8,689.6 1070.3,698.6 1068.5,711.1 1065.4,716.6 1062.0,719.2 1057.5,721.3 1053.0,722.0 1048.0,721.0 1045.1,719.6 1041.5,716.6 1025.7,696.1 1008.1,677.1 1005.1,670.6 1005.1,662.1 1004.5,660.9 1001.4,660.6 979.0,665.9 971.5,666.9 959.5,667.5 951.0,665.7 951.0,482.8 955.0,482.4 964.0,483.2 966.5,482.8 973.5,477.6ZM1149.0,747.4 1152.5,748.0 1170.5,753.6 1172.4,758.1 1172.8,761.6 1169.5,767.5 1168.5,775.1 1139.2,775.1 1137.2,767.1 1131.6,761.1 1130.4,759.1 1129.8,756.7 1129.9,752.6 1131.0,750.1 1133.0,748.7Z'/>
<path fill='#f8d49c' fill-rule='evenodd' d='M1215.5,64.3 1215.4,203.9 1209.0,202.4 1199.0,198.0 1189.0,192.3 1181.9,187.2 1178.2,182.2 1175.3,175.2 1173.6,160.7 1173.6,133.7 1178.5,107.7 1179.2,91.2 1180.3,85.2 1181.8,80.7 1182.9,78.7 1186.5,75.2 1193.0,70.9 1202.0,67.3ZM1154.0,447.6 1159.0,447.2 1165.0,448.4 1168.0,450.4 1169.5,453.3 1169.9,459.6 1165.6,484.1 1149.4,545.6 1139.7,587.1 1135.0,596.7 1127.4,608.3 1124.7,611.1 1120.9,612.3 1117.5,610.2 1113.0,604.8 1110.4,599.6 1108.8,594.6 1108.1,583.1 1108.0,557.1 1110.0,541.6 1111.7,534.1 1114.6,526.1 1118.1,519.1 1123.3,511.1 1125.7,505.6 1126.8,501.1 1127.5,488.6 1128.4,485.6 1131.0,482.6 1138.0,478.5 1140.5,476.1 1142.6,471.1 1144.0,456.5 1145.2,452.6 1146.5,450.6 1148.0,449.4ZM983.5,473.6 985.0,474.3 989.4,483.6 995.0,491.9 999.7,501.6 1013.6,550.6 1018.4,565.6 1022.1,582.1 1024.5,588.5 1026.2,597.6 1027.5,599.5 1030.0,599.1 1031.0,600.4 1040.2,638.6 1048.6,653.1 1052.1,660.6 1062.6,689.7 1063.3,698.1 1061.4,707.1 1059.1,711.1 1054.5,713.8 1050.5,714.0 1047.0,712.8 1042.5,709.7 1036.4,704.3 1012.5,676.1 1008.4,669.1 1006.7,662.1 1005.3,660.2 1001.5,659.9 979.0,665.1 971.0,666.2 959.5,666.6 951.0,664.6 951.0,485.8 960.5,485.9 968.0,485.1 980.5,475.3ZM1134.5,749.5 1145.0,749.5 1170.0,757.4 1170.9,759.1 1171.1,761.6 1168.1,766.6 1166.9,775.1 1140.9,775.1 1138.7,766.6 1132.8,760.1 1131.5,757.6 1131.7,752.1 1132.5,750.6Z'/>
<path fill='#f8c993' fill-rule='evenodd' d='M1215.5,65.5 1215.5,202.6 1209.2,201.2 1198.0,196.2 1189.5,191.2 1182.7,186.2 1179.0,181.0 1176.5,174.8 1174.8,160.7 1174.9,133.7 1179.7,107.7 1180.4,91.2 1181.5,85.5 1183.0,80.9 1187.1,76.2 1194.1,71.7 1203.2,68.2ZM1155.9,452.6 1160.5,452.7 1163.5,453.9 1165.6,456.6 1166.9,460.1 1166.2,474.1 1162.6,492.6 1148.3,545.6 1138.4,587.1 1134.0,596.4 1130.5,601.1 1126.0,604.8 1123.0,606.1 1120.5,606.0 1117.0,604.3 1114.4,601.6 1113.1,598.1 1112.6,593.1 1112.5,588.6 1114.3,567.6 1114.3,556.1 1115.0,546.6 1116.7,538.1 1118.5,532.4 1128.0,512.6 1130.5,503.1 1133.3,488.6 1135.6,485.6 1141.5,480.6 1143.5,477.3 1144.7,472.6 1145.3,464.1 1146.9,458.1 1150.5,454.1ZM975.5,483.6 977.0,484.1 992.5,497.4 994.6,500.1 996.3,503.6 1005.7,537.6 1010.6,558.6 1015.3,574.1 1017.8,587.1 1018.5,588.2 1021.5,588.7 1022.9,590.1 1025.0,599.1 1028.3,607.6 1029.3,614.6 1030.1,627.1 1032.6,641.6 1035.3,647.1 1042.6,658.1 1045.1,663.1 1051.0,680.1 1052.0,688.1 1051.3,694.6 1050.0,697.3 1047.0,698.9 1043.5,699.5 1040.5,698.9 1034.8,694.6 1022.1,679.1 1015.0,665.6 1010.9,662.1 1005.5,659.4 1001.0,659.3 978.5,664.5 971.0,665.6 960.5,665.9 951.0,663.6 951.0,489.1 956.0,490.6 957.4,490.5 965.5,487.2 970.5,486.3ZM1136.4,750.6 1142.0,751.0 1168.4,759.6 1169.0,761.6 1166.1,766.6 1165.0,775.1 1142.9,775.1 1140.3,765.6 1134.5,759.1 1133.5,757.3 1133.6,752.6 1134.5,751.5Z'/>
<path fill='#f8be8a' fill-rule='evenodd' d='M1155.0,456.1 1158.0,455.8 1160.5,456.2 1163.0,458.0 1164.5,460.6 1164.6,474.6 1163.0,484.7 1151.3,526.6 1136.3,587.1 1133.6,592.1 1131.5,597.6 1130.0,599.6 1123.6,602.6 1120.0,602.9 1117.5,601.7 1115.8,599.6 1115.2,597.1 1115.1,590.6 1117.9,568.6 1118.6,547.6 1120.5,538.1 1121.5,534.6 1130.3,515.6 1136.5,490.2 1139.3,486.1 1143.6,482.1 1145.2,479.1 1146.6,473.6 1146.9,466.2 1148.4,460.1 1151.0,457.5ZM968.0,488.6 970.0,488.2 972.0,488.7 990.5,499.5 992.2,501.1 994.0,504.1 996.2,513.7 1003.3,537.6 1007.8,559.6 1013.7,579.6 1017.0,597.0 1018.0,597.6 1020.0,592.4 1021.0,591.3 1022.0,592.0 1022.7,594.1 1025.7,610.1 1026.3,615.6 1026.4,628.6 1028.0,643.1 1031.4,650.2 1039.0,660.9 1041.0,664.8 1043.5,671.1 1046.0,679.7 1046.5,682.6 1046.3,687.6 1044.5,692.6 1042.0,694.9 1040.0,694.5 1036.0,691.5 1026.2,679.1 1024.3,676.1 1022.5,670.6 1019.2,664.1 1016.5,662.0 1012.5,660.2 1005.0,658.4 1001.5,658.4 976.2,664.1 963.5,665.3 959.5,664.8 951.0,662.5 951.0,491.4 955.5,492.7 957.5,492.8Z'/>
<path fill='#f8b382' fill-rule='evenodd' d='M963.5,493.1 966.0,492.9 969.0,494.0 988.5,504.5 989.9,506.6 998.5,526.3 1001.6,537.6 1006.1,560.1 1010.5,575.6 1016.0,598.6 1017.0,600.2 1018.0,600.6 1021.0,598.8 1022.5,602.6 1024.3,616.1 1025.3,644.1 1027.3,652.6 1032.3,665.6 1032.5,669.7 1023.5,660.1 1018.8,657.6 1012.5,655.9 1000.5,655.6 977.5,660.4 969.5,661.3 962.5,661.4 951.0,658.6 951.0,493.9 957.0,495.0Z'/>
<path fill='#f8a87c' fill-rule='evenodd' d='M959.0,500.9 964.5,502.4 981.5,509.6 994.5,524.4 997.5,529.4 999.1,534.6 1000.7,546.6 1003.4,559.6 1009.3,584.1 1012.0,589.0 1015.2,600.6 1016.5,602.6 1019.0,604.6 1019.9,606.6 1021.9,621.1 1022.1,633.2 1020.8,642.1 1018.5,647.7 1017.1,649.1 1000.0,649.5 984.0,652.5 968.5,654.1 962.5,654.1 950.9,651.8 951.0,500.8Z'/>
<path fill='#f89d76' fill-rule='evenodd' d='M957.0,510.9 963.5,512.0 974.9,515.6 992.5,526.8 994.5,528.6 996.0,531.1 997.2,535.1 998.2,547.1 1006.5,586.6 1007.1,588.1 1009.5,589.2 1010.3,590.6 1013.9,602.1 1016.4,607.1 1017.8,613.6 1019.2,622.6 1019.2,633.1 1017.7,638.6 1016.5,640.1 1014.5,641.3 1010.0,642.8 999.5,643.4 988.4,645.3 975.5,646.8 961.0,646.8 951.0,644.8 951.0,511.2Z'/>
<path fill='#f89271' fill-rule='evenodd' d='M960.0,524.3 966.4,525.5 973.5,527.7 985.0,532.4 988.0,533.9 989.2,535.1 989.7,537.1 990.4,549.1 1000.0,600.1 1001.6,603.1 1003.5,604.5 1006.5,605.6 1008.0,608.1 1011.2,624.6 1011.2,630.1 1010.3,631.6 985.5,634.9 973.0,636.0 962.5,635.9 951.0,633.5 951.0,524.8Z'/>
<path fill='#f4f0b4' fill-rule='evenodd' d='M989.3,52.6 990.3,53.6 1004.0,57.9 1007.9,59.9 1012.5,63.2 1017.5,68.7 1020.6,74.7 1022.4,81.7 1023.5,90.2 1023.0,114.7 1021.8,122.2 1015.8,148.2 1014.6,155.7 1014.6,159.7 1018.5,189.1 1018.5,206.2 1016.3,225.7 1018.8,230.6 1020.9,242.2 1023.0,263.1 1023.0,274.1 1021.9,284.6 1018.7,300.6 1016.6,314.6 1014.6,341.1 1014.6,357.1 1016.2,378.1 1018.7,397.1 1020.6,406.6 1024.3,417.1 1028.0,418.8 1029.3,420.6 1029.3,422.6 1028.1,428.1 1031.2,433.1 1032.8,437.6 1034.2,452.6 1036.3,465.6 1044.4,494.1 1049.5,505.1 1058.7,522.1 1065.2,535.6 1072.3,571.6 1074.2,586.6 1075.4,589.6 1075.5,599.1 1075.0,607.6 1073.9,618.6 1072.8,623.1 1068.5,631.2 1065.5,633.9 1060.5,636.1 1057.5,636.0 1054.4,634.9 1049.5,630.6 1045.1,624.1 1040.7,614.1 1037.4,603.6 1034.5,588.6 1031.5,582.6 1026.7,561.6 1016.0,530.1 1012.4,517.6 1006.5,491.6 1003.1,473.6 998.5,455.9 997.5,455.3 996.0,455.6 990.6,459.6 985.0,460.9 983.0,460.7 971.5,456.9 951.0,459.3 951.0,52.6ZM1215.4,379.6 1215.5,759.2 1202.0,762.2 1180.4,760.6 1179.0,759.6 1177.0,756.7 1176.6,751.6 1175.7,749.6 1172.4,747.4 1168.0,745.6 1160.5,743.2 1152.0,741.9 1146.5,742.6 1139.5,744.7 1128.5,744.3 1107.0,735.2 1110.4,742.7 1111.0,746.6 1111.0,750.6 1109.8,758.2 1107.3,763.6 1105.9,765.1 1104.0,766.2 1093.0,768.0 1085.5,771.0 1082.5,770.8 1080.0,769.5 1077.5,767.1 1073.8,759.6 1071.9,746.6 1072.1,740.7 1078.6,725.6 1080.9,723.4 1085.0,721.6 1088.5,721.1 1091.2,721.6 1095.0,725.1 1099.0,730.4 1100.5,731.3 1101.7,731.1 1100.0,722.1 1100.1,718.7 1102.3,710.1 1110.5,690.5 1111.8,684.6 1111.9,671.2 1112.5,667.1 1120.4,638.1 1126.8,621.1 1134.1,607.6 1140.0,594.0 1141.5,592.9 1144.5,595.2 1145.5,593.7 1151.3,567.1 1155.0,543.1 1163.7,515.1 1167.6,500.1 1171.3,477.6 1175.0,460.1 1175.9,452.2 1175.7,444.1 1176.7,437.1 1178.2,431.1 1180.7,424.6 1186.8,417.1 1186.4,416.2 1181.5,412.7 1178.6,409.6 1177.5,407.1 1177.6,404.6 1180.5,401.1 1188.0,395.9 1196.5,388.9 1207.0,382.4ZM1037.0,728.1 1040.0,728.2 1041.9,729.1 1045.0,732.1 1047.9,736.1 1050.9,742.1 1051.0,746.1 1050.2,749.6 1047.2,756.6 1044.1,761.6 1041.5,770.6 1039.6,775.1 1023.2,775.1 1023.0,774.1 1018.0,768.6 1017.0,766.6 1016.2,758.1 1014.4,752.1 1014.7,740.6 1016.6,736.6 1019.5,734.0 1026.0,732.2 1030.5,730.0Z'/>
<path fill='#e8f0af' fill-rule='evenodd' d='M982.0,52.6 982.6,54.1 985.0,55.5 995.0,57.7 1003.4,60.6 1007.0,62.4 1011.3,65.7 1015.5,70.3 1018.2,75.7 1019.9,82.2 1021.0,90.7 1020.4,114.2 1019.3,121.7 1013.6,145.7 1012.0,156.2 1012.1,162.6 1016.0,189.7 1016.0,205.7 1013.5,227.2 1013.7,228.2 1016.0,230.4 1017.4,236.2 1018.9,247.1 1020.5,264.6 1019.9,280.1 1016.2,299.6 1014.1,313.6 1012.1,340.1 1012.0,357.6 1013.1,372.6 1017.2,403.6 1021.9,418.6 1023.1,420.1 1026.0,421.0 1026.5,421.6 1024.9,428.6 1028.5,433.6 1030.3,438.1 1032.2,457.6 1033.9,466.6 1036.7,477.6 1043.5,498.6 1062.5,535.6 1069.9,572.6 1071.7,587.6 1073.0,591.6 1073.0,599.1 1071.4,618.1 1070.0,623.1 1067.0,629.0 1064.1,631.6 1060.0,633.5 1057.5,633.3 1054.1,631.6 1049.5,627.1 1047.0,623.8 1043.5,616.9 1038.8,603.7 1035.5,588.1 1033.8,583.1 1029.0,562.2 1017.2,529.6 1013.7,517.6 1005.0,473.3 1000.0,452.9 999.0,452.3 995.5,453.0 989.0,457.8 985.5,458.4 962.0,450.6 958.5,450.3 951.0,450.8 951.0,52.6ZM1215.5,382.2 1215.5,756.5 1203.0,759.5 1200.0,759.7 1181.0,757.9 1179.9,756.6 1178.2,750.1 1176.5,748.1 1172.0,745.5 1161.5,741.9 1155.0,740.5 1149.9,740.2 1144.9,740.9 1138.5,742.6 1134.0,742.8 1131.0,742.6 1126.9,741.1 1112.2,734.6 1105.0,729.9 1103.6,727.6 1102.4,720.7 1104.7,711.1 1112.0,694.1 1113.2,690.2 1114.3,685.1 1114.4,671.6 1115.0,667.6 1118.0,655.6 1123.9,635.6 1130.8,617.1 1135.9,608.1 1140.0,599.0 1141.5,597.8 1143.3,599.6 1144.5,600.1 1145.5,599.6 1146.2,598.1 1152.7,567.6 1156.6,543.6 1169.3,501.1 1176.5,460.6 1177.9,446.2 1179.5,436.7 1180.9,431.1 1183.4,425.1 1191.5,416.6 1190.8,415.1 1185.8,412.6 1182.5,410.1 1180.4,407.6 1180.2,405.6 1182.1,403.1 1189.5,398.0 1198.0,391.0 1207.5,385.1ZM1087.0,723.6 1089.5,723.6 1091.0,724.5 1097.1,732.1 1102.5,735.6 1105.0,738.1 1108.3,744.1 1108.6,749.6 1107.3,758.1 1105.7,761.6 1104.5,763.2 1102.0,764.1 1092.1,765.7 1085.9,768.3 1084.0,768.6 1082.0,767.9 1079.9,766.1 1076.2,759.1 1075.3,754.6 1074.3,742.6 1075.0,739.6 1077.9,734.2 1080.5,727.1 1082.5,725.4ZM1037.0,730.6 1039.0,730.5 1040.5,731.1 1045.3,736.6 1048.4,742.1 1048.3,747.1 1046.2,753.1 1041.8,760.7 1039.3,769.6 1038.0,772.1 1036.0,774.1 1035.7,775.1 1027.0,775.1 1026.3,773.6 1022.9,770.7 1019.4,766.1 1018.6,757.6 1016.8,751.6 1017.0,741.6 1018.5,738.1 1021.0,735.9 1027.0,734.4 1031.5,732.2Z'/>
<path fill='#dcf0aa' fill-rule='evenodd' d='M971.1,52.7 971.7,55.1 973.2,57.6 979.5,63.1 997.0,71.0 1003.1,75.7 1006.3,80.7 1009.2,92.2 1010.0,110.7 1009.7,116.2 1005.0,145.2 1004.0,154.2 1004.0,164.6 1006.6,190.6 1006.6,198.7 1002.9,239.2 1004.2,244.1 1008.4,249.7 1010.2,271.1 1009.3,284.6 1005.6,311.6 1003.7,338.6 1003.6,358.1 1005.0,380.1 1007.4,400.6 1009.5,410.1 1012.1,416.6 1018.0,425.6 1018.4,429.6 1019.2,431.6 1023.0,435.6 1024.6,438.6 1030.7,467.6 1037.4,489.6 1041.5,500.1 1055.3,528.1 1058.7,536.1 1059.8,540.1 1065.7,574.1 1068.4,594.6 1067.4,605.1 1064.8,616.1 1062.5,621.1 1059.5,624.5 1058.0,624.4 1055.0,622.6 1046.0,614.5 1044.0,611.5 1039.6,601.6 1029.5,560.6 1017.7,529.1 1014.3,517.1 1005.5,472.6 1000.5,450.8 999.0,449.9 993.0,449.9 985.0,453.2 982.0,453.8 961.5,448.0 951.0,447.7 951.0,52.6ZM1214.5,394.5 1215.5,394.5 1215.5,751.8 1200.5,754.2 1182.9,752.4 1180.0,748.0 1176.5,745.2 1172.0,743.1 1161.5,739.6 1155.5,738.3 1150.0,737.8 1141.0,738.8 1138.0,738.5 1113.8,728.1 1110.0,725.7 1109.5,723.1 1110.8,712.6 1117.0,695.1 1118.8,688.1 1119.8,669.1 1127.2,639.6 1132.6,624.1 1135.3,614.6 1139.8,604.6 1141.0,603.3 1145.5,602.4 1147.7,599.1 1154.5,568.1 1158.5,544.6 1170.9,504.1 1175.9,478.1 1185.2,438.6 1189.5,428.6 1199.0,419.1 1201.3,415.6 1201.7,413.1 1201.3,410.6 1200.0,408.1 1197.7,405.6 1197.8,404.6 1204.0,399.7ZM1086.5,725.6 1088.5,725.4 1090.0,726.2 1095.5,733.2 1101.0,736.8 1103.4,739.1 1106.3,744.1 1106.8,749.1 1105.5,757.6 1103.5,761.4 1101.5,762.3 1091.5,763.9 1084.5,766.6 1082.7,766.1 1081.1,764.6 1077.9,758.1 1076.1,743.1 1076.8,740.1 1079.5,735.1 1081.9,728.5 1083.5,727.0ZM1036.5,732.6 1039.1,732.7 1041.8,735.2 1046.3,742.1 1046.7,745.6 1044.9,751.6 1040.0,760.1 1037.0,770.4 1034.5,772.7 1030.5,773.5 1028.5,772.8 1024.7,769.6 1021.3,765.6 1020.6,762.6 1020.4,757.1 1018.6,751.1 1018.7,742.6 1019.8,739.6 1021.5,737.9 1027.7,736.1 1032.0,734.0Z'/>
<path fill='#cff0a1' fill-rule='evenodd' d='M955.5,63.3 964.5,69.6 986.8,90.7 988.6,94.7 990.7,102.2 992.3,114.7 992.5,121.7 990.7,150.7 990.4,165.7 990.7,197.7 987.2,234.7 988.1,244.7 991.6,258.6 992.6,267.1 993.0,277.6 991.2,317.1 989.8,335.6 989.4,357.6 990.5,379.1 993.2,407.6 994.0,412.6 998.0,420.7 998.8,426.1 998.0,428.3 994.5,431.6 990.5,434.2 984.0,436.5 973.5,446.4 971.5,447.3 962.0,445.7 955.0,446.5 951.0,446.0 951.0,61.5ZM1214.0,419.5 1215.5,419.2 1215.5,744.5 1209.0,745.6 1200.5,745.7 1188.5,744.4 1179.0,742.3 1154.4,734.1 1136.0,726.7 1127.5,722.6 1123.4,719.6 1121.8,716.6 1121.0,710.6 1122.6,702.1 1126.1,689.6 1127.8,667.6 1133.1,642.1 1143.2,607.6 1143.7,606.6 1147.0,604.1 1149.0,599.9 1154.8,576.1 1160.0,551.8 1165.0,533.1 1179.4,492.1 1189.9,454.1 1193.5,443.6 1198.7,434.6 1209.7,422.6ZM1004.0,431.6 1007.0,432.7 1010.0,434.6 1016.5,442.1 1024.6,463.6 1030.9,482.6 1045.7,514.6 1052.6,533.6 1055.9,548.6 1060.3,583.6 1061.0,594.1 1060.5,599.1 1059.6,602.6 1057.5,606.3 1055.5,608.1 1051.0,608.2 1047.5,607.1 1043.0,604.1 1040.6,600.6 1038.8,595.6 1029.9,560.3 1018.1,528.6 1014.3,515.1 1006.1,473.1 1003.4,462.6 999.2,442.1 999.2,438.6 1000.4,434.6 1002.0,432.5ZM1086.5,727.5 1088.0,727.4 1089.4,728.1 1094.3,734.6 1100.0,738.3 1101.9,740.1 1104.6,744.6 1105.0,749.1 1103.7,757.1 1102.0,760.1 1091.5,762.1 1084.5,764.7 1083.1,764.1 1082.0,762.8 1079.6,757.6 1077.9,743.1 1078.5,740.8 1081.2,735.6 1083.4,729.6ZM1036.0,734.6 1038.5,734.5 1040.3,736.1 1044.5,742.4 1044.9,745.6 1043.2,751.1 1038.5,759.1 1035.5,769.3 1033.5,771.1 1030.5,771.5 1025.7,768.1 1022.8,764.1 1022.3,757.1 1020.5,751.1 1020.6,742.6 1021.3,740.7 1022.5,739.5 1028.5,737.8Z'/>
<path fill='#c2f096' fill-rule='evenodd' d='M956.5,77.8 958.5,79.2 964.8,87.2 974.2,101.7 977.2,108.2 980.1,123.2 980.7,130.7 980.6,160.2 978.1,203.2 974.9,234.7 979.1,268.1 980.7,289.1 980.6,315.1 979.7,323.6 978.7,343.1 978.7,359.6 979.7,381.1 982.8,420.1 983.5,421.4 986.4,422.5 987.3,424.1 987.1,425.1 986.0,426.4 984.4,426.7 982.0,426.1 980.2,427.1 964.0,443.4 955.0,445.3 951.0,444.8 951.0,76.1ZM1215.5,428.4 1215.5,739.4 1209.0,741.1 1188.5,738.4 1167.5,732.0 1139.5,720.5 1131.5,716.5 1128.1,712.1 1127.0,708.1 1127.7,702.6 1130.9,691.1 1132.5,668.1 1136.7,644.1 1142.8,621.2 1149.8,599.6 1168.7,533.6 1184.0,495.0 1191.2,467.1 1194.2,457.6 1197.2,450.1 1198.6,447.1 1202.4,442.1 1213.0,429.6ZM1005.5,440.5 1008.0,440.9 1010.1,443.1 1014.2,449.6 1021.1,463.1 1029.0,483.5 1043.9,514.1 1049.1,530.1 1052.8,549.1 1055.0,575.4 1056.4,586.6 1056.4,593.1 1055.6,598.6 1053.5,601.5 1049.5,603.7 1047.5,603.8 1043.5,602.5 1041.6,600.6 1040.1,597.6 1030.5,560.6 1018.7,529.1 1015.3,517.6 1002.0,452.6 1001.6,448.6 1002.1,444.6 1003.3,442.1ZM1088.0,740.0 1089.0,740.1 1095.5,743.7 1097.0,745.2 1097.9,748.1 1097.0,751.7 1096.0,753.1 1089.0,753.9 1087.6,753.1 1086.0,744.1 1087.0,741.3Z'/>
<path fill='#b4f08b' fill-rule='evenodd' d='M956.0,79.6 957.2,80.7 963.0,87.7 973.0,103.4 975.0,107.7 976.5,113.5 978.3,123.7 978.8,130.7 978.8,159.7 976.8,195.7 973.8,227.7 972.4,231.2 972.0,234.7 972.5,239.7 974.2,244.2 977.3,268.6 978.8,289.1 978.8,314.6 976.9,342.1 976.9,359.6 979.5,404.6 981.7,423.6 977.5,427.3 963.5,441.8 961.5,442.9 958.4,443.2 951.0,443.0 951.0,78.0ZM984.0,423.9 984.5,423.7 985.1,424.1 984.5,424.7ZM1215.5,429.5 1215.5,738.5 1209.0,740.2 1189.0,737.6 1167.4,730.9 1139.5,719.4 1132.5,715.9 1130.9,714.7 1129.0,711.6 1127.9,708.1 1128.7,702.6 1131.7,691.6 1133.9,664.6 1137.8,643.6 1143.7,621.1 1153.5,589.6 1159.2,569.1 1161.5,563.1 1169.8,533.1 1185.0,494.6 1192.1,467.1 1195.3,457.1 1198.2,450.1 1202.8,443.1 1213.9,430.1ZM1181.8,706.1 1180.8,708.1 1180.9,710.1 1185.0,715.9 1186.5,716.2 1187.4,714.6 1187.7,712.1 1187.0,708.3 1185.0,706.4 1183.0,705.8ZM1005.5,441.4 1007.5,441.7 1010.1,444.6 1020.7,464.1 1028.0,483.2 1043.1,514.1 1048.3,530.1 1051.9,549.1 1054.1,575.6 1055.5,586.1 1055.5,593.1 1054.6,598.6 1053.0,600.7 1049.0,603.0 1046.5,602.7 1043.5,601.6 1042.0,600.0 1040.5,597.0 1031.0,560.6 1019.0,528.7 1015.8,517.6 1002.4,452.6 1002.2,448.6 1002.8,445.2 1003.9,442.6Z'/>
<path fill='#a6ee80' fill-rule='evenodd' d='M1215.0,430.4 1215.5,430.4 1215.5,737.7 1209.0,739.5 1189.0,736.8 1168.0,730.3 1139.5,718.6 1132.6,715.2 1129.5,711.0 1128.6,708.1 1129.4,702.6 1132.4,691.6 1134.6,664.6 1138.5,643.7 1144.2,621.6 1154.2,589.6 1159.9,569.1 1162.2,563.1 1170.5,533.3 1185.7,494.6 1192.8,467.1 1196.0,457.4 1198.9,450.1 1203.5,443.4ZM1183.1,694.6 1181.0,697.9 1179.4,702.1 1178.2,710.1 1178.9,711.6 1181.8,714.6 1185.0,719.9 1186.5,720.8 1187.4,719.7 1189.4,714.6 1189.9,711.1 1189.4,706.1 1186.0,695.4 1185.0,694.2ZM1006.0,442.1 1008.0,443.0 1010.5,446.5 1020.0,464.3 1027.4,483.6 1042.5,514.5 1047.6,530.1 1051.2,549.1 1053.4,575.6 1054.8,586.1 1054.8,592.6 1054.0,598.1 1052.5,600.2 1049.0,602.2 1047.0,602.2 1044.0,601.1 1042.5,599.6 1041.0,596.7 1031.2,559.6 1019.5,528.7 1016.0,516.4 1002.9,452.6 1002.8,449.1 1003.5,445.4 1004.5,443.1Z'/>
<path fill='#98eb75' fill-rule='evenodd' d='M1214.4,432.1 1215.5,431.7 1215.5,736.7 1209.0,738.5 1189.5,735.9 1168.9,729.6 1139.7,717.6 1133.7,714.6 1131.5,712.5 1130.0,709.9 1129.6,708.1 1130.5,702.2 1133.3,692.1 1133.9,687.7 1133.9,679.1 1135.5,664.4 1139.5,643.1 1145.0,622.1 1155.2,589.1 1160.5,570.0 1163.2,562.6 1171.0,534.4 1186.3,495.1 1193.5,467.8 1198.0,454.6 1201.5,447.5ZM1185.7,690.6 1182.0,692.3 1180.4,694.1 1178.6,698.1 1177.4,702.6 1176.5,710.1 1177.0,712.1 1180.5,715.8 1183.6,722.1 1185.0,723.7 1186.5,724.2 1188.0,723.3 1188.9,721.6 1190.7,715.6 1191.5,711.1 1191.0,705.1 1188.0,692.1 1187.0,690.7ZM1006.0,443.4 1007.5,444.1 1010.0,447.8 1019.0,464.8 1026.2,483.6 1041.5,514.8 1046.5,530.1 1050.1,549.7 1052.3,575.6 1053.7,586.1 1053.7,592.6 1052.9,597.9 1051.4,599.6 1048.6,601.1 1044.4,600.1 1042.0,596.4 1032.3,559.6 1020.5,528.8 1016.9,516.7 1008.2,472.1 1005.5,461.4 1004.0,452.9 1003.9,449.1 1004.5,445.8Z'/>
<path fill='#8ae86a' fill-rule='evenodd' d='M1214.4,440.9 1215.5,440.8 1215.5,729.3 1208.0,730.4 1194.5,728.7 1190.8,727.7 1190.6,726.6 1192.9,717.1 1193.2,711.6 1192.6,705.6 1189.5,690.6 1187.5,688.0 1186.0,688.1 1179.7,692.1 1177.1,697.6 1175.6,702.6 1173.8,712.1 1174.5,714.1 1177.8,718.6 1179.0,722.1 1178.5,723.8 1171.5,721.8 1146.0,711.1 1139.5,707.8 1138.6,706.6 1138.3,705.1 1139.1,693.1 1138.3,675.1 1139.0,665.1 1142.9,642.1 1147.9,622.1 1165.5,564.1 1174.4,531.6 1187.8,495.7 1194.0,473.2 1199.0,460.3 1204.4,450.1 1208.1,446.1Z'/>
<path fill='#7ee462' fill-rule='evenodd' d='M1215.5,451.1 1215.5,718.2 1207.0,718.5 1198.5,717.4 1197.0,716.6 1195.2,706.1 1192.0,696.4 1190.8,689.7 1189.3,687.1 1187.5,685.6 1185.5,686.1 1183.3,688.1 1180.0,689.8 1178.0,691.6 1174.7,697.1 1171.0,706.8 1170.0,707.7 1153.1,700.6 1152.0,699.1 1146.0,682.1 1144.8,670.6 1147.5,646.6 1152.9,623.6 1166.1,577.6 1170.2,565.1 1178.5,534.1 1190.8,496.6 1194.1,483.6 1199.2,470.6 1205.5,459.9 1209.9,454.1Z'/>
<path fill='#73e05c' fill-rule='evenodd' d='M1214.0,460.1 1215.5,459.9 1215.5,707.2 1204.5,706.6 1199.0,705.2 1197.4,703.1 1194.6,696.1 1192.3,688.1 1189.9,685.1 1187.5,683.7 1185.0,684.0 1181.5,686.6 1177.5,688.5 1171.5,694.9 1169.9,694.9 1166.1,693.1 1159.5,687.3 1155.4,682.6 1152.1,676.1 1151.1,669.7 1152.9,647.1 1158.5,622.1 1170.4,580.1 1174.8,566.6 1182.8,535.6 1192.1,504.1 1197.0,485.1 1200.1,477.6 1203.0,472.6 1210.6,462.6Z'/>
<path fill='#68db55' fill-rule='evenodd' d='M1214.5,466.5 1215.5,466.4 1215.5,696.2 1204.0,694.7 1198.0,692.7 1197.0,691.8 1193.8,685.6 1191.0,682.8 1188.5,681.3 1184.5,681.3 1179.5,684.1 1177.5,684.5 1175.5,684.1 1168.5,681.1 1162.5,677.7 1160.5,676.0 1158.2,672.6 1157.3,668.1 1158.2,659.6 1158.3,648.6 1163.5,623.1 1174.6,581.6 1177.5,573.8 1180.4,562.6 1199.2,486.6 1202.6,479.6 1205.7,475.1Z'/>
<path fill='#5ed64e' fill-rule='evenodd' d='M1214.5,469.9 1215.5,469.8 1215.5,683.2 1206.5,682.2 1194.5,678.5 1170.9,668.7 1169.8,667.6 1169.2,666.1 1168.1,650.6 1170.7,621.6 1176.6,586.6 1198.6,493.6 1200.9,486.1 1204.5,479.9 1208.0,475.5Z'/>
<path fill='#55cd48' fill-rule='evenodd' d='M1214.0,473.1 1215.5,472.7 1215.4,670.1 1209.5,669.5 1198.4,666.4 1184.9,661.1 1182.6,659.6 1180.3,650.1 1178.6,622.1 1179.1,600.6 1180.5,582.1 1189.1,539.1 1197.2,503.1 1199.9,492.6 1202.5,485.8 1207.5,478.7Z'/>
<path fill='#4cc441' fill-rule='evenodd' d='M1214.5,475.5 1215.5,475.4 1215.5,656.9 1211.5,656.6 1202.5,654.3 1196.7,652.1 1195.2,650.6 1192.2,640.1 1187.2,617.6 1184.7,601.6 1183.4,584.6 1185.0,570.6 1189.1,545.1 1200.3,494.6 1202.9,487.6 1205.0,484.4 1210.0,478.6Z'/>
<path fill='#43bb3a' fill-rule='evenodd' d='M1214.0,478.1 1215.5,477.9 1215.5,643.8 1212.0,643.1 1210.5,641.9 1204.0,631.1 1199.6,622.1 1189.7,597.1 1187.3,588.1 1186.5,580.6 1187.2,569.1 1190.4,545.6 1200.1,498.6 1202.1,492.1 1204.5,487.1 1209.5,481.4Z'/>
<path fill='#3cb235' fill-rule='evenodd' d='M1215.5,480.1 1215.5,619.5 1213.0,618.3 1207.0,612.1 1194.5,593.9 1190.3,584.6 1189.0,574.6 1191.6,545.6 1200.9,498.6 1202.9,492.6 1205.5,488.0 1211.0,482.4Z'/>
<path fill='#36aa31' fill-rule='evenodd' d='M1214.0,482.5 1215.5,482.3 1215.5,604.1 1213.0,603.4 1209.0,600.6 1197.0,588.6 1192.9,581.6 1191.7,577.6 1191.3,573.6 1192.9,545.6 1201.0,501.9 1203.3,494.1 1205.7,489.6 1210.5,484.9Z'/>
<path fill='#30a22c' fill-rule='evenodd' d='M1214.0,484.5 1215.5,484.3 1215.5,594.7 1213.0,594.2 1210.0,592.6 1201.5,586.6 1197.5,582.8 1195.5,580.0 1194.0,576.6 1193.2,568.6 1194.1,546.1 1201.5,503.5 1204.0,495.1 1206.4,490.6 1209.0,488.1Z'/>
<path fill='#2a9a28' fill-rule='evenodd' d='M1214.0,486.6 1215.5,486.3 1215.5,588.3 1212.5,587.6 1205.0,583.9 1198.8,579.6 1196.1,575.1 1195.1,567.6 1195.0,546.6 1202.0,505.6 1204.0,498.4 1206.0,493.7 1208.5,490.5Z'/>
<path fill='#259524' fill-rule='evenodd' d='M1215.5,492.6 1215.5,582.5 1204.5,578.6 1201.4,576.6 1199.7,574.6 1197.5,567.1 1195.5,549.6 1197.3,535.1 1205.0,506.6 1209.4,496.5 1211.8,494.1Z'/>
<path fill='#219120' fill-rule='evenodd' d='M1215.0,505.4 1215.5,505.4 1215.5,575.6 1208.0,573.7 1204.5,571.4 1201.5,566.1 1198.5,558.9 1196.6,553.1 1196.1,549.1 1197.8,535.6 1199.0,531.6 1212.0,509.0Z'/>
<path fill='#1c8c1c' fill-rule='evenodd' d='M1215.5,518.1 1215.4,569.1 1210.5,567.8 1204.0,561.5 1198.0,554.3 1197.0,552.0 1196.6,549.1 1198.2,536.1 1199.4,532.5 1205.5,526.0Z'/>
<path fill='#1a8a1a' fill-rule='evenodd' d='M1215.5,525.3 1215.5,561.8 1211.0,560.5 1200.5,554.9 1198.0,552.4 1197.2,549.6 1198.9,536.1 1200.0,533.4 1201.5,531.9 1205.5,529.4Z'/>
<path fill='#000000' fill-rule='evenodd' d='M1215.5,525.5 1215.5,561.5 1211.0,560.3 1200.5,554.8 1198.0,552.3 1197.3,549.1 1198.9,536.1 1200.2,533.1 1206.0,529.3Z'/>
</g>
<clipPath id='clip4'><path d='M1233.4,53.0 1234.4,75.0 1237.1,80.0 1237.7,132.0 1239.9,140.0 1240.9,182.0 1242.9,188.0 1244.2,228.0 1245.9,236.0 1247.1,284.0 1248.9,292.0 1253.0,360.0 1256.6,417.0 1260.0,442.0 1266.3,525.7 1273.9,609.6 1278.0,659.8 1283.1,714.0 1287.3,775.0 1454.8,775.0 1459.9,722.6 1463.3,693.3 1467.1,659.7 1469.5,628.3 1473.2,592.7 1475.9,563.4 1478.9,525.7 1484.1,483.8 1485.6,453.0 1491.4,452.0 1491.4,53.0Z'/></clipPath>
<g clip-path='url(#clip4)'><path d='M1233.4,53.0 1234.4,75.0 1237.1,80.0 1237.7,132.0 1239.9,140.0 1240.9,182.0 1242.9,188.0 1244.2,228.0 1245.9,236.0 1247.1,284.0 1248.9,292.0 1253.0,360.0 1256.6,417.0 1260.0,442.0 1266.3,525.7 1273.9,609.6 1278.0,659.8 1283.1,714.0 1287.3,775.0 1454.8,775.0 1459.9,722.6 1463.3,693.3 1467.1,659.7 1469.5,628.3 1473.2,592.7 1475.9,563.4 1478.9,525.7 1484.1,483.8 1485.6,453.0 1491.4,452.0 1491.4,53.0Z' fill='#fdf3c0'/>
<path fill='#f8e8b0' fill-rule='evenodd' d='M1427.6,457.1 1440.1,457.3 1444.1,458.4 1447.0,460.6 1449.3,464.6 1450.0,467.6 1448.4,481.6 1428.7,560.6 1421.2,585.1 1417.1,590.6 1412.9,593.1 1408.6,605.6 1404.1,612.1 1401.5,614.2 1399.6,614.9 1396.0,615.2 1392.6,614.6 1381.6,610.1 1374.1,604.9 1371.1,603.5 1369.9,602.1 1368.5,594.1 1367.0,574.6 1367.0,566.1 1367.7,559.1 1369.6,554.6 1373.1,549.1 1385.1,538.6 1387.7,535.1 1389.5,531.6 1392.5,521.1 1398.2,496.1 1401.0,486.6 1402.8,482.6 1404.6,480.1 1406.6,478.4 1413.6,476.1 1415.3,475.1 1415.8,473.6 1415.6,465.1 1416.4,462.6 1417.6,461.1 1421.1,458.7ZM1263.3,469.6 1270.1,472.9 1272.6,475.3 1273.9,477.6 1307.6,588.9 1308.6,591.6 1310.6,594.6 1315.9,612.1 1324.6,633.8 1329.9,643.1 1336.3,651.1 1344.7,681.6 1347.6,697.6 1347.6,703.2 1347.0,706.6 1344.9,715.1 1341.5,722.1 1338.1,727.1 1334.6,729.8 1332.6,730.2 1328.1,730.0 1325.1,729.3 1320.2,727.1 1310.0,719.2 1301.1,708.6 1293.3,696.7 1287.4,685.1 1286.0,679.6 1285.9,666.6 1285.3,662.1 1284.1,659.4 1282.1,657.5 1280.1,657.0 1274.6,657.6 1251.6,665.9 1238.6,669.0 1235.1,669.1 1227.1,667.6 1227.1,461.2ZM1423.6,744.6 1427.0,744.6 1435.1,746.4 1443.1,749.6 1444.9,751.1 1448.2,762.1 1445.0,768.1 1444.0,775.1 1411.0,775.1 1410.1,768.6 1405.2,762.6 1403.8,759.1 1403.0,754.6 1403.7,750.1 1405.2,747.6 1407.1,746.7 1417.6,745.9Z'/>
<path fill='#f8dea6' fill-rule='evenodd' d='M1428.1,459.6 1438.1,459.6 1441.6,460.2 1444.4,461.6 1446.2,464.1 1447.6,468.1 1447.6,476.5 1447.1,481.1 1444.7,492.1 1428.1,557.1 1419.8,584.1 1417.6,587.2 1412.6,591.9 1407.8,604.1 1403.8,610.1 1401.6,611.8 1398.6,612.6 1393.1,612.2 1382.6,607.8 1372.1,600.1 1371.0,593.6 1369.5,574.1 1369.5,566.6 1370.2,559.6 1372.0,555.6 1375.6,550.3 1387.5,539.6 1389.8,536.6 1391.9,532.7 1394.9,522.1 1400.5,497.1 1403.2,488.1 1405.1,484.0 1408.1,480.5 1415.1,478.4 1417.1,477.1 1418.3,474.6 1418.0,466.6 1418.8,463.6 1421.6,461.3ZM1264.1,471.9 1269.1,474.2 1271.3,476.1 1272.5,478.1 1274.2,485.1 1278.8,497.1 1289.9,536.6 1304.4,583.1 1307.5,596.5 1310.9,602.6 1316.1,617.6 1323.3,635.1 1327.0,641.6 1333.3,650.1 1342.1,681.7 1345.0,698.1 1345.0,703.6 1341.7,716.1 1337.1,724.3 1333.6,727.3 1330.6,727.7 1327.1,727.2 1321.6,724.9 1311.6,717.2 1303.1,706.8 1295.6,695.3 1289.8,684.1 1288.5,679.1 1288.4,666.1 1287.7,661.1 1286.0,657.6 1283.1,655.0 1280.6,654.3 1274.1,655.1 1251.1,663.4 1237.6,666.6 1227.1,664.9 1227.1,463.5ZM1425.6,746.9 1439.6,751.2 1443.1,752.9 1444.4,755.6 1445.9,761.1 1442.6,767.7 1441.3,775.1 1413.6,775.1 1412.6,768.0 1406.9,760.6 1405.6,756.1 1405.4,753.2 1406.4,750.1 1408.1,748.4 1410.6,747.6Z'/>
<path fill='#f8d49c' fill-rule='evenodd' d='M1428.6,463.1 1435.6,462.8 1440.6,463.9 1442.6,465.5 1444.2,469.1 1444.8,475.6 1444.3,484.1 1443.1,491.6 1439.2,508.6 1426.8,556.6 1418.4,583.1 1412.4,590.6 1408.8,599.7 1403.6,607.5 1402.1,608.6 1398.6,609.4 1393.1,609.1 1387.6,606.9 1383.9,604.7 1378.7,599.6 1376.6,596.1 1376.0,591.6 1375.4,572.1 1376.3,561.6 1380.0,554.1 1390.6,541.8 1394.7,534.1 1402.6,504.0 1408.9,486.1 1410.6,484.0 1416.6,480.8 1419.4,478.1 1420.6,475.1 1421.3,468.1 1422.4,465.6 1424.1,464.5ZM1253.6,471.5 1264.2,475.1 1267.5,478.6 1270.7,485.6 1277.1,497.0 1287.8,537.1 1306.4,599.1 1309.9,605.1 1317.0,624.6 1321.6,635.7 1329.4,649.1 1334.1,666.1 1336.4,676.6 1337.2,684.1 1337.0,699.6 1335.8,703.6 1332.6,710.2 1329.1,714.7 1328.1,714.9 1326.1,714.2 1317.1,709.2 1309.6,702.2 1301.9,692.1 1296.6,683.5 1294.5,678.6 1290.6,658.3 1288.6,654.3 1285.1,651.7 1280.6,650.9 1273.6,651.8 1250.1,659.7 1238.1,662.4 1235.6,662.4 1227.1,660.9 1227.1,465.9ZM1413.6,748.6 1421.1,748.8 1442.6,756.3 1443.7,758.6 1444.0,760.6 1440.8,766.6 1439.2,775.2 1415.9,775.1 1414.4,767.2 1408.9,760.1 1407.4,754.7 1407.7,752.1 1409.0,750.2 1410.6,749.1Z'/>
<path fill='#f8c993' fill-rule='evenodd' d='M1431.6,467.6 1434.1,467.4 1436.8,468.1 1438.6,469.3 1439.7,471.1 1440.9,475.6 1440.6,489.6 1437.4,509.1 1425.8,556.6 1417.3,581.6 1411.8,590.1 1407.7,599.6 1404.6,603.1 1402.1,604.5 1397.6,605.5 1393.1,605.2 1389.8,603.6 1387.0,601.1 1385.2,597.6 1384.1,593.6 1383.9,588.6 1384.9,571.1 1386.1,563.6 1397.1,540.0 1400.6,529.0 1403.8,513.6 1412.1,495.0 1414.7,489.6 1420.6,481.1 1425.6,471.1 1427.5,469.0ZM1232.1,472.6 1235.1,472.7 1244.1,475.3 1257.6,481.9 1270.1,492.4 1273.1,495.5 1275.0,498.6 1276.0,502.6 1277.0,511.6 1281.2,532.1 1288.2,555.1 1295.1,585.6 1295.8,586.6 1298.1,587.5 1299.6,589.0 1304.6,600.2 1308.6,607.1 1321.5,641.6 1328.4,663.1 1329.5,668.1 1330.0,674.6 1329.2,682.1 1328.2,685.6 1326.6,688.6 1324.6,690.9 1322.1,692.5 1319.6,692.5 1315.6,690.2 1308.2,682.1 1305.0,677.6 1298.9,666.6 1293.3,651.1 1291.0,648.7 1286.6,646.2 1284.1,645.8 1277.6,646.3 1251.1,654.0 1238.6,656.5 1236.1,656.5 1227.1,655.0 1227.1,473.4ZM1413.6,750.1 1417.7,750.1 1441.5,758.6 1441.8,760.6 1438.9,766.1 1437.1,775.1 1418.0,775.1 1416.1,766.1 1410.8,759.1 1409.6,755.6 1409.5,753.6 1410.1,752.1 1411.6,750.7Z'/>
<path fill='#f8be8a' fill-rule='evenodd' d='M1432.1,470.5 1434.1,470.4 1436.1,471.4 1438.3,475.1 1438.5,489.6 1436.1,508.4 1425.2,556.1 1416.6,579.8 1410.9,589.6 1406.9,598.6 1404.8,600.6 1400.9,602.1 1397.1,603.1 1393.6,602.8 1391.6,601.8 1389.9,600.1 1388.6,596.1 1388.5,589.6 1390.5,572.1 1392.5,562.1 1401.1,534.7 1404.9,515.1 1408.9,507.2 1417.2,493.1 1424.6,477.4 1427.6,473.0ZM1233.6,479.3 1241.1,480.8 1248.4,483.6 1267.6,493.9 1271.2,496.6 1273.1,499.4 1273.9,503.1 1274.2,512.6 1277.5,530.6 1284.8,555.1 1288.6,574.4 1292.8,592.1 1295.1,596.6 1296.2,591.6 1297.1,590.9 1298.1,591.2 1305.7,605.6 1311.6,621.1 1316.4,637.1 1325.0,662.1 1326.5,669.1 1326.4,674.6 1324.6,681.2 1323.6,683.0 1322.1,684.2 1320.6,684.4 1318.1,683.2 1311.1,675.6 1301.0,662.6 1299.6,659.6 1297.3,651.6 1295.8,648.7 1292.9,645.6 1288.0,643.1 1284.1,642.8 1277.1,643.4 1251.6,650.7 1238.1,653.1 1227.1,651.3 1227.1,480.4Z'/>
<path fill='#f8b382' fill-rule='evenodd' d='M1430.1,483.0 1431.3,483.6 1432.6,488.1 1434.2,498.6 1434.2,507.6 1425.9,551.1 1422.7,561.1 1418.6,570.0 1413.9,578.1 1402.6,592.3 1400.6,593.4 1398.1,593.5 1397.0,592.1 1396.1,586.1 1395.0,573.6 1395.2,566.6 1405.7,515.1 1410.6,506.5 1426.1,487.2ZM1231.6,491.6 1238.1,492.0 1244.6,494.2 1262.1,502.2 1264.6,504.6 1267.4,514.1 1277.6,537.9 1279.9,544.6 1284.9,564.1 1288.3,582.6 1293.4,599.1 1294.2,600.6 1295.6,601.7 1298.6,601.1 1299.6,601.4 1301.5,605.1 1303.9,612.1 1306.5,623.1 1307.9,633.6 1308.8,646.2 1308.1,648.4 1302.6,643.5 1297.7,640.6 1288.1,637.9 1276.1,638.9 1252.1,645.2 1239.6,647.3 1236.6,647.4 1227.1,645.9 1227.1,492.0Z'/>
<path fill='#f8a87c' fill-rule='evenodd' d='M1425.6,499.6 1427.6,500.6 1429.6,503.7 1430.8,507.1 1431.4,511.6 1430.5,522.1 1425.5,550.1 1422.1,560.6 1417.6,567.7 1414.6,570.5 1411.6,572.3 1407.1,573.9 1404.6,574.1 1403.1,572.3 1401.4,567.1 1401.0,554.6 1402.7,537.1 1406.4,515.1 1410.1,508.7 1412.6,506.1 1417.6,503.0ZM1235.6,509.5 1248.1,513.4 1263.6,527.4 1274.1,537.8 1276.3,540.6 1278.7,547.2 1279.5,553.6 1282.5,566.6 1285.7,585.6 1287.7,589.1 1292.1,603.0 1295.8,609.1 1296.7,611.6 1297.7,621.2 1296.9,626.1 1295.6,628.3 1274.6,631.8 1261.1,635.1 1246.1,637.9 1237.6,638.8 1227.1,637.4 1227.1,509.5Z'/>
<path fill='#f89d76' fill-rule='evenodd' d='M1419.6,506.1 1423.1,505.9 1425.6,506.7 1427.1,508.1 1428.5,511.1 1429.1,515.1 1428.9,520.6 1427.6,531.6 1424.6,549.2 1421.6,558.7 1420.1,561.4 1416.6,565.5 1413.6,567.2 1411.1,567.5 1408.6,566.4 1406.8,564.1 1404.7,553.6 1404.3,537.1 1405.5,525.1 1407.6,514.8 1410.1,510.6 1413.6,507.6ZM1234.6,527.1 1246.6,530.0 1264.1,536.6 1271.6,540.2 1274.6,542.7 1276.5,547.6 1276.5,554.1 1279.8,569.1 1282.3,588.1 1283.1,590.1 1285.1,590.9 1285.6,591.6 1289.6,606.6 1290.3,617.6 1289.5,619.6 1288.1,621.1 1284.1,622.6 1249.6,629.2 1236.6,630.3 1227.1,628.6 1227.1,527.3Z'/>
<path fill='#f89271' fill-rule='evenodd' d='M1234.1,546.8 1241.1,548.0 1256.6,552.6 1259.5,554.1 1263.8,576.1 1266.0,598.6 1267.9,606.1 1267.1,607.4 1258.6,609.5 1241.1,611.9 1237.1,612.0 1231.1,610.7 1227.1,610.5 1227.1,547.3Z'/>
<path fill='#f4f0b4' fill-rule='evenodd' d='M1238.6,369.2 1256.1,373.4 1278.6,374.6 1286.6,375.8 1291.1,377.2 1296.1,380.7 1300.3,388.6 1301.1,391.6 1300.0,395.6 1300.5,397.1 1310.4,402.6 1313.1,405.1 1315.1,408.2 1316.6,414.6 1316.6,426.1 1315.7,441.6 1317.3,458.6 1319.4,470.6 1322.7,483.1 1330.2,503.6 1338.5,519.1 1342.1,529.1 1345.0,542.1 1348.1,563.1 1348.7,574.2 1350.6,589.6 1351.1,598.6 1350.7,603.6 1352.4,616.6 1353.8,622.1 1360.5,632.1 1362.0,635.6 1361.8,638.6 1360.6,641.1 1358.2,643.1 1354.6,645.1 1345.1,647.6 1338.6,647.6 1334.5,644.6 1331.4,640.1 1316.4,602.1 1312.5,589.1 1308.6,584.1 1292.2,532.6 1281.3,493.1 1275.2,474.6 1272.6,471.7 1269.1,469.1 1241.6,455.5 1232.1,453.4 1227.1,454.3 1227.1,367.6ZM1491.6,385.1 1491.6,758.7 1478.6,762.0 1474.6,762.2 1452.6,760.1 1450.6,757.7 1448.7,750.7 1447.6,749.0 1444.6,746.8 1435.6,743.2 1424.5,741.2 1420.5,741.8 1415.1,743.4 1406.6,743.7 1404.1,743.3 1399.1,741.1 1389.7,736.6 1383.0,731.7 1381.2,728.1 1380.0,720.1 1381.7,710.6 1388.9,692.7 1391.2,685.6 1392.7,671.1 1399.2,636.1 1403.6,617.6 1410.4,608.1 1413.4,600.6 1417.1,600.7 1418.9,598.6 1423.8,589.1 1427.2,579.6 1431.1,565.1 1440.0,526.1 1450.8,482.6 1455.8,455.1 1456.0,435.6 1456.7,429.6 1458.4,422.6 1453.1,416.1 1452.5,413.6 1452.7,411.1 1454.6,408.8 1481.6,388.8 1485.1,386.9ZM1361.0,720.1 1364.1,720.3 1367.1,721.7 1372.3,728.6 1377.6,732.6 1382.1,737.7 1384.5,743.6 1384.6,750.6 1383.2,759.1 1381.6,762.1 1379.3,764.6 1377.1,765.6 1366.1,766.9 1361.1,769.3 1357.6,769.7 1355.1,769.1 1352.1,767.2 1348.3,760.7 1346.6,753.0 1346.0,741.1 1346.8,737.6 1349.4,733.1 1352.2,725.6 1356.1,721.9ZM1316.1,733.1 1320.6,733.6 1324.6,736.1 1328.8,741.1 1332.0,748.1 1331.9,752.1 1325.5,765.1 1323.3,775.1 1299.9,775.1 1296.9,769.6 1295.7,762.6 1293.1,755.1 1293.0,748.1 1294.1,744.1 1296.0,741.1 1299.1,738.7 1305.6,737.2 1312.1,734.0Z'/>
<path fill='#e8f0af' fill-rule='evenodd' d='M1238.1,371.7 1255.6,375.9 1278.1,377.1 1285.6,378.1 1290.1,379.5 1294.1,382.2 1298.3,390.1 1298.5,392.6 1296.8,396.1 1297.5,398.1 1299.4,399.6 1307.6,403.7 1310.6,406.2 1312.9,409.6 1314.1,415.6 1314.1,425.6 1313.2,435.1 1313.2,442.1 1315.3,463.1 1316.9,471.6 1320.4,484.6 1328.0,505.1 1336.6,521.1 1339.5,529.6 1342.4,542.1 1345.6,563.6 1346.2,574.6 1348.1,590.1 1348.6,598.2 1348.2,604.1 1349.8,617.1 1351.7,623.6 1358.3,633.6 1359.4,636.1 1359.2,638.1 1358.3,639.6 1353.7,642.7 1347.1,644.6 1338.5,645.2 1336.1,643.9 1333.9,640.6 1327.7,624.6 1317.6,601.1 1313.4,588.7 1309.6,583.1 1292.8,532.6 1286.8,512.1 1282.1,492.2 1276.1,473.9 1273.6,471.0 1269.1,467.5 1242.6,453.4 1232.6,451.1 1227.1,451.8 1227.1,370.1ZM1489.6,388.1 1491.6,387.7 1491.5,756.0 1478.1,759.5 1475.1,759.7 1456.1,758.2 1453.6,757.6 1452.3,756.1 1450.6,749.6 1447.8,746.6 1445.1,744.9 1432.6,740.5 1424.1,739.3 1419.6,739.9 1411.1,742.1 1408.1,742.0 1405.1,741.0 1391.6,734.8 1385.2,730.1 1383.7,727.6 1382.5,720.6 1384.1,711.6 1391.3,693.6 1393.8,686.1 1395.1,672.1 1401.6,637.1 1406.3,617.1 1407.6,614.7 1411.7,609.6 1414.3,604.2 1418.1,602.8 1420.4,600.1 1425.1,591.0 1429.0,580.2 1433.9,561.6 1453.6,476.1 1456.3,468.1 1458.4,455.1 1458.5,437.1 1459.0,431.1 1460.2,426.1 1462.1,421.6 1456.1,416.0 1455.2,414.1 1455.2,412.1 1456.5,410.6 1482.7,391.1ZM1361.1,722.6 1363.6,722.7 1365.6,723.6 1370.6,730.4 1376.1,734.5 1380.1,739.1 1382.1,744.1 1382.2,750.1 1381.0,758.1 1379.6,760.7 1377.8,762.6 1376.1,763.3 1365.1,764.6 1360.6,766.9 1358.1,767.3 1355.6,766.7 1353.5,765.2 1350.4,759.1 1348.9,752.2 1348.4,741.6 1349.1,738.6 1351.6,734.4 1354.5,726.6 1357.1,724.1ZM1316.1,735.6 1318.6,735.6 1320.6,736.2 1324.6,739.6 1328.7,746.1 1329.7,749.1 1329.5,751.6 1323.3,764.1 1320.6,775.2 1303.6,775.2 1303.3,774.1 1300.1,770.6 1299.0,768.1 1298.1,762.1 1295.4,754.1 1295.4,749.2 1295.9,746.7 1297.5,743.1 1300.1,740.9 1306.6,739.4 1312.6,736.4Z'/>
<path fill='#dcf0aa' fill-rule='evenodd' d='M1238.1,375.6 1254.6,378.5 1263.1,378.7 1281.6,380.4 1289.3,382.1 1292.3,384.1 1296.4,390.6 1296.4,392.6 1294.1,396.6 1294.9,399.6 1296.6,401.5 1304.8,407.1 1307.8,411.1 1308.6,414.6 1308.6,418.1 1308.0,424.1 1306.1,433.1 1312.9,472.1 1316.6,485.6 1324.1,506.1 1331.3,520.1 1333.9,527.1 1338.7,547.1 1341.5,565.1 1343.6,591.6 1342.2,623.1 1343.6,632.1 1342.5,633.6 1340.1,634.1 1338.0,633.7 1334.6,630.9 1332.6,628.5 1317.3,597.6 1313.6,587.2 1310.7,582.6 1293.2,532.6 1287.3,512.1 1282.1,489.6 1276.6,473.1 1274.1,469.7 1269.6,465.8 1254.1,456.5 1243.6,451.0 1233.1,448.4 1227.1,448.5 1227.1,375.6ZM1490.6,399.1 1491.6,399.0 1491.6,751.2 1475.6,754.1 1464.1,753.1 1455.1,751.7 1451.6,747.1 1448.1,744.2 1436.6,739.4 1425.6,737.2 1415.1,737.8 1411.1,736.4 1397.6,729.9 1392.7,726.6 1390.7,724.1 1390.0,718.6 1390.7,712.6 1398.8,687.6 1400.1,673.6 1403.1,656.2 1406.6,638.1 1412.2,615.6 1416.0,606.6 1420.3,603.6 1423.8,598.1 1426.8,591.6 1431.0,580.1 1446.1,518.6 1460.0,469.6 1462.4,456.6 1464.2,438.6 1465.8,431.6 1467.4,427.6 1473.2,419.6 1473.7,416.6 1473.5,410.6 1474.1,409.3 1481.6,403.8ZM1360.6,724.6 1362.6,724.4 1364.6,725.3 1369.2,731.6 1375.1,736.1 1378.5,740.1 1380.3,744.6 1380.4,749.6 1379.1,757.6 1377.1,760.7 1375.6,761.4 1364.6,762.8 1360.1,765.0 1358.1,765.4 1356.1,764.8 1354.7,763.6 1351.8,757.6 1350.2,747.1 1350.2,742.1 1350.9,739.1 1353.3,735.1 1355.8,728.1 1358.1,725.8ZM1315.5,737.6 1319.1,737.7 1322.6,740.1 1326.7,746.1 1327.6,748.6 1327.8,750.6 1321.6,763.1 1318.4,775.1 1306.7,775.1 1306.1,773.6 1302.1,770.1 1301.0,768.2 1299.9,761.6 1297.3,754.1 1297.4,748.1 1298.6,744.9 1300.6,742.9 1307.6,741.1 1313.1,738.2Z'/>
<path fill='#cff0a1' fill-rule='evenodd' d='M1240.1,381.1 1267.6,382.4 1286.1,384.8 1290.6,386.7 1294.5,391.1 1294.0,393.1 1288.4,398.1 1287.6,399.6 1294.1,404.6 1297.1,408.1 1299.3,412.6 1299.5,416.6 1298.4,420.1 1296.6,423.2 1292.1,427.7 1287.0,431.6 1286.5,432.6 1296.6,442.5 1301.3,449.1 1303.7,456.1 1306.2,470.1 1310.7,485.6 1318.9,508.1 1325.3,522.6 1330.5,540.1 1335.2,565.6 1336.6,587.1 1336.4,594.6 1335.1,602.6 1333.6,606.3 1331.6,609.0 1328.1,609.0 1325.6,607.7 1320.1,601.3 1317.3,596.1 1293.6,532.5 1287.7,512.1 1283.2,491.6 1277.6,473.7 1275.0,468.2 1268.3,457.6 1263.7,448.6 1262.8,444.1 1262.6,436.4 1260.1,435.4 1242.6,433.4 1227.1,427.8 1227.1,390.5 1228.1,390.1 1230.8,386.1 1233.5,383.6 1236.6,382.0ZM1491.6,418.5 1491.6,743.9 1484.1,745.2 1475.6,745.3 1464.6,744.1 1453.6,741.5 1433.6,734.5 1414.6,726.6 1406.6,722.5 1403.0,719.7 1401.8,717.1 1401.2,711.1 1402.7,702.1 1406.7,688.6 1408.1,672.6 1410.2,657.6 1414.4,638.6 1425.0,603.1 1431.3,588.1 1455.3,511.6 1470.3,450.6 1473.1,442.2 1477.6,433.0 1485.6,422.5 1488.6,419.8ZM1360.6,726.5 1362.1,726.3 1363.6,727.0 1368.1,733.1 1373.6,737.2 1377.1,741.2 1378.5,744.6 1378.6,749.7 1377.4,757.1 1375.9,759.1 1364.6,761.0 1358.1,763.5 1355.9,762.1 1353.4,756.6 1352.1,747.1 1352.0,742.1 1352.6,739.8 1354.7,736.1 1357.3,729.2 1358.6,727.6ZM1314.6,739.6 1318.1,739.3 1321.1,741.1 1325.1,746.9 1325.9,750.6 1319.9,762.6 1316.5,775.1 1308.6,775.1 1307.8,772.6 1303.7,769.1 1302.7,767.6 1301.7,761.6 1299.2,754.1 1299.1,748.6 1300.1,746.0 1301.6,744.5 1308.1,742.8Z'/>
<path fill='#c2f096' fill-rule='evenodd' d='M1246.1,387.6 1257.6,387.3 1265.6,387.7 1285.8,390.6 1286.4,391.1 1286.2,391.6 1285.1,392.1 1278.1,393.1 1275.1,394.3 1273.0,396.6 1272.4,400.1 1273.7,403.2 1276.1,404.9 1280.6,406.0 1286.1,406.6 1290.1,408.0 1291.6,410.6 1291.0,413.6 1289.0,415.2 1285.1,416.4 1268.6,417.6 1253.1,416.6 1247.6,415.9 1242.6,414.2 1240.8,411.6 1241.0,410.1 1242.1,408.8 1245.1,407.4 1251.6,406.4 1254.1,405.4 1256.1,403.6 1257.4,400.1 1256.6,396.2 1254.6,394.0 1251.6,392.8 1245.0,391.6 1242.3,390.1 1242.0,389.1 1242.6,388.5ZM1490.6,430.0 1491.6,429.9 1491.6,738.9 1484.1,740.6 1464.6,737.9 1445.1,731.5 1422.1,722.0 1415.6,719.0 1410.6,716.1 1408.7,713.1 1407.5,708.6 1408.3,702.6 1411.6,691.1 1412.4,686.1 1412.6,679.1 1414.1,662.6 1416.8,649.1 1432.8,596.1 1446.1,556.4 1460.1,511.7 1463.6,497.4 1470.9,462.6 1473.8,454.1 1477.8,446.1 1488.5,431.6ZM1277.6,445.1 1282.6,445.3 1290.1,447.5 1294.1,449.4 1297.3,452.1 1299.9,457.6 1302.6,471.4 1308.6,490.2 1315.6,509.1 1320.2,519.6 1326.4,541.1 1328.4,550.1 1330.9,563.1 1332.5,578.1 1332.5,586.1 1331.3,597.1 1329.9,601.1 1326.6,603.9 1324.1,603.8 1322.1,602.6 1320.0,600.1 1317.9,596.1 1293.9,532.1 1288.1,511.9 1282.7,488.1 1273.8,461.6 1272.8,456.6 1272.1,451.1 1272.7,448.6 1274.6,446.3ZM1361.1,731.4 1362.1,731.7 1366.6,736.7 1371.5,740.1 1374.6,744.0 1375.0,746.1 1374.9,749.6 1373.9,754.1 1372.8,755.6 1364.1,756.6 1360.1,757.7 1359.1,757.6 1358.1,756.3 1356.9,751.2 1356.2,742.6ZM1315.5,746.1 1317.0,746.1 1318.1,747.2 1319.2,749.1 1319.2,750.6 1314.4,759.1 1312.1,764.8 1310.6,765.6 1308.9,763.7 1308.3,759.6 1305.9,753.1 1305.9,751.1 1306.9,750.2Z'/>
<path fill='#b4f08b' fill-rule='evenodd' d='M1491.6,431.0 1491.6,737.9 1484.1,739.6 1465.1,737.1 1442.6,729.4 1418.6,719.4 1412.1,715.9 1410.0,713.6 1408.5,708.6 1409.3,702.6 1413.3,686.6 1413.5,679.1 1415.0,663.1 1417.3,650.6 1433.9,595.6 1447.1,556.2 1460.6,513.1 1464.2,498.6 1471.8,462.6 1474.8,454.1 1478.6,446.6 1489.4,432.1ZM1458.9,702.1 1456.9,704.1 1455.9,708.6 1457.1,710.6 1459.6,712.4 1461.1,712.7 1462.6,710.1 1462.4,706.1 1461.1,702.4ZM1277.6,446.1 1282.1,446.2 1290.1,448.5 1294.6,450.8 1296.8,453.1 1298.9,457.6 1301.8,472.1 1308.0,491.1 1314.8,509.6 1319.3,519.6 1325.4,541.1 1327.4,550.1 1330.0,563.6 1331.6,578.1 1331.6,585.6 1330.4,596.6 1329.1,600.6 1326.6,602.9 1324.6,603.1 1322.6,602.3 1320.6,600.0 1318.4,596.1 1294.5,532.6 1288.6,512.0 1284.2,491.6 1274.2,459.6 1273.2,450.1 1274.6,447.6Z'/>
<path fill='#a6ee80' fill-rule='evenodd' d='M1490.6,432.1 1491.6,431.9 1491.6,737.2 1484.1,738.9 1465.1,736.3 1443.1,728.8 1418.7,718.6 1412.6,715.3 1410.6,713.1 1409.2,708.6 1409.9,703.1 1414.0,686.6 1414.2,679.6 1415.7,663.1 1418.1,650.6 1434.6,595.8 1447.4,557.1 1461.2,513.1 1464.8,498.6 1472.5,462.6 1475.5,454.1 1479.1,447.2ZM1458.0,685.1 1455.9,686.6 1456.7,688.2 1459.6,688.7 1461.6,687.6 1461.9,686.1 1461.1,685.2ZM1457.1,701.0 1455.4,702.6 1454.2,706.1 1453.9,709.1 1454.9,711.6 1460.0,716.1 1461.1,716.5 1462.6,715.7 1463.4,714.1 1464.5,710.6 1464.6,708.1 1462.8,700.7 1461.6,699.4ZM1276.6,447.1 1280.6,446.8 1285.1,447.6 1291.9,450.1 1294.6,451.7 1296.1,453.4 1298.3,458.1 1300.9,471.6 1307.2,491.1 1314.3,510.1 1318.6,519.7 1324.7,541.1 1326.7,550.2 1329.3,563.6 1330.8,578.1 1330.9,585.6 1329.7,596.6 1328.6,600.2 1326.1,602.3 1324.1,602.3 1322.6,601.5 1319.1,595.9 1308.1,566.6 1303.0,554.6 1295.1,532.6 1289.1,511.6 1284.7,491.6 1274.9,459.6 1273.9,450.7 1274.7,448.6Z'/>
<path fill='#98eb75' fill-rule='evenodd' d='M1491.1,433.1 1491.6,433.1 1491.6,736.2 1484.1,737.8 1465.1,735.2 1445.4,728.6 1416.0,716.1 1412.1,713.6 1410.2,708.6 1411.1,702.5 1414.9,687.1 1415.1,679.6 1416.5,663.2 1419.1,650.0 1435.1,596.7 1448.4,556.6 1461.8,513.6 1465.4,499.1 1473.1,463.4 1476.1,455.0 1479.6,448.0ZM1458.2,683.1 1449.8,684.6 1446.9,686.1 1446.4,687.1 1448.1,688.6 1451.6,689.0 1457.1,690.9 1460.6,690.8 1464.5,688.7 1464.9,687.1 1463.6,684.0 1461.6,683.1ZM1460.1,697.1 1455.6,699.6 1453.6,701.6 1452.1,705.6 1451.5,710.1 1452.0,712.1 1453.0,713.6 1456.1,715.9 1458.4,718.6 1461.1,719.6 1463.1,718.9 1464.8,717.1 1466.2,713.1 1466.8,709.6 1466.2,705.1 1464.3,698.6 1462.6,697.0ZM1277.6,448.0 1282.2,448.1 1289.1,450.1 1293.9,452.6 1295.6,454.8 1297.6,459.6 1300.2,473.1 1305.9,490.6 1313.3,510.6 1317.6,520.1 1324.1,543.0 1328.7,567.6 1329.8,579.1 1329.3,592.1 1328.1,598.7 1326.0,601.1 1324.6,601.3 1323.2,600.6 1321.1,597.1 1308.9,565.6 1305.1,557.1 1298.6,539.2 1290.6,511.8 1284.8,488.1 1281.6,479.1 1276.1,459.7 1275.0,450.6 1276.1,448.9Z'/>
<path fill='#8ae86a' fill-rule='evenodd' d='M1490.6,441.6 1491.6,441.4 1491.6,722.3 1482.6,723.3 1470.6,721.5 1467.6,720.2 1469.3,711.1 1468.7,705.1 1466.2,697.2 1461.9,693.6 1466.6,690.5 1467.5,689.1 1467.6,687.6 1465.8,683.1 1463.6,681.4 1459.6,681.1 1450.1,682.0 1445.1,683.9 1443.4,685.6 1443.5,688.6 1445.6,690.7 1458.9,694.1 1457.8,695.6 1453.1,698.6 1450.8,701.6 1448.9,708.6 1449.0,714.6 1448.6,715.5 1433.6,710.7 1423.0,706.2 1422.4,704.1 1422.7,691.6 1420.7,675.1 1420.2,660.1 1423.0,645.2 1431.4,617.6 1437.1,596.6 1459.4,527.1 1463.3,513.6 1470.6,480.2 1473.1,470.9 1478.2,457.1 1480.1,453.4 1483.2,448.6Z'/>
<path fill='#7ee462' fill-rule='evenodd' d='M1491.6,451.1 1491.6,703.2 1482.6,703.2 1474.6,701.6 1471.1,699.9 1467.7,694.1 1470.0,690.1 1469.9,686.7 1467.8,681.6 1465.1,679.4 1459.1,678.8 1447.6,680.2 1442.1,682.8 1440.6,684.6 1439.3,687.6 1438.6,687.9 1434.6,682.3 1429.1,671.1 1427.0,664.6 1426.0,656.6 1427.7,645.6 1432.0,631.6 1441.0,596.6 1464.9,519.1 1472.9,481.1 1475.6,474.2 1483.5,457.6 1487.5,453.1ZM1444.1,694.6 1449.1,695.2 1450.2,696.1 1449.1,696.6 1446.8,696.1 1445.1,695.6Z'/>
<path fill='#73e05c' fill-rule='evenodd' d='M1490.1,459.0 1491.6,458.8 1491.6,684.0 1485.6,683.5 1479.6,681.8 1472.5,678.6 1467.6,674.8 1454.6,674.8 1442.1,670.2 1438.6,667.7 1434.2,663.1 1432.0,658.6 1431.3,654.6 1432.3,646.1 1437.3,629.6 1444.8,597.2 1463.9,534.6 1468.6,517.5 1475.2,482.6 1478.4,476.1 1485.3,466.6 1487.0,461.6Z'/>
<path fill='#68db55' fill-rule='evenodd' d='M1491.1,465.9 1491.6,465.9 1491.6,664.9 1488.6,663.9 1475.1,656.8 1468.6,655.0 1463.1,655.6 1452.1,660.4 1443.6,660.4 1439.6,658.5 1437.7,656.6 1436.6,654.1 1436.5,650.1 1442.2,629.6 1446.1,608.6 1449.0,596.1 1462.1,550.8 1471.1,515.9 1474.2,495.1 1476.8,484.1 1480.2,478.1 1489.9,468.6Z'/>
<path fill='#5ed64e' fill-rule='evenodd' d='M1490.6,471.1 1491.6,470.9 1491.6,651.9 1489.1,651.3 1478.6,646.4 1470.1,644.4 1460.6,644.8 1450.1,647.9 1449.5,647.6 1449.3,646.1 1451.5,632.1 1453.0,609.6 1455.5,589.6 1461.4,558.6 1472.0,515.1 1475.8,491.1 1477.7,484.6 1479.3,481.6 1483.1,477.2Z'/>
<path fill='#55cd48' fill-rule='evenodd' d='M1490.6,473.1 1491.6,473.0 1491.6,639.4 1479.6,635.5 1472.6,633.9 1465.1,633.1 1463.6,632.1 1461.7,611.6 1461.2,595.6 1461.6,579.1 1463.2,558.1 1468.9,529.1 1472.5,515.1 1476.5,491.1 1478.4,485.1 1480.1,482.3 1484.1,478.0Z'/>
<path fill='#4cc441' fill-rule='evenodd' d='M1490.1,475.1 1491.6,474.8 1491.6,627.3 1477.6,623.9 1476.1,623.3 1475.2,622.1 1472.4,612.6 1468.4,593.1 1466.4,580.1 1464.7,560.6 1466.5,544.1 1470.3,524.6 1474.3,508.6 1477.2,490.6 1478.8,486.1 1480.6,483.2 1484.6,479.2Z'/>
<path fill='#43bb3a' fill-rule='evenodd' d='M1491.5,476.6 1491.6,615.7 1489.1,615.1 1487.6,613.7 1482.1,604.5 1478.3,596.6 1468.1,568.1 1466.9,562.7 1466.4,556.1 1466.8,547.6 1469.7,529.1 1474.7,508.6 1476.3,496.6 1477.7,490.6 1481.1,484.1 1485.6,479.9Z'/>
<path fill='#3cb235' fill-rule='evenodd' d='M1490.1,478.5 1491.6,478.3 1491.6,594.6 1489.1,593.3 1483.6,587.3 1472.8,570.1 1468.6,560.6 1467.6,550.1 1470.1,529.1 1475.3,508.1 1478.1,491.1 1479.6,487.7 1481.6,484.9 1485.6,481.4Z'/>
<path fill='#36aa31' fill-rule='evenodd' d='M1490.1,480.1 1491.6,479.9 1491.6,581.7 1489.1,580.9 1485.6,578.3 1475.6,567.6 1472.1,562.9 1469.6,557.1 1468.5,549.1 1470.4,529.2 1471.9,521.6 1476.1,506.1 1477.1,497.6 1478.5,491.6 1481.6,486.2Z'/>
<path fill='#30a22c' fill-rule='evenodd' d='M1490.6,481.5 1491.6,481.4 1491.5,574.1 1489.6,573.8 1487.1,572.3 1477.1,564.5 1473.2,560.6 1470.4,554.6 1469.3,548.1 1469.9,535.1 1471.4,525.1 1476.6,506.1 1477.6,498.1 1479.1,491.8 1482.1,486.9Z'/>
<path fill='#2a9a28' fill-rule='evenodd' d='M1490.5,483.1 1491.6,483.0 1491.6,568.9 1489.1,568.3 1479.6,562.9 1474.1,558.7 1471.3,553.6 1470.0,546.6 1470.4,535.1 1471.8,525.1 1475.1,511.6 1477.2,505.6 1479.1,494.1 1480.1,491.1 1482.1,488.1Z'/>
<path fill='#259524' fill-rule='evenodd' d='M1490.1,486.1 1491.6,485.8 1491.6,565.4 1489.6,565.0 1480.1,560.6 1475.1,557.2 1472.0,552.3 1470.9,548.1 1470.6,543.6 1470.8,535.1 1472.6,523.0 1475.4,511.6 1477.7,505.6 1480.1,495.0 1481.6,491.7 1483.1,489.8Z'/>
<path fill='#219120' fill-rule='evenodd' d='M1491.6,490.4 1491.6,562.0 1489.1,561.6 1481.6,558.6 1476.1,555.4 1473.8,552.6 1472.1,549.0 1471.1,542.6 1471.3,535.6 1472.6,525.4 1475.9,511.1 1480.6,499.6 1483.1,495.4 1485.6,492.6Z'/>
<path fill='#1c8c1c' fill-rule='evenodd' d='M1489.6,495.1 1491.6,494.8 1491.6,558.8 1483.1,556.5 1476.6,553.1 1474.6,551.0 1472.6,547.6 1471.7,542.1 1471.8,536.6 1473.1,525.6 1476.1,511.6 1478.1,507.3 1481.1,502.8 1486.6,497.1Z'/>
<path fill='#1a8a1a' fill-rule='evenodd' d='M1490.1,499.6 1491.6,499.3 1491.6,555.8 1484.1,554.2 1477.1,551.1 1473.6,547.1 1472.5,542.1 1472.5,536.6 1474.4,520.6 1476.6,511.5 1478.6,507.7 1481.6,504.4Z'/>
<path fill='#000000' fill-rule='evenodd' d='M1490.6,499.6 1491.6,499.5 1491.6,555.6 1483.6,553.9 1476.6,550.6 1473.4,546.6 1472.5,541.6 1472.6,536.8 1474.5,520.1 1476.6,511.5 1478.6,507.7 1481.6,504.5Z'/>
</g>

<rect x='124.9' y='54.9' width='260' height='718' fill='none' stroke='#000' stroke-width='2.5'/>
<line x1='112.3' y1='773.16' x2='124.9' y2='773.16' stroke='#000' stroke-width='2.3'/>
<line x1='118.7' y1='717.93' x2='124.9' y2='717.93' stroke='#000' stroke-width='2.3'/>
<line x1='112.3' y1='662.7' x2='124.9' y2='662.7' stroke='#000' stroke-width='2.3'/>
<line x1='118.7' y1='607.47' x2='124.9' y2='607.47' stroke='#000' stroke-width='2.3'/>
<line x1='112.3' y1='552.24' x2='124.9' y2='552.24' stroke='#000' stroke-width='2.3'/>
<line x1='118.7' y1='497.01' x2='124.9' y2='497.01' stroke='#000' stroke-width='2.3'/>
<line x1='112.3' y1='441.78' x2='124.9' y2='441.78' stroke='#000' stroke-width='2.3'/>
<line x1='118.7' y1='386.55' x2='124.9' y2='386.55' stroke='#000' stroke-width='2.3'/>
<line x1='112.3' y1='331.32' x2='124.9' y2='331.32' stroke='#000' stroke-width='2.3'/>
<line x1='118.7' y1='276.09' x2='124.9' y2='276.09' stroke='#000' stroke-width='2.3'/>
<line x1='112.3' y1='220.86' x2='124.9' y2='220.86' stroke='#000' stroke-width='2.3'/>
<line x1='118.7' y1='165.63' x2='124.9' y2='165.63' stroke='#000' stroke-width='2.3'/>
<line x1='112.3' y1='110.4' x2='124.9' y2='110.4' stroke='#000' stroke-width='2.3'/>
<line x1='124.9' y1='772.9' x2='124.9' y2='778.9' stroke='#000' stroke-width='2.3'/>
<line x1='141.15' y1='772.9' x2='141.15' y2='778.9' stroke='#000' stroke-width='2.3'/>
<line x1='157.4' y1='772.9' x2='157.4' y2='784.9' stroke='#000' stroke-width='2.3'/>
<line x1='173.65' y1='772.9' x2='173.65' y2='778.9' stroke='#000' stroke-width='2.3'/>
<line x1='189.9' y1='772.9' x2='189.9' y2='778.9' stroke='#000' stroke-width='2.3'/>
<line x1='206.15' y1='772.9' x2='206.15' y2='778.9' stroke='#000' stroke-width='2.3'/>
<line x1='222.4' y1='772.9' x2='222.4' y2='778.9' stroke='#000' stroke-width='2.3'/>
<line x1='238.65' y1='772.9' x2='238.65' y2='778.9' stroke='#000' stroke-width='2.3'/>
<line x1='254.9' y1='772.9' x2='254.9' y2='784.9' stroke='#000' stroke-width='2.3'/>
<line x1='271.15' y1='772.9' x2='271.15' y2='778.9' stroke='#000' stroke-width='2.3'/>
<line x1='287.4' y1='772.9' x2='287.4' y2='778.9' stroke='#000' stroke-width='2.3'/>
<line x1='303.65' y1='772.9' x2='303.65' y2='778.9' stroke='#000' stroke-width='2.3'/>
<line x1='319.9' y1='772.9' x2='319.9' y2='778.9' stroke='#000' stroke-width='2.3'/>
<line x1='336.15' y1='772.9' x2='336.15' y2='778.9' stroke='#000' stroke-width='2.3'/>
<line x1='352.4' y1='772.9' x2='352.4' y2='784.9' stroke='#000' stroke-width='2.3'/>
<line x1='368.65' y1='772.9' x2='368.65' y2='778.9' stroke='#000' stroke-width='2.3'/>
<line x1='384.9' y1='772.9' x2='384.9' y2='778.9' stroke='#000' stroke-width='2.3'/>
<text x='133.25' y='818.6' font-size='33' fill='#000' >-</text><path d='M373,0L373,-716L302,-716C292,-690 280,-676 269,-662C255,-645 238,-626 218,-609C185,-582 145,-560 105,-544L105,-459C128,-467 152,-476 174,-487C205,-503 232,-520 254,-540C266,-550 276,-556 285,-566L285,0Z' fill='#000' transform='translate(144.24 818.6) scale(0.03300)'/><text x='162.59' y='818.6' font-size='33' fill='#000' >5</text>
<text x='254.9' y='818.6' font-size='33' text-anchor='middle' fill='#000' >0</text>
<path d='M373,0L373,-716L302,-716C292,-690 280,-676 269,-662C255,-645 238,-626 218,-609C185,-582 145,-560 105,-544L105,-459C128,-467 152,-476 174,-487C205,-503 232,-520 254,-540C266,-550 276,-556 285,-566L285,0Z' fill='#000' transform='translate(334.05 818.6) scale(0.03300)'/><text x='352.4' y='818.6' font-size='33' fill='#000' >5</text>
<rect x='401' y='54.9' width='260' height='718' fill='none' stroke='#000' stroke-width='2.5'/>
<line x1='388.4' y1='662.7' x2='401' y2='662.7' stroke='#000' stroke-width='2.3'/>
<line x1='394.8' y1='524.62' x2='401' y2='524.62' stroke='#000' stroke-width='2.3'/>
<line x1='388.4' y1='386.55' x2='401' y2='386.55' stroke='#000' stroke-width='2.3'/>
<line x1='394.8' y1='248.48' x2='401' y2='248.48' stroke='#000' stroke-width='2.3'/>
<line x1='388.4' y1='110.4' x2='401' y2='110.4' stroke='#000' stroke-width='2.3'/>
<line x1='401' y1='772.9' x2='401' y2='778.9' stroke='#000' stroke-width='2.3'/>
<line x1='417.25' y1='772.9' x2='417.25' y2='778.9' stroke='#000' stroke-width='2.3'/>
<line x1='433.5' y1='772.9' x2='433.5' y2='784.9' stroke='#000' stroke-width='2.3'/>
<line x1='449.75' y1='772.9' x2='449.75' y2='778.9' stroke='#000' stroke-width='2.3'/>
<line x1='466' y1='772.9' x2='466' y2='778.9' stroke='#000' stroke-width='2.3'/>
<line x1='482.25' y1='772.9' x2='482.25' y2='778.9' stroke='#000' stroke-width='2.3'/>
<line x1='498.5' y1='772.9' x2='498.5' y2='778.9' stroke='#000' stroke-width='2.3'/>
<line x1='514.75' y1='772.9' x2='514.75' y2='778.9' stroke='#000' stroke-width='2.3'/>
<line x1='531' y1='772.9' x2='531' y2='784.9' stroke='#000' stroke-width='2.3'/>
<line x1='547.25' y1='772.9' x2='547.25' y2='778.9' stroke='#000' stroke-width='2.3'/>
<line x1='563.5' y1='772.9' x2='563.5' y2='778.9' stroke='#000' stroke-width='2.3'/>
<line x1='579.75' y1='772.9' x2='579.75' y2='778.9' stroke='#000' stroke-width='2.3'/>
<line x1='596' y1='772.9' x2='596' y2='778.9' stroke='#000' stroke-width='2.3'/>
<line x1='612.25' y1='772.9' x2='612.25' y2='778.9' stroke='#000' stroke-width='2.3'/>
<line x1='628.5' y1='772.9' x2='628.5' y2='784.9' stroke='#000' stroke-width='2.3'/>
<line x1='644.75' y1='772.9' x2='644.75' y2='778.9' stroke='#000' stroke-width='2.3'/>
<line x1='661' y1='772.9' x2='661' y2='778.9' stroke='#000' stroke-width='2.3'/>
<text x='409.35' y='818.6' font-size='33' fill='#000' >-</text><path d='M373,0L373,-716L302,-716C292,-690 280,-676 269,-662C255,-645 238,-626 218,-609C185,-582 145,-560 105,-544L105,-459C128,-467 152,-476 174,-487C205,-503 232,-520 254,-540C266,-550 276,-556 285,-566L285,0Z' fill='#000' transform='translate(420.34 818.6) scale(0.03300)'/><text x='438.69' y='818.6' font-size='33' fill='#000' >5</text>
<text x='531' y='818.6' font-size='33' text-anchor='middle' fill='#000' >0</text>
<path d='M373,0L373,-716L302,-716C292,-690 280,-676 269,-662C255,-645 238,-626 218,-609C185,-582 145,-560 105,-544L105,-459C128,-467 152,-476 174,-487C205,-503 232,-520 254,-540C266,-550 276,-556 285,-566L285,0Z' fill='#000' transform='translate(610.15 818.6) scale(0.03300)'/><text x='628.5' y='818.6' font-size='33' fill='#000' >5</text>
<rect x='677.1' y='54.9' width='260' height='718' fill='none' stroke='#000' stroke-width='2.5'/>
<line x1='664.5' y1='662.7' x2='677.1' y2='662.7' stroke='#000' stroke-width='2.3'/>
<line x1='670.9' y1='524.62' x2='677.1' y2='524.62' stroke='#000' stroke-width='2.3'/>
<line x1='664.5' y1='386.55' x2='677.1' y2='386.55' stroke='#000' stroke-width='2.3'/>
<line x1='670.9' y1='248.48' x2='677.1' y2='248.48' stroke='#000' stroke-width='2.3'/>
<line x1='664.5' y1='110.4' x2='677.1' y2='110.4' stroke='#000' stroke-width='2.3'/>
<line x1='677.1' y1='772.9' x2='677.1' y2='778.9' stroke='#000' stroke-width='2.3'/>
<line x1='693.35' y1='772.9' x2='693.35' y2='778.9' stroke='#000' stroke-width='2.3'/>
<line x1='709.6' y1='772.9' x2='709.6' y2='784.9' stroke='#000' stroke-width='2.3'/>
<line x1='725.85' y1='772.9' x2='725.85' y2='778.9' stroke='#000' stroke-width='2.3'/>
<line x1='742.1' y1='772.9' x2='742.1' y2='778.9' stroke='#000' stroke-width='2.3'/>
<line x1='758.35' y1='772.9' x2='758.35' y2='778.9' stroke='#000' stroke-width='2.3'/>
<line x1='774.6' y1='772.9' x2='774.6' y2='778.9' stroke='#000' stroke-width='2.3'/>
<line x1='790.85' y1='772.9' x2='790.85' y2='778.9' stroke='#000' stroke-width='2.3'/>
<line x1='807.1' y1='772.9' x2='807.1' y2='784.9' stroke='#000' stroke-width='2.3'/>
<line x1='823.35' y1='772.9' x2='823.35' y2='778.9' stroke='#000' stroke-width='2.3'/>
<line x1='839.6' y1='772.9' x2='839.6' y2='778.9' stroke='#000' stroke-width='2.3'/>
<line x1='855.85' y1='772.9' x2='855.85' y2='778.9' stroke='#000' stroke-width='2.3'/>
<line x1='872.1' y1='772.9' x2='872.1' y2='778.9' stroke='#000' stroke-width='2.3'/>
<line x1='888.35' y1='772.9' x2='888.35' y2='778.9' stroke='#000' stroke-width='2.3'/>
<line x1='904.6' y1='772.9' x2='904.6' y2='784.9' stroke='#000' stroke-width='2.3'/>
<line x1='920.85' y1='772.9' x2='920.85' y2='778.9' stroke='#000' stroke-width='2.3'/>
<line x1='937.1' y1='772.9' x2='937.1' y2='778.9' stroke='#000' stroke-width='2.3'/>
<text x='685.45' y='818.6' font-size='33' fill='#000' >-</text><path d='M373,0L373,-716L302,-716C292,-690 280,-676 269,-662C255,-645 238,-626 218,-609C185,-582 145,-560 105,-544L105,-459C128,-467 152,-476 174,-487C205,-503 232,-520 254,-540C266,-550 276,-556 285,-566L285,0Z' fill='#000' transform='translate(696.44 818.6) scale(0.03300)'/><text x='714.79' y='818.6' font-size='33' fill='#000' >5</text>
<text x='807.1' y='818.6' font-size='33' text-anchor='middle' fill='#000' >0</text>
<path d='M373,0L373,-716L302,-716C292,-690 280,-676 269,-662C255,-645 238,-626 218,-609C185,-582 145,-560 105,-544L105,-459C128,-467 152,-476 174,-487C205,-503 232,-520 254,-540C266,-550 276,-556 285,-566L285,0Z' fill='#000' transform='translate(886.25 818.6) scale(0.03300)'/><text x='904.6' y='818.6' font-size='33' fill='#000' >5</text>
<rect x='953.2' y='54.9' width='260' height='718' fill='none' stroke='#000' stroke-width='2.5'/>
<line x1='940.6' y1='662.7' x2='953.2' y2='662.7' stroke='#000' stroke-width='2.3'/>
<line x1='947' y1='524.62' x2='953.2' y2='524.62' stroke='#000' stroke-width='2.3'/>
<line x1='940.6' y1='386.55' x2='953.2' y2='386.55' stroke='#000' stroke-width='2.3'/>
<line x1='947' y1='248.48' x2='953.2' y2='248.48' stroke='#000' stroke-width='2.3'/>
<line x1='940.6' y1='110.4' x2='953.2' y2='110.4' stroke='#000' stroke-width='2.3'/>
<line x1='953.2' y1='772.9' x2='953.2' y2='778.9' stroke='#000' stroke-width='2.3'/>
<line x1='969.45' y1='772.9' x2='969.45' y2='778.9' stroke='#000' stroke-width='2.3'/>
<line x1='985.7' y1='772.9' x2='985.7' y2='784.9' stroke='#000' stroke-width='2.3'/>
<line x1='1001.95' y1='772.9' x2='1001.95' y2='778.9' stroke='#000' stroke-width='2.3'/>
<line x1='1018.2' y1='772.9' x2='1018.2' y2='778.9' stroke='#000' stroke-width='2.3'/>
<line x1='1034.45' y1='772.9' x2='1034.45' y2='778.9' stroke='#000' stroke-width='2.3'/>
<line x1='1050.7' y1='772.9' x2='1050.7' y2='778.9' stroke='#000' stroke-width='2.3'/>
<line x1='1066.95' y1='772.9' x2='1066.95' y2='778.9' stroke='#000' stroke-width='2.3'/>
<line x1='1083.2' y1='772.9' x2='1083.2' y2='784.9' stroke='#000' stroke-width='2.3'/>
<line x1='1099.45' y1='772.9' x2='1099.45' y2='778.9' stroke='#000' stroke-width='2.3'/>
<line x1='1115.7' y1='772.9' x2='1115.7' y2='778.9' stroke='#000' stroke-width='2.3'/>
<line x1='1131.95' y1='772.9' x2='1131.95' y2='778.9' stroke='#000' stroke-width='2.3'/>
<line x1='1148.2' y1='772.9' x2='1148.2' y2='778.9' stroke='#000' stroke-width='2.3'/>
<line x1='1164.45' y1='772.9' x2='1164.45' y2='778.9' stroke='#000' stroke-width='2.3'/>
<line x1='1180.7' y1='772.9' x2='1180.7' y2='784.9' stroke='#000' stroke-width='2.3'/>
<line x1='1196.95' y1='772.9' x2='1196.95' y2='778.9' stroke='#000' stroke-width='2.3'/>
<line x1='1213.2' y1='772.9' x2='1213.2' y2='778.9' stroke='#000' stroke-width='2.3'/>
<text x='961.55' y='818.6' font-size='33' fill='#000' >-</text><path d='M373,0L373,-716L302,-716C292,-690 280,-676 269,-662C255,-645 238,-626 218,-609C185,-582 145,-560 105,-544L105,-459C128,-467 152,-476 174,-487C205,-503 232,-520 254,-540C266,-550 276,-556 285,-566L285,0Z' fill='#000' transform='translate(972.54 818.6) scale(0.03300)'/><text x='990.89' y='818.6' font-size='33' fill='#000' >5</text>
<text x='1083.2' y='818.6' font-size='33' text-anchor='middle' fill='#000' >0</text>
<path d='M373,0L373,-716L302,-716C292,-690 280,-676 269,-662C255,-645 238,-626 218,-609C185,-582 145,-560 105,-544L105,-459C128,-467 152,-476 174,-487C205,-503 232,-520 254,-540C266,-550 276,-556 285,-566L285,0Z' fill='#000' transform='translate(1162.35 818.6) scale(0.03300)'/><text x='1180.7' y='818.6' font-size='33' fill='#000' >5</text>
<rect x='1229.3' y='54.9' width='260' height='718' fill='none' stroke='#000' stroke-width='2.5'/>
<line x1='1216.7' y1='662.7' x2='1229.3' y2='662.7' stroke='#000' stroke-width='2.3'/>
<line x1='1223.1' y1='524.62' x2='1229.3' y2='524.62' stroke='#000' stroke-width='2.3'/>
<line x1='1216.7' y1='386.55' x2='1229.3' y2='386.55' stroke='#000' stroke-width='2.3'/>
<line x1='1223.1' y1='248.48' x2='1229.3' y2='248.48' stroke='#000' stroke-width='2.3'/>
<line x1='1216.7' y1='110.4' x2='1229.3' y2='110.4' stroke='#000' stroke-width='2.3'/>
<line x1='1229.3' y1='772.9' x2='1229.3' y2='778.9' stroke='#000' stroke-width='2.3'/>
<line x1='1245.55' y1='772.9' x2='1245.55' y2='778.9' stroke='#000' stroke-width='2.3'/>
<line x1='1261.8' y1='772.9' x2='1261.8' y2='784.9' stroke='#000' stroke-width='2.3'/>
<line x1='1278.05' y1='772.9' x2='1278.05' y2='778.9' stroke='#000' stroke-width='2.3'/>
<line x1='1294.3' y1='772.9' x2='1294.3' y2='778.9' stroke='#000' stroke-width='2.3'/>
<line x1='1310.55' y1='772.9' x2='1310.55' y2='778.9' stroke='#000' stroke-width='2.3'/>
<line x1='1326.8' y1='772.9' x2='1326.8' y2='778.9' stroke='#000' stroke-width='2.3'/>
<line x1='1343.05' y1='772.9' x2='1343.05' y2='778.9' stroke='#000' stroke-width='2.3'/>
<line x1='1359.3' y1='772.9' x2='1359.3' y2='784.9' stroke='#000' stroke-width='2.3'/>
<line x1='1375.55' y1='772.9' x2='1375.55' y2='778.9' stroke='#000' stroke-width='2.3'/>
<line x1='1391.8' y1='772.9' x2='1391.8' y2='778.9' stroke='#000' stroke-width='2.3'/>
<line x1='1408.05' y1='772.9' x2='1408.05' y2='778.9' stroke='#000' stroke-width='2.3'/>
<line x1='1424.3' y1='772.9' x2='1424.3' y2='778.9' stroke='#000' stroke-width='2.3'/>
<line x1='1440.55' y1='772.9' x2='1440.55' y2='778.9' stroke='#000' stroke-width='2.3'/>
<line x1='1456.8' y1='772.9' x2='1456.8' y2='784.9' stroke='#000' stroke-width='2.3'/>
<line x1='1473.05' y1='772.9' x2='1473.05' y2='778.9' stroke='#000' stroke-width='2.3'/>
<line x1='1489.3' y1='772.9' x2='1489.3' y2='778.9' stroke='#000' stroke-width='2.3'/>
<text x='1237.65' y='818.6' font-size='33' fill='#000' >-</text><path d='M373,0L373,-716L302,-716C292,-690 280,-676 269,-662C255,-645 238,-626 218,-609C185,-582 145,-560 105,-544L105,-459C128,-467 152,-476 174,-487C205,-503 232,-520 254,-540C266,-550 276,-556 285,-566L285,0Z' fill='#000' transform='translate(1248.64 818.6) scale(0.03300)'/><text x='1266.99' y='818.6' font-size='33' fill='#000' >5</text>
<text x='1359.3' y='818.6' font-size='33' text-anchor='middle' fill='#000' >0</text>
<path d='M373,0L373,-716L302,-716C292,-690 280,-676 269,-662C255,-645 238,-626 218,-609C185,-582 145,-560 105,-544L105,-459C128,-467 152,-476 174,-487C205,-503 232,-520 254,-540C266,-550 276,-556 285,-566L285,0Z' fill='#000' transform='translate(1438.45 818.6) scale(0.03300)'/><text x='1456.8' y='818.6' font-size='33' fill='#000' >5</text>
<text x='103.5' y='782.86' font-size='33' text-anchor='end' fill='#000' >-0.2</text>
<text x='103.5' y='672.4' font-size='33' text-anchor='end' fill='#000' >0.0</text>
<text x='103.5' y='561.94' font-size='33' text-anchor='end' fill='#000' >0.2</text>
<text x='103.5' y='451.48' font-size='33' text-anchor='end' fill='#000' >0.4</text>
<text x='103.5' y='341.02' font-size='33' text-anchor='end' fill='#000' >0.6</text>
<text x='103.5' y='230.56' font-size='33' text-anchor='end' fill='#000' >0.8</text>
<path d='M373,0L373,-716L302,-716C292,-690 280,-676 269,-662C255,-645 238,-626 218,-609C185,-582 145,-560 105,-544L105,-459C128,-467 152,-476 174,-487C205,-503 232,-520 254,-540C266,-550 276,-556 285,-566L285,0Z' fill='#000' transform='translate(57.63 120.1) scale(0.03300)'/><text x='75.98' y='120.1' font-size='33' fill='#000' >.0</text>
<defs><linearGradient id='cb1' gradientUnits='userSpaceOnUse' x1='309' x2='772' y1='0' y2='0'><stop offset='0.0000' stop-color='#202397'/><stop offset='0.0156' stop-color='#202397'/><stop offset='0.0156' stop-color='#242ca5'/><stop offset='0.0312' stop-color='#242ca5'/><stop offset='0.0312' stop-color='#2835b3'/><stop offset='0.0469' stop-color='#2835b3'/><stop offset='0.0469' stop-color='#2d3dbc'/><stop offset='0.0625' stop-color='#2d3dbc'/><stop offset='0.0625' stop-color='#3145c1'/><stop offset='0.0781' stop-color='#3145c1'/><stop offset='0.0781' stop-color='#364ec7'/><stop offset='0.0938' stop-color='#364ec7'/><stop offset='0.0938' stop-color='#3a57cc'/><stop offset='0.1094' stop-color='#3a57cc'/><stop offset='0.1094' stop-color='#3e6bc9'/><stop offset='0.1250' stop-color='#3e6bc9'/><stop offset='0.1250' stop-color='#3e7db5'/><stop offset='0.1406' stop-color='#3e7db5'/><stop offset='0.1406' stop-color='#3a8a82'/><stop offset='0.1562' stop-color='#3a8a82'/><stop offset='0.1562' stop-color='#3a9160'/><stop offset='0.1719' stop-color='#3a9160'/><stop offset='0.1719' stop-color='#3a9840'/><stop offset='0.1875' stop-color='#3a9840'/><stop offset='0.1875' stop-color='#3e9d39'/><stop offset='0.2031' stop-color='#3e9d39'/><stop offset='0.2031' stop-color='#42a233'/><stop offset='0.2188' stop-color='#42a233'/><stop offset='0.2188' stop-color='#4aa832'/><stop offset='0.2344' stop-color='#4aa832'/><stop offset='0.2344' stop-color='#54af34'/><stop offset='0.2500' stop-color='#54af34'/><stop offset='0.2500' stop-color='#5eb737'/><stop offset='0.2656' stop-color='#5eb737'/><stop offset='0.2656' stop-color='#69bf3d'/><stop offset='0.2812' stop-color='#69bf3d'/><stop offset='0.2812' stop-color='#74c742'/><stop offset='0.2969' stop-color='#74c742'/><stop offset='0.2969' stop-color='#80d048'/><stop offset='0.3125' stop-color='#80d048'/><stop offset='0.3125' stop-color='#8ed64e'/><stop offset='0.3281' stop-color='#8ed64e'/><stop offset='0.3281' stop-color='#9ddc54'/><stop offset='0.3438' stop-color='#9ddc54'/><stop offset='0.3438' stop-color='#abe159'/><stop offset='0.3594' stop-color='#abe159'/><stop offset='0.3594' stop-color='#bae55c'/><stop offset='0.3750' stop-color='#bae55c'/><stop offset='0.3750' stop-color='#c8ea5e'/><stop offset='0.3906' stop-color='#c8ea5e'/><stop offset='0.3906' stop-color='#d6ed62'/><stop offset='0.4062' stop-color='#d6ed62'/><stop offset='0.4062' stop-color='#e1ef66'/><stop offset='0.4219' stop-color='#e1ef66'/><stop offset='0.4219' stop-color='#e8e663'/><stop offset='0.4375' stop-color='#e8e663'/><stop offset='0.4375' stop-color='#e8d058'/><stop offset='0.4531' stop-color='#e8d058'/><stop offset='0.4531' stop-color='#e8bf52'/><stop offset='0.4688' stop-color='#e8bf52'/><stop offset='0.4688' stop-color='#dcb14e'/><stop offset='0.4844' stop-color='#dcb14e'/><stop offset='0.4844' stop-color='#c9a54a'/><stop offset='0.5000' stop-color='#c9a54a'/><stop offset='0.5000' stop-color='#b29545'/><stop offset='0.5156' stop-color='#b29545'/><stop offset='0.5156' stop-color='#9a8240'/><stop offset='0.5312' stop-color='#9a8240'/><stop offset='0.5312' stop-color='#836b40'/><stop offset='0.5469' stop-color='#836b40'/><stop offset='0.5469' stop-color='#6f593e'/><stop offset='0.5625' stop-color='#6f593e'/><stop offset='0.5625' stop-color='#5f4c3b'/><stop offset='0.5781' stop-color='#5f4c3b'/><stop offset='0.5781' stop-color='#504038'/><stop offset='0.5938' stop-color='#504038'/><stop offset='0.5938' stop-color='#544138'/><stop offset='0.6094' stop-color='#544138'/><stop offset='0.6094' stop-color='#574138'/><stop offset='0.6250' stop-color='#574138'/><stop offset='0.6250' stop-color='#5b4339'/><stop offset='0.6406' stop-color='#5b4339'/><stop offset='0.6406' stop-color='#61493f'/><stop offset='0.6562' stop-color='#61493f'/><stop offset='0.6562' stop-color='#674f45'/><stop offset='0.6719' stop-color='#674f45'/><stop offset='0.6719' stop-color='#6d544a'/><stop offset='0.6875' stop-color='#6d544a'/><stop offset='0.6875' stop-color='#72584f'/><stop offset='0.7031' stop-color='#72584f'/><stop offset='0.7031' stop-color='#775c54'/><stop offset='0.7188' stop-color='#775c54'/><stop offset='0.7188' stop-color='#7c6058'/><stop offset='0.7344' stop-color='#7c6058'/><stop offset='0.7344' stop-color='#836560'/><stop offset='0.7500' stop-color='#836560'/><stop offset='0.7500' stop-color='#8a6a68'/><stop offset='0.7656' stop-color='#8a6a68'/><stop offset='0.7656' stop-color='#8e6e6a'/><stop offset='0.7812' stop-color='#8e6e6a'/><stop offset='0.7812' stop-color='#92726d'/><stop offset='0.7969' stop-color='#92726d'/><stop offset='0.7969' stop-color='#95756f'/><stop offset='0.8125' stop-color='#95756f'/><stop offset='0.8125' stop-color='#997972'/><stop offset='0.8281' stop-color='#997972'/><stop offset='0.8281' stop-color='#a3807b'/><stop offset='0.8438' stop-color='#a3807b'/><stop offset='0.8438' stop-color='#ae8686'/><stop offset='0.8594' stop-color='#ae8686'/><stop offset='0.8594' stop-color='#b99191'/><stop offset='0.8750' stop-color='#b99191'/><stop offset='0.8750' stop-color='#c49c9c'/><stop offset='0.8906' stop-color='#c49c9c'/><stop offset='0.8906' stop-color='#cfaaac'/><stop offset='0.9062' stop-color='#cfaaac'/><stop offset='0.9062' stop-color='#d8babd'/><stop offset='0.9219' stop-color='#d8babd'/><stop offset='0.9219' stop-color='#e1c6cb'/><stop offset='0.9375' stop-color='#e1c6cb'/><stop offset='0.9375' stop-color='#e9d0d7'/><stop offset='0.9531' stop-color='#e9d0d7'/><stop offset='0.9531' stop-color='#f0dce3'/><stop offset='0.9688' stop-color='#f0dce3'/><stop offset='0.9688' stop-color='#f7ebef'/><stop offset='0.9844' stop-color='#f7ebef'/><stop offset='0.9844' stop-color='#fdf8fa'/><stop offset='1.0000' stop-color='#fdf8fa'/></linearGradient>
<linearGradient id='cb2' gradientUnits='userSpaceOnUse' x1='1050.9' x2='1391' y1='0' y2='0'><stop offset='0.0000' stop-color='#1d8d1d'/><stop offset='0.0179' stop-color='#1d8d1d'/><stop offset='0.0179' stop-color='#239322'/><stop offset='0.0357' stop-color='#239322'/><stop offset='0.0357' stop-color='#289827'/><stop offset='0.0536' stop-color='#289827'/><stop offset='0.0536' stop-color='#30a22c'/><stop offset='0.0714' stop-color='#30a22c'/><stop offset='0.0714' stop-color='#37ac32'/><stop offset='0.0893' stop-color='#37ac32'/><stop offset='0.0893' stop-color='#3fb737'/><stop offset='0.1071' stop-color='#3fb737'/><stop offset='0.1071' stop-color='#48c03e'/><stop offset='0.1250' stop-color='#48c03e'/><stop offset='0.1250' stop-color='#50c846'/><stop offset='0.1429' stop-color='#50c846'/><stop offset='0.1429' stop-color='#59d14c'/><stop offset='0.1607' stop-color='#59d14c'/><stop offset='0.1607' stop-color='#61d751'/><stop offset='0.1786' stop-color='#61d751'/><stop offset='0.1786' stop-color='#69dd55'/><stop offset='0.1964' stop-color='#69dd55'/><stop offset='0.1964' stop-color='#74e25d'/><stop offset='0.2143' stop-color='#74e25d'/><stop offset='0.2143' stop-color='#7fe665'/><stop offset='0.2321' stop-color='#7fe665'/><stop offset='0.2321' stop-color='#8feb6e'/><stop offset='0.2500' stop-color='#8feb6e'/><stop offset='0.2500' stop-color='#9ff077'/><stop offset='0.2679' stop-color='#9ff077'/><stop offset='0.2679' stop-color='#aaf082'/><stop offset='0.2857' stop-color='#aaf082'/><stop offset='0.2857' stop-color='#b5f08d'/><stop offset='0.3036' stop-color='#b5f08d'/><stop offset='0.3036' stop-color='#c2f098'/><stop offset='0.3214' stop-color='#c2f098'/><stop offset='0.3214' stop-color='#d0f0a2'/><stop offset='0.3393' stop-color='#d0f0a2'/><stop offset='0.3393' stop-color='#def0aa'/><stop offset='0.3571' stop-color='#def0aa'/><stop offset='0.3571' stop-color='#eaf0ae'/><stop offset='0.3750' stop-color='#eaf0ae'/><stop offset='0.3750' stop-color='#f1f0b1'/><stop offset='0.3929' stop-color='#f1f0b1'/><stop offset='0.3929' stop-color='#f4f0b4'/><stop offset='0.4107' stop-color='#f4f0b4'/><stop offset='0.4107' stop-color='#f7f0b7'/><stop offset='0.4286' stop-color='#f7f0b7'/><stop offset='0.4286' stop-color='#f8f0b9'/><stop offset='0.4464' stop-color='#f8f0b9'/><stop offset='0.4464' stop-color='#f9f1ba'/><stop offset='0.4643' stop-color='#f9f1ba'/><stop offset='0.4643' stop-color='#faf1bb'/><stop offset='0.4821' stop-color='#faf1bb'/><stop offset='0.4821' stop-color='#fbf2bc'/><stop offset='0.5000' stop-color='#fbf2bc'/><stop offset='0.5000' stop-color='#faf0b8'/><stop offset='0.5179' stop-color='#faf0b8'/><stop offset='0.5179' stop-color='#f8ebb1'/><stop offset='0.5357' stop-color='#f8ebb1'/><stop offset='0.5357' stop-color='#f8e5a8'/><stop offset='0.5536' stop-color='#f8e5a8'/><stop offset='0.5536' stop-color='#f8df9f'/><stop offset='0.5714' stop-color='#f8df9f'/><stop offset='0.5714' stop-color='#f8d59b'/><stop offset='0.5893' stop-color='#f8d59b'/><stop offset='0.5893' stop-color='#f6cc96'/><stop offset='0.6071' stop-color='#f6cc96'/><stop offset='0.6071' stop-color='#f1c291'/><stop offset='0.6250' stop-color='#f1c291'/><stop offset='0.6250' stop-color='#f4b989'/><stop offset='0.6429' stop-color='#f4b989'/><stop offset='0.6429' stop-color='#f8af7f'/><stop offset='0.6607' stop-color='#f8af7f'/><stop offset='0.6607' stop-color='#f8a676'/><stop offset='0.6786' stop-color='#f8a676'/><stop offset='0.6786' stop-color='#f89c70'/><stop offset='0.6964' stop-color='#f89c70'/><stop offset='0.6964' stop-color='#f89270'/><stop offset='0.7143' stop-color='#f89270'/><stop offset='0.7143' stop-color='#f88868'/><stop offset='0.7321' stop-color='#f88868'/><stop offset='0.7321' stop-color='#f87d5e'/><stop offset='0.7500' stop-color='#f87d5e'/><stop offset='0.7500' stop-color='#f8735a'/><stop offset='0.7679' stop-color='#f8735a'/><stop offset='0.7679' stop-color='#f86a52'/><stop offset='0.7857' stop-color='#f86a52'/><stop offset='0.7857' stop-color='#f86048'/><stop offset='0.8036' stop-color='#f86048'/><stop offset='0.8036' stop-color='#f85a42'/><stop offset='0.8214' stop-color='#f85a42'/><stop offset='0.8214' stop-color='#f8533b'/><stop offset='0.8393' stop-color='#f8533b'/><stop offset='0.8393' stop-color='#f84d36'/><stop offset='0.8571' stop-color='#f84d36'/><stop offset='0.8571' stop-color='#f84633'/><stop offset='0.8750' stop-color='#f84633'/><stop offset='0.8750' stop-color='#f73f2f'/><stop offset='0.8929' stop-color='#f73f2f'/><stop offset='0.8929' stop-color='#f43828'/><stop offset='0.9107' stop-color='#f43828'/><stop offset='0.9107' stop-color='#f13222'/><stop offset='0.9286' stop-color='#f13222'/><stop offset='0.9286' stop-color='#f02d1d'/><stop offset='0.9464' stop-color='#f02d1d'/><stop offset='0.9464' stop-color='#f02919'/><stop offset='0.9643' stop-color='#f02919'/><stop offset='0.9643' stop-color='#f52015'/><stop offset='0.9821' stop-color='#f52015'/><stop offset='0.9821' stop-color='#fc1512'/><stop offset='1.0000' stop-color='#fc1512'/></linearGradient></defs>
<rect x='305.5' y='33.5' width='468' height='21' fill='url(#cb1)' stroke='#000' stroke-width='2'/>
<rect x='305.5' y='34.5' width='3' height='19' fill='#000'/>
<rect x='1048.5' y='35' width='344.5' height='21' fill='url(#cb2)' stroke='#000' stroke-width='2.2'/>
<rect x='1048.5' y='36' width='2.5' height='19' fill='#000'/>
<rect x='1390.5' y='36' width='1.5' height='19' fill='#fff'/>
<line x1='1085' y1='30' x2='1085' y2='35' stroke='#000' stroke-width='2'/>
<line x1='1357' y1='30' x2='1357' y2='35' stroke='#000' stroke-width='2'/>
<text x='305.5' y='26.3' font-size='28' fill='#000'>min</text>
<text x='771.3' y='26.1' font-size='28' text-anchor='end' fill='#000'>max</text>
<text x='1084.5' y='19.9' font-size='24' text-anchor='middle' fill='#000'>-0.8</text>
<text x='1357' y='19.9' font-size='24' text-anchor='middle' fill='#000'>0.8</text>
<rect x='193.5' y='54.9' width='191.1' height='192.1' fill='#fff'/>
<defs><radialGradient id='leed' cx='0.52' cy='0.45' r='0.6'><stop offset='0' stop-color='#3f6c14'/><stop offset='0.3' stop-color='#386414'/><stop offset='0.55' stop-color='#1e3e0a'/><stop offset='0.78' stop-color='#071204'/><stop offset='1' stop-color='#010201'/></radialGradient><radialGradient id='ring' cx='0.5' cy='0.5' r='0.5'><stop offset='0.5' stop-color='#74a02a' stop-opacity='0.75'/><stop offset='0.62' stop-color='#5a8a22' stop-opacity='0.35'/><stop offset='1' stop-color='#3f6c14' stop-opacity='0'/></radialGradient><filter id='bl1' x='-50%' y='-50%' width='200%' height='200%'><feGaussianBlur stdDeviation='1.2'/></filter><filter id='bl2' x='-80%' y='-80%' width='260%' height='260%'><feGaussianBlur stdDeviation='1.3'/></filter></defs>
<rect x='200.5' y='62.5' width='176' height='176' fill='url(#leed)'/>
<circle cx='292.6' cy='139.1' r='52' fill='url(#ring)'/>
<ellipse cx='296' cy='85' rx='4.5' ry='6.1' transform='rotate(25 296 85)' fill='#90b840' opacity='0.54' filter='url(#bl2)'/>
<ellipse cx='296' cy='85' rx='1.8' ry='2.8' transform='rotate(25 296 85)' fill='#d0e870' opacity='0.90' filter='url(#bl1)'/>
<ellipse cx='348.6' cy='125.2' rx='4.5' ry='5.9' transform='rotate(25 348.6 125.2)' fill='#90b840' opacity='0.51' filter='url(#bl2)'/>
<ellipse cx='348.6' cy='125.2' rx='1.8' ry='2.6' transform='rotate(25 348.6 125.2)' fill='#d0e870' opacity='0.85' filter='url(#bl1)'/>
<ellipse cx='340.5' cy='190.1' rx='4.7' ry='6.1' transform='rotate(25 340.5 190.1)' fill='#90b840' opacity='0.54' filter='url(#bl2)'/>
<ellipse cx='340.5' cy='190.1' rx='1.9' ry='2.8' transform='rotate(25 340.5 190.1)' fill='#d0e870' opacity='0.90' filter='url(#bl1)'/>
<ellipse cx='280.2' cy='213.2' rx='3.9' ry='4.7' transform='rotate(25 280.2 213.2)' fill='#90b840' opacity='0.36' filter='url(#bl2)'/>
<ellipse cx='280.2' cy='213.2' rx='1.4' ry='1.9' transform='rotate(25 280.2 213.2)' fill='#d0e870' opacity='0.60' filter='url(#bl1)'/>
<ellipse cx='226.7' cy='175.1' rx='4.9' ry='6.1' transform='rotate(25 226.7 175.1)' fill='#90b840' opacity='0.57' filter='url(#bl2)'/>
<ellipse cx='226.7' cy='175.1' rx='2.0' ry='2.8' transform='rotate(25 226.7 175.1)' fill='#d0e870' opacity='0.95' filter='url(#bl1)'/>
<ellipse cx='234.8' cy='109.2' rx='4.1' ry='5.5' transform='rotate(25 234.8 109.2)' fill='#90b840' opacity='0.36' filter='url(#bl2)'/>
<ellipse cx='234.8' cy='109.2' rx='1.6' ry='2.4' transform='rotate(25 234.8 109.2)' fill='#d0e870' opacity='0.60' filter='url(#bl1)'/>
<filter id='nz' x='0' y='0' width='100%' height='100%'><feTurbulence type='fractalNoise' baseFrequency='0.75' numOctaves='1' seed='7'/><feColorMatrix type='matrix' values='0 0 0 0 0  0 0 0 0 0  0 0 0 0 0  0 0 0 -1.6 1.0'/></filter>
<rect x='200.5' y='62.5' width='176' height='176' fill='#000' filter='url(#nz)' opacity='0.55'/>
<path d='M265.5,62.5 L282.5,62.5 L291,118 L284,119 Z' fill='#050703'/>
<circle cx='292.6' cy='139.1' r='26.6' fill='#020301'/>
<circle cx='290.5' cy='142.5' r='0.7' fill='#ddd'/><circle cx='294.5' cy='142.5' r='0.7' fill='#ddd'/><rect x='286.5' y='126' width='0.8' height='3' fill='#aaa'/>
<text x='131' y='108.6' font-size='46.5' fill='#fff'>(a)</text>
<text x='417' y='108.7' font-size='39' fill='#fff'>(</text><text x='428.5' y='108.7' font-size='46.5' fill='#fff'>b</text><text x='458.6' y='108.7' font-size='39' fill='#fff'>)</text>
<text x='691' y='106.3' font-size='46.5' fill='#fff'>(c)</text>
<text x='962' y='104' font-size='46.5' fill='#000'>(d)</text>
<text x='1239' y='104' font-size='46.5' fill='#000'>(e)</text>
<text x='655.4' y='117.3' font-size='39.5' text-anchor='end' fill='#fff'>250 fs</text>
<path d='M373,0L373,-716L302,-716C292,-690 280,-676 269,-662C255,-645 238,-626 218,-609C185,-582 145,-560 105,-544L105,-459C128,-467 152,-476 174,-487C205,-503 232,-520 254,-540C266,-550 276,-556 285,-566L285,0Z' fill='#fff' transform='translate(857.44 116.7) scale(0.03950)'/><text x='879.41' y='116.7' font-size='39.5' fill='#fff' > ps</text>
<text x='1210.5' y='120.3' font-size='39.5' text-anchor='end' fill='#000'>250 fs</text>
<path d='M373,0L373,-716L302,-716C292,-690 280,-676 269,-662C255,-645 238,-626 218,-609C185,-582 145,-560 105,-544L105,-459C128,-467 152,-476 174,-487C205,-503 232,-520 254,-540C266,-550 276,-556 285,-566L285,0Z' fill='#000' transform='translate(1407.64 117.5) scale(0.03950)'/><text x='1429.61' y='117.5' font-size='39.5' fill='#000' > ps</text>
<text x='515' y='262' font-size='47.5' fill='#000' >B</text><path d='M373,0L373,-716L302,-716C292,-690 280,-676 269,-662C255,-645 238,-626 218,-609C185,-582 145,-560 105,-544L105,-459C128,-467 152,-476 174,-487C205,-503 232,-520 254,-540C266,-550 276,-556 285,-566L285,0Z' fill='#000' transform='translate(546.68 262) scale(0.04750)'/>
<text x='509.9' y='602.2' font-size='47.5' fill='#000'>B2</text>
<text x='494.9' y='721.3' font-size='47.5' fill='#000'>TSS</text>
<rect x='977.5' y='171.0' width='12.5' height='5' fill='#000'/>
<rect x='1187.7' y='161.8' width='22.5' height='4.6' fill='#000'/><rect x='1196.6' y='152.8' width='4.6' height='22.5' fill='#000'/>
<rect x='1020.0' y='522.8' width='12.5' height='5' fill='#000'/>
<rect x='1138.2' y='521.8' width='22.5' height='4.6' fill='#000'/><rect x='1147.1' y='512.9' width='4.6' height='22.5' fill='#000'/>
<rect x='1008.9' y='616.0' width='22.5' height='4.6' fill='#000'/><rect x='1017.8' y='607.0' width='4.6' height='22.5' fill='#000'/>
<rect x='1169.3' y='618.1' width='12.5' height='5' fill='#000'/>
<rect x='1298.8' y='522.8' width='12.5' height='5' fill='#000'/>
<rect x='1414.2' y='526.7' width='22.5' height='4.6' fill='#000'/><rect x='1423.2' y='517.8' width='4.6' height='22.5' fill='#000'/>
<rect x='1284.8' y='614.2' width='22.5' height='4.6' fill='#000'/><rect x='1293.7' y='605.2' width='4.6' height='22.5' fill='#000'/>
<rect x='1443.8' y='616.0' width='12.5' height='5' fill='#000'/>
<text x='704' y='885.4' font-size='40' font-weight='bold' fill='#000'>K</text>
<rect x='733' y='879.5' width='2.3' height='24' fill='#000'/><rect x='739.5' y='879.5' width='2.3' height='24' fill='#000'/>
<text x='744.3' y='885.4' font-size='40' fill='#000' >(</text><path d='M373,0L373,-716L302,-716C292,-690 280,-676 269,-662C255,-645 238,-626 218,-609C185,-582 145,-560 105,-544L105,-459C128,-467 152,-476 174,-487C205,-503 232,-520 254,-540C266,-550 276,-556 285,-566L285,0Z' fill='#000' transform='translate(757.62 885.4) scale(0.04000)'/><text x='779.87' y='885.4' font-size='40' fill='#000' >0</text>
<text x='800.5' y='866.6' font-size='27.6' fill='#000'>-2</text>
<text x='823' y='885.4' font-size='45' fill='#000' transform='translate(823 885.4) scale(1.08 1) translate(-823 -885.4)'>Å</text>
<text x='856' y='866' font-size='27.6' fill='#000' >-</text><path d='M373,0L373,-716L302,-716C292,-690 280,-676 269,-662C255,-645 238,-626 218,-609C185,-582 145,-560 105,-544L105,-459C128,-467 152,-476 174,-487C205,-503 232,-520 254,-540C266,-550 276,-556 285,-566L285,0Z' fill='#000' transform='translate(865.19 866) scale(0.02760)'/>
<text x='881.5' y='885.4' font-size='40' fill='#000'>)</text>
<g transform='translate(31.7 493.8) rotate(-90)'><text x='0' y='0' font-size='40' fill='#000'>E-E</text><text x='66.8' y='10' font-size='20.2' fill='#000'>F</text><text x='78.6' y='0' font-size='40' fill='#000'>(eV)</text></g>
<line x1='118' y1='661.9' x2='1492' y2='661.9' stroke='#fff' stroke-width='1.7'/>
</svg></body></html>
